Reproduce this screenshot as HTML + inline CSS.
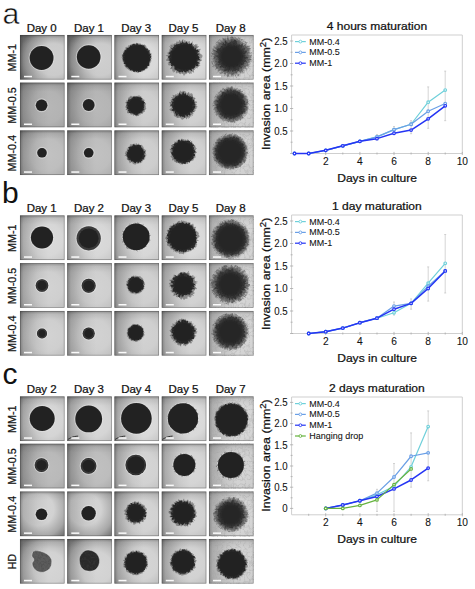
<!DOCTYPE html>
<html><head><meta charset="utf-8"><style>
html,body{margin:0;padding:0;background:#fff;}
body{width:475px;height:589px;overflow:hidden;position:relative;font-family:"Liberation Sans", sans-serif;}
svg{position:absolute;left:0;top:0;font-family:"Liberation Sans", sans-serif;}
.t{stroke:#111;stroke-width:0.24px;}
.s{stroke:#111;stroke-width:0.08px;}
</style></head><body>
<svg width="475" height="589" viewBox="0 0 475 589">
<defs>

<linearGradient id="ledge" x1="0" x2="1"><stop offset="0" stop-color="#000" stop-opacity="0.32"/><stop offset="0.08" stop-color="#000" stop-opacity="0.16"/><stop offset="0.4" stop-color="#000" stop-opacity="0.05"/><stop offset="0.65" stop-color="#000" stop-opacity="0"/></linearGradient>
<linearGradient id="tedge" x1="0" x2="0" y1="0" y2="1"><stop offset="0" stop-color="#000" stop-opacity="0.25"/><stop offset="0.07" stop-color="#000" stop-opacity="0.05"/><stop offset="0.2" stop-color="#000" stop-opacity="0"/></linearGradient>
<filter id="sb" x="-20%" y="-20%" width="140%" height="140%"><feGaussianBlur stdDeviation="0.45"/></filter>
<filter id="sb3" x="-20%" y="-20%" width="140%" height="140%"><feGaussianBlur stdDeviation="0.6"/></filter>
<filter id="sb4" x="-20%" y="-20%" width="140%" height="140%"><feGaussianBlur stdDeviation="1.0"/></filter>
<filter id="sb5" x="-30%" y="-30%" width="160%" height="160%"><feGaussianBlur stdDeviation="2.0"/></filter>
<filter id="sb2" x="-20%" y="-20%" width="140%" height="140%"><feGaussianBlur stdDeviation="0.75"/></filter>
<filter id="mot0" x="0" y="0" width="100%" height="100%"><feTurbulence type="fractalNoise" baseFrequency="0.45" numOctaves="2" seed="2" result="n"/><feColorMatrix in="n" type="matrix" values="0 0 0 0 0  0 0 0 0 0  0 0 0 0 0  3 0 0 0 -1.3" result="m"/><feComposite in="SourceGraphic" in2="m" operator="in"/></filter>
<filter id="tex0" x="0" y="0" width="100%" height="100%"><feTurbulence type="turbulence" baseFrequency="0.22" numOctaves="3" seed="5"/><feColorMatrix type="matrix" values="0 0 0 0 0.35  0 0 0 0 0.35  0 0 0 0 0.35  -1.3 0 0 0 0.42"/></filter>
<filter id="mot1" x="0" y="0" width="100%" height="100%"><feTurbulence type="fractalNoise" baseFrequency="0.45" numOctaves="2" seed="7" result="n"/><feColorMatrix in="n" type="matrix" values="0 0 0 0 0  0 0 0 0 0  0 0 0 0 0  3 0 0 0 -1.3" result="m"/><feComposite in="SourceGraphic" in2="m" operator="in"/></filter>
<filter id="tex1" x="0" y="0" width="100%" height="100%"><feTurbulence type="turbulence" baseFrequency="0.22" numOctaves="3" seed="16"/><feColorMatrix type="matrix" values="0 0 0 0 0.35  0 0 0 0 0.35  0 0 0 0 0.35  -1.3 0 0 0 0.42"/></filter>
<filter id="mot2" x="0" y="0" width="100%" height="100%"><feTurbulence type="fractalNoise" baseFrequency="0.45" numOctaves="2" seed="12" result="n"/><feColorMatrix in="n" type="matrix" values="0 0 0 0 0  0 0 0 0 0  0 0 0 0 0  3 0 0 0 -1.3" result="m"/><feComposite in="SourceGraphic" in2="m" operator="in"/></filter>
<filter id="tex2" x="0" y="0" width="100%" height="100%"><feTurbulence type="turbulence" baseFrequency="0.22" numOctaves="3" seed="27"/><feColorMatrix type="matrix" values="0 0 0 0 0.35  0 0 0 0 0.35  0 0 0 0 0.35  -1.3 0 0 0 0.42"/></filter>

<radialGradient id="g0" cx="0.75" cy="0.55" r="0.8"><stop offset="0" stop-color="#cfcfcf"/><stop offset="0.45" stop-color="#cbcbcb"/><stop offset="0.8" stop-color="#a6a6a6"/><stop offset="1" stop-color="#7e7e7e"/></radialGradient>
<radialGradient id="g1" cx="0.75" cy="0.55" r="0.8"><stop offset="0" stop-color="#cfcfcf"/><stop offset="0.45" stop-color="#cbcbcb"/><stop offset="0.8" stop-color="#a8a8a8"/><stop offset="1" stop-color="#808080"/></radialGradient>
<radialGradient id="g2" cx="0.6" cy="0.55" r="0.8"><stop offset="0" stop-color="#dddddd"/><stop offset="0.45" stop-color="#d9d9d9"/><stop offset="0.8" stop-color="#c2c2c2"/><stop offset="1" stop-color="#a8a8a8"/></radialGradient>
<radialGradient id="g3" cx="0.6" cy="0.55" r="0.8"><stop offset="0" stop-color="#dddddd"/><stop offset="0.45" stop-color="#d9d9d9"/><stop offset="0.8" stop-color="#c8c8c8"/><stop offset="1" stop-color="#b2b2b2"/></radialGradient>
<radialGradient id="g4" cx="0.6" cy="0.55" r="0.8"><stop offset="0" stop-color="#d6d6d6"/><stop offset="0.45" stop-color="#d2d2d2"/><stop offset="0.8" stop-color="#cccccc"/><stop offset="1" stop-color="#c1c1c1"/></radialGradient>
<radialGradient id="fr4"><stop offset="0" stop-color="#2e2e2e"/><stop offset="0.507" stop-color="#363636"/><stop offset="0.798" stop-color="#5e5e5e" stop-opacity="0.55"/><stop offset="1" stop-color="#808080" stop-opacity="0"/></radialGradient>
<radialGradient id="g5" cx="0.6" cy="0.55" r="0.8"><stop offset="0" stop-color="#b7b7b7"/><stop offset="0.45" stop-color="#b3b3b3"/><stop offset="0.8" stop-color="#a0a0a0"/><stop offset="1" stop-color="#888888"/></radialGradient>
<radialGradient id="g6" cx="0.6" cy="0.55" r="0.8"><stop offset="0" stop-color="#b9b9b9"/><stop offset="0.45" stop-color="#b5b5b5"/><stop offset="0.8" stop-color="#a2a2a2"/><stop offset="1" stop-color="#8a8a8a"/></radialGradient>
<radialGradient id="g7" cx="0.6" cy="0.55" r="0.8"><stop offset="0" stop-color="#d1d1d1"/><stop offset="0.45" stop-color="#cdcdcd"/><stop offset="0.8" stop-color="#bababa"/><stop offset="1" stop-color="#a3a3a3"/></radialGradient>
<radialGradient id="g8" cx="0.6" cy="0.55" r="0.8"><stop offset="0" stop-color="#d4d4d4"/><stop offset="0.45" stop-color="#d0d0d0"/><stop offset="0.8" stop-color="#bebebe"/><stop offset="1" stop-color="#a8a8a8"/></radialGradient>
<radialGradient id="g9" cx="0.6" cy="0.55" r="0.8"><stop offset="0" stop-color="#d6d6d6"/><stop offset="0.45" stop-color="#d2d2d2"/><stop offset="0.8" stop-color="#cccccc"/><stop offset="1" stop-color="#c1c1c1"/></radialGradient>
<radialGradient id="fr9"><stop offset="0" stop-color="#2e2e2e"/><stop offset="0.583" stop-color="#363636"/><stop offset="0.843" stop-color="#5e5e5e" stop-opacity="0.55"/><stop offset="1" stop-color="#808080" stop-opacity="0"/></radialGradient>
<radialGradient id="g10" cx="0.6" cy="0.55" r="0.8"><stop offset="0" stop-color="#c2c2c2"/><stop offset="0.45" stop-color="#bebebe"/><stop offset="0.8" stop-color="#aaaaaa"/><stop offset="1" stop-color="#929292"/></radialGradient>
<radialGradient id="g11" cx="0.6" cy="0.55" r="0.8"><stop offset="0" stop-color="#c2c2c2"/><stop offset="0.45" stop-color="#bebebe"/><stop offset="0.8" stop-color="#ababab"/><stop offset="1" stop-color="#949494"/></radialGradient>
<radialGradient id="g12" cx="0.6" cy="0.55" r="0.8"><stop offset="0" stop-color="#d1d1d1"/><stop offset="0.45" stop-color="#cdcdcd"/><stop offset="0.8" stop-color="#bababa"/><stop offset="1" stop-color="#a3a3a3"/></radialGradient>
<radialGradient id="g13" cx="0.6" cy="0.55" r="0.8"><stop offset="0" stop-color="#d4d4d4"/><stop offset="0.45" stop-color="#d0d0d0"/><stop offset="0.8" stop-color="#bebebe"/><stop offset="1" stop-color="#a8a8a8"/></radialGradient>
<radialGradient id="g14" cx="0.6" cy="0.55" r="0.8"><stop offset="0" stop-color="#d6d6d6"/><stop offset="0.45" stop-color="#d2d2d2"/><stop offset="0.8" stop-color="#cccccc"/><stop offset="1" stop-color="#c1c1c1"/></radialGradient>
<radialGradient id="fr14"><stop offset="0" stop-color="#2e2e2e"/><stop offset="0.631" stop-color="#363636"/><stop offset="0.871" stop-color="#5e5e5e" stop-opacity="0.55"/><stop offset="1" stop-color="#808080" stop-opacity="0"/></radialGradient>
<radialGradient id="g15" cx="0.6" cy="0.55" r="0.8"><stop offset="0" stop-color="#dbdbdb"/><stop offset="0.45" stop-color="#d7d7d7"/><stop offset="0.8" stop-color="#c4c4c4"/><stop offset="1" stop-color="#adadad"/></radialGradient>
<radialGradient id="g16" cx="0.6" cy="0.55" r="0.8"><stop offset="0" stop-color="#dbdbdb"/><stop offset="0.45" stop-color="#d7d7d7"/><stop offset="0.8" stop-color="#c4c4c4"/><stop offset="1" stop-color="#adadad"/></radialGradient>
<radialGradient id="g17" cx="0.6" cy="0.55" r="0.8"><stop offset="0" stop-color="#dbdbdb"/><stop offset="0.45" stop-color="#d7d7d7"/><stop offset="0.8" stop-color="#c2c2c2"/><stop offset="1" stop-color="#a8a8a8"/></radialGradient>
<radialGradient id="g18" cx="0.6" cy="0.55" r="0.8"><stop offset="0" stop-color="#dddddd"/><stop offset="0.45" stop-color="#d9d9d9"/><stop offset="0.8" stop-color="#c8c8c8"/><stop offset="1" stop-color="#b2b2b2"/></radialGradient>
<radialGradient id="g19" cx="0.6" cy="0.55" r="0.8"><stop offset="0" stop-color="#d9d9d9"/><stop offset="0.45" stop-color="#d5d5d5"/><stop offset="0.8" stop-color="#d0d0d0"/><stop offset="1" stop-color="#c6c6c6"/></radialGradient>
<radialGradient id="fr19"><stop offset="0" stop-color="#2e2e2e"/><stop offset="0.626" stop-color="#363636"/><stop offset="0.868" stop-color="#5e5e5e" stop-opacity="0.55"/><stop offset="1" stop-color="#808080" stop-opacity="0"/></radialGradient>
<radialGradient id="g20" cx="0.6" cy="0.55" r="0.8"><stop offset="0" stop-color="#d3d3d3"/><stop offset="0.45" stop-color="#cfcfcf"/><stop offset="0.8" stop-color="#bcbcbc"/><stop offset="1" stop-color="#a6a6a6"/></radialGradient>
<radialGradient id="g21" cx="0.6" cy="0.55" r="0.8"><stop offset="0" stop-color="#d3d3d3"/><stop offset="0.45" stop-color="#cfcfcf"/><stop offset="0.8" stop-color="#bcbcbc"/><stop offset="1" stop-color="#a6a6a6"/></radialGradient>
<radialGradient id="g22" cx="0.6" cy="0.55" r="0.8"><stop offset="0" stop-color="#d3d3d3"/><stop offset="0.45" stop-color="#cfcfcf"/><stop offset="0.8" stop-color="#bbbbbb"/><stop offset="1" stop-color="#a3a3a3"/></radialGradient>
<radialGradient id="g23" cx="0.6" cy="0.55" r="0.8"><stop offset="0" stop-color="#d6d6d6"/><stop offset="0.45" stop-color="#d2d2d2"/><stop offset="0.8" stop-color="#bfbfbf"/><stop offset="1" stop-color="#a8a8a8"/></radialGradient>
<radialGradient id="g24" cx="0.6" cy="0.55" r="0.8"><stop offset="0" stop-color="#d9d9d9"/><stop offset="0.45" stop-color="#d5d5d5"/><stop offset="0.8" stop-color="#cecece"/><stop offset="1" stop-color="#c4c4c4"/></radialGradient>
<radialGradient id="fr24"><stop offset="0" stop-color="#2e2e2e"/><stop offset="0.537" stop-color="#363636"/><stop offset="0.816" stop-color="#5e5e5e" stop-opacity="0.55"/><stop offset="1" stop-color="#808080" stop-opacity="0"/></radialGradient>
<radialGradient id="g25" cx="0.6" cy="0.55" r="0.8"><stop offset="0" stop-color="#d3d3d3"/><stop offset="0.45" stop-color="#cfcfcf"/><stop offset="0.8" stop-color="#bcbcbc"/><stop offset="1" stop-color="#a6a6a6"/></radialGradient>
<radialGradient id="g26" cx="0.6" cy="0.55" r="0.8"><stop offset="0" stop-color="#d3d3d3"/><stop offset="0.45" stop-color="#cfcfcf"/><stop offset="0.8" stop-color="#bcbcbc"/><stop offset="1" stop-color="#a6a6a6"/></radialGradient>
<radialGradient id="g27" cx="0.6" cy="0.55" r="0.8"><stop offset="0" stop-color="#d3d3d3"/><stop offset="0.45" stop-color="#cfcfcf"/><stop offset="0.8" stop-color="#bbbbbb"/><stop offset="1" stop-color="#a3a3a3"/></radialGradient>
<radialGradient id="g28" cx="0.6" cy="0.55" r="0.8"><stop offset="0" stop-color="#d6d6d6"/><stop offset="0.45" stop-color="#d2d2d2"/><stop offset="0.8" stop-color="#bfbfbf"/><stop offset="1" stop-color="#a8a8a8"/></radialGradient>
<radialGradient id="g29" cx="0.6" cy="0.55" r="0.8"><stop offset="0" stop-color="#d9d9d9"/><stop offset="0.45" stop-color="#d5d5d5"/><stop offset="0.8" stop-color="#cecece"/><stop offset="1" stop-color="#c4c4c4"/></radialGradient>
<radialGradient id="fr29"><stop offset="0" stop-color="#2e2e2e"/><stop offset="0.590" stop-color="#363636"/><stop offset="0.847" stop-color="#5e5e5e" stop-opacity="0.55"/><stop offset="1" stop-color="#808080" stop-opacity="0"/></radialGradient>
<radialGradient id="g30" cx="0.6" cy="0.55" r="0.8"><stop offset="0" stop-color="#d9d9d9"/><stop offset="0.45" stop-color="#d5d5d5"/><stop offset="0.8" stop-color="#bcbcbc"/><stop offset="1" stop-color="#9e9e9e"/></radialGradient>
<radialGradient id="g31" cx="0.6" cy="0.55" r="0.8"><stop offset="0" stop-color="#d9d9d9"/><stop offset="0.45" stop-color="#d5d5d5"/><stop offset="0.8" stop-color="#bcbcbc"/><stop offset="1" stop-color="#9e9e9e"/></radialGradient>
<radialGradient id="g32" cx="0.6" cy="0.55" r="0.8"><stop offset="0" stop-color="#dddddd"/><stop offset="0.45" stop-color="#d9d9d9"/><stop offset="0.8" stop-color="#c2c2c2"/><stop offset="1" stop-color="#a8a8a8"/></radialGradient>
<radialGradient id="g33" cx="0.6" cy="0.55" r="0.8"><stop offset="0" stop-color="#dddddd"/><stop offset="0.45" stop-color="#d9d9d9"/><stop offset="0.8" stop-color="#c2c2c2"/><stop offset="1" stop-color="#a8a8a8"/></radialGradient>
<radialGradient id="g34" cx="0.6" cy="0.55" r="0.8"><stop offset="0" stop-color="#dbdbdb"/><stop offset="0.45" stop-color="#d7d7d7"/><stop offset="0.8" stop-color="#cecece"/><stop offset="1" stop-color="#c1c1c1"/></radialGradient>
<radialGradient id="g35" cx="0.6" cy="0.55" r="0.8"><stop offset="0" stop-color="#bdbdbd"/><stop offset="0.45" stop-color="#b9b9b9"/><stop offset="0.8" stop-color="#a4a4a4"/><stop offset="1" stop-color="#8c8c8c"/></radialGradient>
<radialGradient id="g36" cx="0.6" cy="0.55" r="0.8"><stop offset="0" stop-color="#c1c1c1"/><stop offset="0.45" stop-color="#bdbdbd"/><stop offset="0.8" stop-color="#a8a8a8"/><stop offset="1" stop-color="#909090"/></radialGradient>
<radialGradient id="g37" cx="0.6" cy="0.55" r="0.8"><stop offset="0" stop-color="#d6d6d6"/><stop offset="0.45" stop-color="#d2d2d2"/><stop offset="0.8" stop-color="#bfbfbf"/><stop offset="1" stop-color="#a8a8a8"/></radialGradient>
<radialGradient id="g38" cx="0.6" cy="0.55" r="0.8"><stop offset="0" stop-color="#d9d9d9"/><stop offset="0.45" stop-color="#d5d5d5"/><stop offset="0.8" stop-color="#c6c6c6"/><stop offset="1" stop-color="#b2b2b2"/></radialGradient>
<radialGradient id="g39" cx="0.6" cy="0.55" r="0.8"><stop offset="0" stop-color="#d6d6d6"/><stop offset="0.45" stop-color="#d2d2d2"/><stop offset="0.8" stop-color="#c9c9c9"/><stop offset="1" stop-color="#bcbcbc"/></radialGradient>
<radialGradient id="g40" cx="0.4" cy="0.4" r="0.8"><stop offset="0" stop-color="#d6d6d6"/><stop offset="0.45" stop-color="#d2d2d2"/><stop offset="0.8" stop-color="#a6a6a6"/><stop offset="1" stop-color="#767676"/></radialGradient>
<radialGradient id="g41" cx="0.4" cy="0.4" r="0.8"><stop offset="0" stop-color="#d6d6d6"/><stop offset="0.45" stop-color="#d2d2d2"/><stop offset="0.8" stop-color="#a8a8a8"/><stop offset="1" stop-color="#7b7b7b"/></radialGradient>
<radialGradient id="g42" cx="0.6" cy="0.55" r="0.8"><stop offset="0" stop-color="#d6d6d6"/><stop offset="0.45" stop-color="#d2d2d2"/><stop offset="0.8" stop-color="#bababa"/><stop offset="1" stop-color="#9e9e9e"/></radialGradient>
<radialGradient id="g43" cx="0.6" cy="0.55" r="0.8"><stop offset="0" stop-color="#d6d6d6"/><stop offset="0.45" stop-color="#d2d2d2"/><stop offset="0.8" stop-color="#bcbcbc"/><stop offset="1" stop-color="#a3a3a3"/></radialGradient>
<radialGradient id="g44" cx="0.6" cy="0.55" r="0.8"><stop offset="0" stop-color="#d9d9d9"/><stop offset="0.45" stop-color="#d5d5d5"/><stop offset="0.8" stop-color="#cacaca"/><stop offset="1" stop-color="#bcbcbc"/></radialGradient>
<radialGradient id="fr44"><stop offset="0" stop-color="#2e2e2e"/><stop offset="0.550" stop-color="#363636"/><stop offset="0.824" stop-color="#5e5e5e" stop-opacity="0.55"/><stop offset="1" stop-color="#808080" stop-opacity="0"/></radialGradient>
<radialGradient id="g45" cx="0.65" cy="0.65" r="0.8"><stop offset="0" stop-color="#d6d6d6"/><stop offset="0.45" stop-color="#d2d2d2"/><stop offset="0.8" stop-color="#b2b2b2"/><stop offset="1" stop-color="#8f8f8f"/></radialGradient>
<radialGradient id="g46" cx="0.65" cy="0.65" r="0.8"><stop offset="0" stop-color="#d6d6d6"/><stop offset="0.45" stop-color="#d2d2d2"/><stop offset="0.8" stop-color="#b2b2b2"/><stop offset="1" stop-color="#8f8f8f"/></radialGradient>
<radialGradient id="g47" cx="0.6" cy="0.55" r="0.8"><stop offset="0" stop-color="#d6d6d6"/><stop offset="0.45" stop-color="#d2d2d2"/><stop offset="0.8" stop-color="#bababa"/><stop offset="1" stop-color="#9e9e9e"/></radialGradient>
<radialGradient id="g48" cx="0.6" cy="0.55" r="0.8"><stop offset="0" stop-color="#d6d6d6"/><stop offset="0.45" stop-color="#d2d2d2"/><stop offset="0.8" stop-color="#bababa"/><stop offset="1" stop-color="#9e9e9e"/></radialGradient>
<radialGradient id="g49" cx="0.6" cy="0.55" r="0.8"><stop offset="0" stop-color="#d6d6d6"/><stop offset="0.45" stop-color="#d2d2d2"/><stop offset="0.8" stop-color="#c9c9c9"/><stop offset="1" stop-color="#bcbcbc"/></radialGradient>
</defs>
<g transform="translate(20,35)">
<rect width="44.5" height="44.5" fill="url(#g0)"/>
<rect width="44.5" height="44.5" fill="url(#ledge)"/>
<rect width="44.5" height="44.5" fill="url(#tedge)"/>
<circle cx="21.6" cy="23.0" r="12.60" fill="none" stroke="#e8e8e8" stroke-width="0.9" opacity="0.55"/>
<circle cx="21.6" cy="23.0" r="11.9" fill="#232323" filter="url(#sb)"/>
<rect x="4" y="40.8" width="8" height="1.5" fill="#fafafa"/>
<rect x="0.3" y="0.3" width="43.9" height="43.9" fill="none" stroke="#3a3a3a" stroke-width="0.7" opacity="0.5"/>
</g>
<g transform="translate(67.3,35)">
<rect width="44.5" height="44.5" fill="url(#g1)"/>
<rect width="44.5" height="44.5" fill="url(#ledge)"/>
<rect width="44.5" height="44.5" fill="url(#tedge)"/>
<circle cx="21.4" cy="22.0" r="12.50" fill="none" stroke="#e8e8e8" stroke-width="0.9" opacity="0.55"/>
<circle cx="21.4" cy="22.0" r="11.8" fill="#232323" filter="url(#sb)"/>
<rect x="4" y="40.8" width="8" height="1.5" fill="#fafafa"/>
<rect x="0.3" y="0.3" width="43.9" height="43.9" fill="none" stroke="#3a3a3a" stroke-width="0.7" opacity="0.5"/>
</g>
<g transform="translate(114.5,35)">
<rect width="44.5" height="44.5" fill="url(#g2)"/>
<rect width="44.5" height="44.5" fill="url(#ledge)"/>
<rect width="44.5" height="44.5" fill="url(#tedge)"/>
<polygon points="37.1,22.8 37.3,23.5 37.3,24.1 36.3,24.6 36.4,25.3 37.2,26.1 36.4,26.6 36.1,27.1 36.2,27.8 35.3,28.1 35.8,29.1 35.3,29.5 34.8,30.0 35.4,31.0 34.4,31.2 33.3,31.2 33.8,32.3 33.5,33.0 33.0,33.4 32.5,33.8 32.0,34.2 30.7,33.7 31.0,35.0 30.4,35.3 29.7,35.3 29.3,35.9 28.6,36.0 28.1,36.6 27.5,36.8 26.8,36.8 26.1,36.5 25.6,36.9 25.0,37.1 24.4,37.8 23.8,38.0 23.1,38.0 22.5,37.5 21.8,36.8 21.2,37.4 20.6,36.9 19.9,37.5 19.4,36.6 18.7,37.1 18.3,36.0 17.5,36.6 17.0,36.2 16.3,36.1 15.8,35.8 15.3,35.4 14.7,35.2 14.0,35.1 13.7,34.3 13.1,34.1 12.2,34.2 12.3,33.2 11.8,32.7 11.3,32.4 10.8,31.9 10.6,31.3 9.7,31.2 9.8,30.3 10.1,29.4 9.6,29.0 9.6,28.3 9.1,27.9 9.1,27.3 8.6,26.8 8.0,26.3 7.8,25.7 8.2,25.0 7.8,24.4 7.6,23.8 7.4,23.1 6.9,22.5 7.6,21.8 7.2,21.2 7.4,20.5 7.2,19.8 7.9,19.3 9.1,19.0 8.9,18.3 8.1,17.3 8.9,16.9 8.9,16.3 9.7,15.9 9.6,15.2 10.1,14.7 10.5,14.2 11.1,13.9 10.7,12.7 11.2,12.3 11.8,11.9 12.5,11.8 13.4,11.8 13.7,11.2 13.7,10.1 14.6,10.4 15.3,10.2 15.6,9.5 16.4,9.7 16.8,9.0 17.7,9.5 18.0,8.7 18.8,9.0 19.4,8.9 19.9,8.4 20.5,8.1 21.2,8.9 21.8,8.1 22.5,7.5 23.1,8.4 23.7,8.2 24.3,8.5 25.0,8.4 25.7,8.3 26.2,8.8 26.7,9.2 27.2,9.6 28.0,9.3 28.3,10.2 29.3,9.6 30.2,9.4 30.6,10.0 31.2,10.2 31.2,11.3 31.9,11.5 32.2,12.1 32.2,13.0 32.9,13.2 33.3,13.7 33.6,14.2 34.2,14.5 34.5,15.1 35.7,15.1 35.2,16.1 35.7,16.6 35.9,17.2 35.2,18.1 36.7,18.3 37.2,18.8 36.9,19.6 36.8,20.3 37.2,20.8 37.1,21.5 36.8,22.2" fill="#4a4a4a" opacity="0.5" filter="url(#sb3)"/>
<polygon points="36.4,22.8 35.5,23.4 36.0,24.0 36.1,24.6 36.1,25.2 35.5,25.7 35.6,26.3 34.9,26.8 35.2,27.4 34.5,27.8 34.6,28.5 34.6,29.1 34.6,29.9 34.6,30.6 34.1,31.0 33.2,31.1 32.6,31.4 32.6,32.2 32.3,32.7 32.0,33.2 31.1,33.2 31.1,34.1 30.3,34.0 30.1,34.9 29.6,35.2 28.8,35.1 28.2,35.3 27.8,35.8 27.1,35.5 26.7,36.2 26.2,36.7 25.6,37.0 24.9,36.8 24.3,36.9 23.7,37.0 23.0,36.3 22.4,36.6 21.8,37.5 21.3,36.3 20.7,36.2 20.0,36.8 19.3,37.1 18.8,36.5 18.5,35.4 17.8,35.8 17.4,35.1 16.7,35.3 16.0,35.3 15.4,35.2 15.3,34.1 14.8,33.9 14.3,33.6 13.9,33.2 13.6,32.6 13.0,32.4 12.6,32.0 12.0,31.7 11.0,31.8 11.3,30.8 10.9,30.4 11.0,29.6 10.9,29.0 9.7,29.0 9.2,28.5 9.1,27.9 9.9,27.0 9.1,26.6 9.3,26.0 8.6,25.5 8.5,24.9 8.6,24.3 8.3,23.7 8.7,23.1 8.5,22.5 8.1,21.9 8.3,21.3 8.2,20.6 7.9,20.0 8.9,19.5 8.6,18.8 8.7,18.2 9.4,17.8 9.7,17.3 9.7,16.6 10.3,16.3 10.1,15.4 10.7,15.1 11.9,15.2 11.7,14.3 11.9,13.8 12.2,13.2 12.8,13.0 13.6,13.0 14.2,12.8 14.4,12.2 15.0,12.0 15.3,11.4 15.5,10.6 16.0,10.2 16.9,10.8 17.2,10.1 17.8,9.8 18.2,9.3 18.7,8.6 19.5,9.2 20.0,9.0 20.7,9.2 21.3,9.7 21.9,9.0 22.5,8.1 23.1,8.7 23.6,9.6 24.2,9.6 24.7,9.8 25.4,9.6 26.0,9.6 26.4,10.1 27.1,10.0 27.8,9.8 28.1,10.5 28.9,10.4 29.7,10.1 29.8,11.2 30.1,11.8 30.6,12.1 30.8,12.8 31.2,13.2 31.6,13.6 32.6,13.4 33.3,13.7 33.5,14.3 33.1,15.3 33.8,15.5 34.9,15.6 34.9,16.3 34.6,17.1 35.1,17.5 34.9,18.3 35.2,18.8 36.4,19.1 36.3,19.7 35.9,20.4 36.1,21.0 36.8,21.5 36.5,22.2" fill="#282828" opacity="1" filter="url(#sb3)"/>
<g stroke="#404040" stroke-linecap="round" opacity="0.5" filter="url(#sb)"><line x1="33.2" y1="19.7" x2="34.7" y2="15.3" stroke-width="0.47"/><line x1="28.1" y1="13.1" x2="30.7" y2="11.5" stroke-width="0.59"/><line x1="13.4" y1="15.8" x2="11.9" y2="13.7" stroke-width="0.51"/><line x1="12.0" y1="27.6" x2="9.5" y2="26.8" stroke-width="0.98"/><line x1="33.1" y1="19.3" x2="35.2" y2="18.1" stroke-width="0.57"/><line x1="33.4" y1="25.3" x2="34.7" y2="25.4" stroke-width="0.60"/><line x1="14.0" y1="30.6" x2="11.6" y2="32.5" stroke-width="0.73"/><line x1="23.3" y1="34.1" x2="24.7" y2="35.2" stroke-width="0.50"/><line x1="11.0" y1="22.1" x2="7.9" y2="20.3" stroke-width="0.52"/><line x1="31.2" y1="15.8" x2="34.6" y2="15.6" stroke-width="0.93"/><line x1="23.2" y1="11.5" x2="22.2" y2="8.6" stroke-width="0.97"/><line x1="33.3" y1="20.1" x2="35.2" y2="21.7" stroke-width="0.82"/><line x1="11.3" y1="25.5" x2="9.0" y2="26.2" stroke-width="0.94"/><line x1="11.0" y1="22.7" x2="8.1" y2="24.0" stroke-width="0.91"/><line x1="31.5" y1="16.1" x2="33.5" y2="15.3" stroke-width="0.94"/><line x1="20.4" y1="11.6" x2="17.9" y2="10.0" stroke-width="0.60"/><line x1="18.8" y1="12.0" x2="21.4" y2="9.9" stroke-width="0.57"/><line x1="31.9" y1="16.8" x2="35.0" y2="19.1" stroke-width="0.82"/><line x1="11.0" y1="22.5" x2="8.7" y2="21.2" stroke-width="0.75"/><line x1="18.0" y1="33.3" x2="17.3" y2="34.8" stroke-width="0.94"/></g>
<circle cx="22.3" cy="22.8" r="12.6" fill="#242424" filter="url(#sb2)"/>
<rect x="4" y="40.8" width="8" height="1.5" fill="#fafafa"/>
<rect x="0.3" y="0.3" width="43.9" height="43.9" fill="none" stroke="#3a3a3a" stroke-width="0.7" opacity="0.5"/>
</g>
<g transform="translate(161.8,35)">
<rect width="44.5" height="44.5" fill="url(#g3)"/>
<rect width="44.5" height="44.5" fill="url(#ledge)"/>
<rect width="44.5" height="44.5" fill="url(#tedge)"/>
<polygon points="39.9,22.3 40.6,23.1 38.4,23.7 38.3,24.4 39.8,25.3 39.4,26.0 38.0,26.4 37.9,27.2 38.7,28.2 37.8,28.6 37.2,29.1 38.7,30.7 36.9,30.6 37.1,31.6 36.5,32.1 35.7,32.4 35.8,33.4 34.0,32.8 34.1,33.8 32.9,33.6 33.4,35.3 31.9,34.6 32.2,36.0 32.3,37.5 31.3,37.4 29.6,35.9 30.0,38.1 29.5,39.0 28.4,38.3 28.0,39.3 26.8,38.0 26.0,37.5 25.3,37.8 24.7,38.3 24.2,39.5 23.4,39.0 22.7,40.5 21.9,40.7 21.2,39.0 20.5,38.9 19.9,38.2 19.0,39.2 18.2,39.1 17.5,38.9 17.1,37.8 16.1,38.5 15.7,37.6 14.4,38.7 14.3,37.1 14.4,35.5 12.5,37.2 11.4,37.4 11.5,36.0 10.2,36.4 10.7,34.7 10.1,34.2 9.4,33.9 8.4,33.7 9.6,31.9 9.8,30.9 9.0,30.6 8.0,30.4 6.7,30.3 6.2,29.7 6.9,28.6 5.5,28.3 6.9,27.1 7.7,26.2 5.9,25.9 4.1,25.5 4.4,24.6 5.7,23.7 5.2,23.0 6.5,22.3 5.9,21.6 3.7,20.7 5.1,20.1 6.8,19.6 6.1,18.8 4.9,17.7 7.0,17.5 7.5,17.0 6.6,15.9 7.8,15.7 7.6,14.8 7.8,14.1 8.2,13.5 8.9,13.1 9.1,12.3 8.4,10.8 8.8,10.2 9.0,9.3 11.2,10.5 12.1,10.4 11.7,8.9 12.8,9.1 12.9,8.0 14.0,8.4 14.4,7.6 14.6,6.5 15.6,6.7 16.2,6.4 17.1,6.7 17.3,4.8 18.3,5.5 19.2,6.6 19.8,5.7 20.4,5.0 21.2,4.9 22.0,7.2 22.7,4.9 23.4,5.1 24.0,6.4 24.8,6.1 25.5,5.8 25.9,7.3 26.9,6.2 27.7,6.0 28.3,6.7 28.3,8.4 29.3,7.9 31.2,5.9 30.7,8.2 30.9,9.1 31.8,9.1 31.7,10.4 33.5,9.3 34.6,9.2 34.4,10.4 35.2,10.7 35.6,11.4 36.4,11.7 35.5,13.2 35.1,14.3 36.3,14.3 38.8,13.8 38.7,14.8 37.2,16.2 38.2,16.6 37.5,17.6 38.5,18.0 38.4,18.8 39.4,19.3 40.6,19.9 40.6,20.7 40.8,21.5" fill="#4a4a4a" opacity="0.5" filter="url(#sb3)"/>
<polygon points="38.0,22.3 37.4,22.9 37.1,23.6 38.6,24.4 37.5,24.9 35.8,25.3 36.0,25.9 35.2,26.3 37.1,27.6 37.9,28.7 35.7,28.5 36.2,29.4 36.6,30.4 36.4,31.1 35.2,31.2 33.3,30.6 33.7,31.7 33.1,32.0 33.0,32.8 32.3,33.0 31.8,33.4 31.9,34.5 30.6,33.8 29.9,33.8 30.1,35.4 29.9,36.4 28.5,35.1 27.7,34.7 27.4,35.6 26.6,35.2 26.6,37.1 25.7,36.3 25.0,36.1 24.6,37.2 23.9,37.4 23.3,37.2 22.6,37.1 22.0,35.9 21.4,36.5 20.6,37.7 20.1,36.5 19.4,37.0 18.8,36.8 17.8,37.8 17.4,37.1 16.7,36.8 16.4,36.0 15.7,35.9 15.1,35.6 14.6,35.2 13.9,35.1 13.4,34.6 12.7,34.5 12.6,33.6 12.6,32.6 12.7,31.7 12.3,31.3 12.0,30.8 11.0,30.8 9.2,31.3 9.2,30.5 9.7,29.4 8.6,29.3 9.4,28.2 8.5,27.9 7.3,27.7 8.2,26.7 7.9,26.1 7.7,25.5 6.6,25.0 7.7,24.2 7.5,23.6 6.6,23.0 6.4,22.3 6.2,21.6 7.5,21.0 7.5,20.4 8.5,19.9 7.8,19.1 6.7,18.2 6.9,17.5 8.4,17.3 8.9,16.8 7.9,15.7 9.5,15.8 9.9,15.2 10.2,14.7 9.4,13.4 10.0,13.0 11.7,13.5 11.1,12.2 11.9,12.1 12.1,11.4 12.3,10.6 12.8,10.3 13.3,9.8 14.1,9.9 14.6,9.3 14.9,8.6 16.1,9.6 16.5,8.9 17.2,9.0 17.7,8.7 18.4,8.8 18.7,7.3 19.4,7.5 20.1,7.9 20.5,6.0 21.3,7.3 22.0,8.3 22.6,7.6 23.2,8.5 23.9,7.3 24.7,6.5 25.2,7.6 25.7,8.3 26.3,8.4 26.7,9.2 27.7,8.3 28.0,9.0 28.8,9.0 30.2,7.8 30.4,8.7 30.0,10.6 31.0,10.3 30.9,11.4 31.6,11.4 32.4,11.5 32.2,12.6 32.2,13.4 34.0,12.7 34.0,13.5 34.2,14.1 34.1,14.9 36.1,14.5 36.8,14.9 36.0,16.0 37.8,16.0 36.1,17.3 35.2,18.3 36.5,18.5 37.7,18.9 36.3,19.9 36.3,20.5 36.7,21.1 37.3,21.7" fill="#282828" opacity="1" filter="url(#sb3)"/>
<g stroke="#404040" stroke-linecap="round" opacity="0.5" filter="url(#sb)"><line x1="23.2" y1="33.8" x2="24.8" y2="38.3" stroke-width="0.76"/><line x1="14.2" y1="14.1" x2="9.8" y2="15.5" stroke-width="0.89"/><line x1="21.6" y1="33.8" x2="17.1" y2="36.3" stroke-width="0.68"/><line x1="28.3" y1="12.4" x2="31.7" y2="9.4" stroke-width="0.50"/><line x1="14.7" y1="13.7" x2="10.8" y2="9.0" stroke-width="0.84"/><line x1="16.8" y1="12.2" x2="17.6" y2="8.9" stroke-width="0.75"/><line x1="18.7" y1="33.2" x2="15.0" y2="34.4" stroke-width="0.68"/><line x1="20.1" y1="11.0" x2="21.1" y2="4.7" stroke-width="0.94"/><line x1="13.2" y1="29.4" x2="9.0" y2="33.4" stroke-width="0.94"/><line x1="30.6" y1="14.4" x2="30.3" y2="10.3" stroke-width="0.54"/><line x1="33.6" y1="19.8" x2="37.9" y2="20.1" stroke-width="0.59"/><line x1="10.8" y1="21.8" x2="6.7" y2="23.0" stroke-width="0.75"/><line x1="12.4" y1="16.5" x2="8.1" y2="11.7" stroke-width="0.94"/><line x1="29.4" y1="13.3" x2="34.9" y2="9.3" stroke-width="0.51"/><line x1="29.7" y1="13.5" x2="36.8" y2="11.7" stroke-width="0.74"/><line x1="19.7" y1="11.1" x2="21.9" y2="7.4" stroke-width="0.74"/><line x1="19.8" y1="33.5" x2="16.3" y2="35.2" stroke-width="0.97"/><line x1="32.1" y1="28.4" x2="37.5" y2="30.6" stroke-width="0.50"/><line x1="19.2" y1="33.4" x2="14.1" y2="37.4" stroke-width="0.44"/><line x1="13.6" y1="14.7" x2="12.9" y2="11.6" stroke-width="0.61"/><line x1="30.7" y1="14.5" x2="35.6" y2="10.1" stroke-width="0.98"/><line x1="18.1" y1="33.0" x2="16.3" y2="35.3" stroke-width="0.44"/><line x1="26.0" y1="33.2" x2="26.4" y2="37.4" stroke-width="0.51"/><line x1="33.4" y1="25.3" x2="39.7" y2="25.0" stroke-width="0.96"/><line x1="31.5" y1="15.3" x2="34.5" y2="12.6" stroke-width="0.71"/><line x1="15.2" y1="13.2" x2="12.6" y2="9.0" stroke-width="0.77"/><line x1="33.0" y1="18.1" x2="37.0" y2="15.8" stroke-width="0.82"/><line x1="23.2" y1="33.8" x2="19.1" y2="37.2" stroke-width="0.71"/><line x1="11.3" y1="18.8" x2="8.7" y2="18.8" stroke-width="0.74"/><line x1="33.7" y1="23.7" x2="38.5" y2="25.7" stroke-width="0.45"/></g>
<circle cx="22.3" cy="22.3" r="12.8" fill="#242424" filter="url(#sb2)"/>
<rect x="4" y="40.8" width="8" height="1.5" fill="#fafafa"/>
<rect x="0.3" y="0.3" width="43.9" height="43.9" fill="none" stroke="#3a3a3a" stroke-width="0.7" opacity="0.5"/>
</g>
<g transform="translate(209,35)">
<rect width="44.5" height="44.5" fill="url(#g4)"/>
<rect width="44.5" height="44.5" fill="url(#ledge)"/>
<rect width="44.5" height="44.5" fill="url(#tedge)"/>
<rect width="44.5" height="44.5" filter="url(#tex1)"/>
<circle cx="22.4" cy="21.5" r="20.79" fill="url(#fr4)"/>
<polygon points="41.7,21.5 42.8,22.4 41.2,23.2 41.6,24.1 41.8,25.0 40.3,25.6 40.9,26.6 40.9,27.5 40.1,28.1 36.8,27.6 38.0,29.0 40.9,31.4 38.9,31.4 36.5,30.8 37.0,32.1 35.2,31.7 35.4,32.9 35.3,33.8 34.0,33.7 33.0,33.7 33.6,35.5 33.6,36.9 32.4,36.6 32.2,37.9 31.5,38.4 29.2,35.7 28.8,36.6 28.0,36.4 28.0,38.6 27.1,38.6 26.3,38.6 25.4,38.0 24.9,40.3 24.2,41.1 23.2,40.4 22.4,41.5 21.6,39.2 20.8,38.8 19.9,40.2 19.4,37.9 18.8,37.3 18.3,36.5 16.7,39.1 15.4,40.2 15.6,37.5 14.6,37.8 14.0,37.0 13.6,36.3 13.0,35.7 12.1,35.7 11.4,35.3 8.9,37.0 10.0,34.5 9.1,34.2 8.2,33.9 7.5,33.4 7.5,32.3 7.1,31.6 6.1,31.2 8.0,29.3 7.4,28.7 6.7,28.2 5.1,28.0 5.5,27.0 5.8,26.1 7.0,25.0 5.9,24.5 3.5,24.1 4.9,23.1 4.4,22.3 5.3,21.5 5.3,20.7 4.8,19.9 2.1,18.8 3.6,18.1 4.7,17.5 5.2,16.7 3.3,15.3 5.2,15.1 7.6,15.2 6.7,13.9 4.2,11.7 6.8,12.2 7.6,11.7 8.3,11.2 6.5,8.8 8.8,9.6 9.0,8.7 9.3,7.8 10.3,7.6 11.4,7.8 12.5,7.9 12.4,6.4 13.8,7.0 13.5,4.9 13.4,2.8 14.4,2.9 15.7,3.6 16.8,4.2 18.1,5.8 18.1,2.8 18.7,1.3 20.0,3.9 21.0,5.8 21.6,3.9 22.4,3.7 23.3,2.1 24.2,2.0 24.9,3.3 25.7,3.4 26.5,3.5 27.5,3.1 28.3,3.4 29.1,3.6 29.5,4.9 31.0,3.6 30.5,6.5 31.1,7.0 32.0,7.0 31.5,8.9 33.4,7.8 33.7,8.5 34.1,9.3 33.9,10.5 35.5,10.1 37.0,9.9 36.6,11.2 39.2,10.4 39.6,11.2 38.5,12.8 39.4,13.3 40.8,13.6 40.5,14.7 40.6,15.6 40.1,16.6 40.3,17.4 39.4,18.4 38.2,19.4 41.0,19.8 41.5,20.6" fill="#4c4c4c" opacity="0.45" filter="url(#sb3)"/>
<circle cx="22.4" cy="21.5" r="20.79" fill="#3a3a3a" filter="url(#mot1)" opacity="0.5"/>
<polygon points="35.7,21.5 38.6,22.2 38.6,23.0 36.6,23.4 37.6,24.3 35.4,24.5 37.0,25.5 38.0,26.6 36.1,26.7 35.0,26.9 34.7,27.4 35.6,28.6 34.7,28.8 34.6,29.6 34.3,30.2 32.9,29.9 32.7,30.5 31.4,30.1 32.7,32.3 32.9,33.6 31.2,32.6 30.2,32.3 30.5,33.8 29.9,34.0 29.9,35.5 29.4,36.0 28.3,35.2 27.5,35.0 27.0,35.8 26.5,36.3 25.7,36.1 25.1,36.3 24.4,36.1 23.8,37.2 23.1,36.0 22.4,34.4 21.8,35.9 21.2,35.3 20.5,35.6 19.7,36.5 18.9,36.9 18.6,35.3 17.9,35.4 16.9,36.0 16.0,36.5 15.3,36.2 14.9,35.5 16.0,32.3 14.6,33.3 14.1,32.9 13.7,32.5 13.3,31.9 11.9,32.4 10.7,32.7 11.1,31.4 12.6,29.3 10.6,30.1 8.6,30.6 9.8,29.0 10.4,28.0 9.5,27.7 8.3,27.5 9.3,26.4 9.9,25.6 10.2,24.9 9.8,24.4 8.4,24.0 10.0,23.2 9.0,22.7 8.8,22.1 6.7,21.5 5.9,20.8 8.9,20.3 9.6,19.8 9.4,19.1 9.7,18.6 8.1,17.5 6.1,16.2 8.0,16.1 7.9,15.3 8.3,14.7 7.4,13.4 9.3,13.7 9.3,12.9 11.2,13.4 11.3,12.7 12.3,12.7 11.7,11.2 12.2,10.8 13.7,11.6 13.3,10.1 13.1,8.8 14.1,8.9 13.7,6.9 15.7,9.1 16.3,8.8 15.9,6.4 16.3,5.4 17.8,7.3 18.9,8.9 19.3,8.0 19.8,7.4 20.5,7.4 21.1,7.1 21.7,6.7 22.4,4.7 23.1,7.0 23.9,5.0 24.5,6.1 25.5,4.5 26.2,4.9 26.9,5.2 27.3,6.4 28.2,5.9 27.9,8.5 28.4,8.9 28.6,10.0 28.8,10.8 30.7,8.9 30.7,10.1 31.4,10.2 33.5,8.8 33.6,9.7 33.5,10.9 32.9,12.3 32.4,13.5 33.3,13.6 35.2,13.0 36.3,13.2 36.1,14.1 34.9,15.5 34.4,16.4 37.0,16.0 37.8,16.5 37.1,17.4 37.3,18.1 35.5,19.1 35.2,19.8 37.3,20.2 34.7,20.9" fill="#303030" opacity="0.9" filter="url(#sb3)"/>
<g stroke="#4a4a4a" stroke-linecap="round" opacity="0.5" filter="url(#sb)"><line x1="23.3" y1="32.1" x2="24.7" y2="36.8" stroke-width="0.51"/><line x1="32.1" y1="25.8" x2="36.2" y2="32.4" stroke-width="0.87"/><line x1="23.4" y1="10.9" x2="24.3" y2="5.3" stroke-width="0.57"/><line x1="27.4" y1="30.9" x2="31.9" y2="33.8" stroke-width="0.94"/><line x1="27.5" y1="12.2" x2="35.1" y2="5.6" stroke-width="0.53"/><line x1="18.5" y1="31.4" x2="13.0" y2="38.1" stroke-width="0.90"/><line x1="30.1" y1="14.2" x2="34.2" y2="11.7" stroke-width="0.80"/><line x1="11.8" y1="21.1" x2="6.4" y2="21.2" stroke-width="0.47"/><line x1="32.1" y1="17.3" x2="41.6" y2="13.8" stroke-width="0.59"/><line x1="31.3" y1="15.7" x2="40.0" y2="15.2" stroke-width="0.89"/><line x1="11.8" y1="20.9" x2="4.9" y2="19.5" stroke-width="0.66"/><line x1="28.0" y1="30.5" x2="28.5" y2="37.2" stroke-width="0.44"/><line x1="32.6" y1="24.5" x2="41.2" y2="24.5" stroke-width="0.72"/><line x1="12.0" y1="23.4" x2="5.4" y2="19.5" stroke-width="0.53"/><line x1="13.3" y1="27.0" x2="8.0" y2="28.8" stroke-width="0.57"/><line x1="15.8" y1="29.9" x2="11.9" y2="38.4" stroke-width="0.73"/><line x1="31.2" y1="15.5" x2="32.4" y2="9.7" stroke-width="0.55"/><line x1="23.4" y1="10.9" x2="21.2" y2="2.5" stroke-width="0.61"/><line x1="27.1" y1="31.0" x2="34.3" y2="34.9" stroke-width="0.81"/><line x1="30.8" y1="15.0" x2="41.0" y2="11.0" stroke-width="0.96"/><line x1="33.0" y1="22.7" x2="37.9" y2="27.9" stroke-width="0.85"/><line x1="13.4" y1="27.2" x2="3.6" y2="31.5" stroke-width="0.88"/><line x1="19.5" y1="31.7" x2="18.6" y2="37.1" stroke-width="0.50"/><line x1="14.6" y1="28.7" x2="8.2" y2="37.5" stroke-width="0.43"/><line x1="32.6" y1="24.4" x2="36.7" y2="28.5" stroke-width="0.62"/><line x1="19.7" y1="31.8" x2="14.4" y2="34.7" stroke-width="0.66"/><line x1="25.2" y1="31.8" x2="30.1" y2="34.6" stroke-width="0.51"/><line x1="17.7" y1="12.0" x2="11.8" y2="9.8" stroke-width="0.69"/><line x1="22.5" y1="32.1" x2="27.4" y2="42.6" stroke-width="0.72"/><line x1="24.0" y1="11.0" x2="29.9" y2="5.6" stroke-width="0.69"/><line x1="22.9" y1="32.1" x2="28.1" y2="38.1" stroke-width="0.66"/><line x1="22.5" y1="32.1" x2="18.5" y2="42.0" stroke-width="0.70"/><line x1="32.8" y1="23.6" x2="38.9" y2="22.2" stroke-width="0.54"/><line x1="23.6" y1="32.0" x2="29.2" y2="41.1" stroke-width="0.45"/><line x1="32.0" y1="16.9" x2="40.8" y2="18.6" stroke-width="0.65"/><line x1="31.0" y1="15.3" x2="39.8" y2="13.2" stroke-width="0.84"/><line x1="11.8" y1="21.9" x2="7.3" y2="24.7" stroke-width="0.91"/><line x1="31.0" y1="15.2" x2="38.2" y2="7.4" stroke-width="0.79"/><line x1="25.7" y1="11.4" x2="31.6" y2="4.7" stroke-width="0.72"/><line x1="16.4" y1="12.7" x2="9.3" y2="7.1" stroke-width="0.94"/><line x1="32.6" y1="18.6" x2="37.7" y2="21.6" stroke-width="0.96"/><line x1="17.2" y1="12.2" x2="18.3" y2="7.0" stroke-width="0.49"/><line x1="32.8" y1="19.4" x2="39.7" y2="12.9" stroke-width="0.51"/><line x1="15.4" y1="13.5" x2="12.3" y2="5.8" stroke-width="0.94"/><line x1="24.5" y1="31.9" x2="21.6" y2="36.3" stroke-width="0.43"/><line x1="30.0" y1="14.1" x2="35.3" y2="12.8" stroke-width="0.86"/><line x1="30.0" y1="14.1" x2="38.3" y2="12.0" stroke-width="0.53"/><line x1="17.4" y1="12.1" x2="18.0" y2="5.0" stroke-width="0.85"/><line x1="11.9" y1="23.4" x2="5.9" y2="29.7" stroke-width="0.44"/><line x1="13.6" y1="15.6" x2="9.9" y2="8.3" stroke-width="0.76"/><line x1="29.2" y1="29.6" x2="31.3" y2="36.3" stroke-width="0.71"/><line x1="33.0" y1="22.2" x2="42.2" y2="26.8" stroke-width="0.47"/><line x1="12.2" y1="18.6" x2="6.7" y2="14.0" stroke-width="0.59"/><line x1="23.5" y1="32.1" x2="19.2" y2="39.3" stroke-width="0.47"/><line x1="30.4" y1="28.5" x2="33.5" y2="37.0" stroke-width="0.71"/><line x1="12.7" y1="25.8" x2="2.4" y2="26.6" stroke-width="0.46"/><line x1="30.2" y1="14.3" x2="32.9" y2="9.2" stroke-width="0.89"/><line x1="13.0" y1="26.5" x2="6.7" y2="34.4" stroke-width="0.91"/><line x1="27.1" y1="31.0" x2="29.5" y2="35.6" stroke-width="0.61"/><line x1="12.1" y1="18.7" x2="3.0" y2="13.5" stroke-width="0.42"/></g>
<circle cx="22.4" cy="21.5" r="11.80" fill="#282828" filter="url(#sb4)"/>
<rect x="4" y="40.8" width="8" height="1.5" fill="#fafafa"/>
<rect x="0.3" y="0.3" width="43.9" height="43.9" fill="none" stroke="#3a3a3a" stroke-width="0.7" opacity="0.5"/>
</g>
<text transform="translate(16.20,57.75) rotate(-90)" text-anchor="middle" font-size="10.8" fill="#111" class="t">MM-1</text>
<g transform="translate(20,82.7)">
<rect width="44.5" height="44.5" fill="url(#g5)"/>
<rect width="44.5" height="44.5" fill="url(#ledge)"/>
<rect width="44.5" height="44.5" fill="url(#tedge)"/>
<circle cx="21.6" cy="22.6" r="6.50" fill="none" stroke="#e8e8e8" stroke-width="0.9" opacity="0.55"/>
<circle cx="21.6" cy="22.6" r="5.8" fill="#232323" filter="url(#sb)"/>
<rect x="4" y="40.8" width="8" height="1.5" fill="#fafafa"/>
<rect x="0.3" y="0.3" width="43.9" height="43.9" fill="none" stroke="#3a3a3a" stroke-width="0.7" opacity="0.5"/>
</g>
<g transform="translate(67.3,82.7)">
<rect width="44.5" height="44.5" fill="url(#g6)"/>
<rect width="44.5" height="44.5" fill="url(#ledge)"/>
<rect width="44.5" height="44.5" fill="url(#tedge)"/>
<circle cx="21.4" cy="22.3" r="6.60" fill="none" stroke="#e8e8e8" stroke-width="0.9" opacity="0.55"/>
<circle cx="21.4" cy="22.3" r="5.9" fill="#232323" filter="url(#sb)"/>
<rect x="4" y="40.8" width="8" height="1.5" fill="#fafafa"/>
<rect x="0.3" y="0.3" width="43.9" height="43.9" fill="none" stroke="#3a3a3a" stroke-width="0.7" opacity="0.5"/>
</g>
<g transform="translate(114.5,82.7)">
<rect width="44.5" height="44.5" fill="url(#g7)"/>
<rect width="44.5" height="44.5" fill="url(#ledge)"/>
<rect width="44.5" height="44.5" fill="url(#tedge)"/>
<polygon points="31.0,23.0 31.3,23.6 31.3,24.1 31.2,24.7 31.6,25.3 31.8,26.0 31.2,26.4 31.1,27.0 30.5,27.3 29.9,27.7 30.3,28.5 30.3,29.3 29.5,29.3 29.0,29.7 28.2,29.8 28.6,30.9 27.9,31.0 27.4,31.2 26.6,31.1 26.4,31.8 25.8,31.8 25.0,31.4 24.7,32.2 24.5,33.0 23.9,33.2 23.3,33.2 22.8,33.4 22.2,33.9 21.6,33.3 21.1,32.0 20.6,32.3 20.1,31.9 19.4,33.1 18.8,33.1 18.5,32.2 18.1,31.7 17.5,31.8 16.7,32.2 16.5,31.5 16.5,30.5 15.6,31.0 15.3,30.4 14.6,30.4 13.4,30.9 13.1,30.3 12.8,29.8 12.6,29.3 12.7,28.5 13.0,27.7 12.5,27.3 11.8,27.1 10.9,26.8 11.9,25.9 12.5,25.2 11.0,25.0 10.8,24.4 10.8,23.9 11.3,23.3 11.6,22.7 11.7,22.2 11.9,21.7 11.7,21.2 11.3,20.5 10.7,19.7 11.1,19.3 12.1,19.0 12.3,18.6 11.6,17.5 13.3,17.9 13.9,17.7 13.5,16.7 13.6,16.1 13.7,15.4 14.3,15.2 14.6,14.7 15.0,14.1 15.4,13.8 16.0,13.5 16.7,13.7 17.2,13.5 17.8,13.5 18.7,14.5 19.0,13.6 19.5,13.4 20.0,13.0 20.6,13.7 21.1,13.0 21.6,13.7 22.1,13.2 22.7,13.0 23.2,13.3 23.9,12.9 24.5,12.8 25.2,12.7 25.5,13.5 26.2,13.3 26.5,14.0 27.1,14.1 27.0,15.2 27.5,15.4 28.2,15.5 28.6,15.9 28.6,16.6 29.3,16.8 29.9,17.0 30.4,17.4 29.5,18.6 29.4,19.2 29.8,19.5 29.6,20.1 31.1,20.2 31.6,20.7 31.6,21.3 31.3,21.9 30.9,22.5" fill="#4a4a4a" opacity="0.5" filter="url(#sb3)"/>
<polygon points="29.7,23.0 29.1,23.4 30.0,24.0 29.3,24.3 29.9,24.9 29.4,25.3 29.1,25.7 29.2,26.2 29.3,26.8 29.9,27.7 28.5,27.5 28.3,27.9 28.1,28.3 28.0,28.8 27.4,28.9 27.8,30.0 27.0,29.9 26.7,30.4 26.0,30.1 25.5,30.2 25.1,30.5 24.7,30.8 24.5,31.5 23.7,30.8 23.4,31.2 23.2,32.8 22.6,32.0 22.1,32.9 21.6,32.6 21.1,32.8 20.6,32.0 20.1,31.8 19.6,32.1 19.2,31.6 18.8,31.3 18.5,30.6 17.8,31.0 17.5,30.6 16.8,30.9 16.8,30.1 15.9,30.6 15.4,30.3 14.9,30.1 14.3,30.0 14.3,29.3 14.8,28.2 14.0,28.3 13.1,28.3 13.6,27.4 14.0,26.6 13.3,26.4 12.2,26.3 12.8,25.6 11.6,25.4 12.6,24.7 12.1,24.2 12.8,23.7 13.3,23.2 12.0,22.7 11.5,22.2 12.6,21.8 12.8,21.4 12.8,20.9 12.2,20.2 12.1,19.6 12.3,19.1 13.5,19.1 13.9,18.8 13.5,18.0 13.2,17.2 14.2,17.3 14.2,16.6 15.1,16.8 15.6,16.7 15.8,16.2 16.6,16.5 16.7,15.8 17.3,15.9 17.6,15.6 18.0,15.4 18.1,14.4 18.6,14.1 19.0,13.8 19.6,14.1 20.1,13.8 20.6,14.5 21.1,13.8 21.6,13.7 22.1,13.8 22.5,14.2 23.1,14.1 23.6,14.0 24.0,14.4 24.5,14.5 25.0,14.6 25.7,14.2 26.1,14.8 26.6,14.8 26.9,15.4 27.4,15.6 27.5,16.3 26.9,17.6 27.8,17.3 27.8,17.9 28.2,18.2 29.2,18.1 29.3,18.7 29.7,19.0 30.0,19.5 30.7,19.8 30.4,20.4 29.5,21.1 29.3,21.7 29.9,22.1 29.8,22.5" fill="#282828" opacity="1" filter="url(#sb3)"/>
<g stroke="#404040" stroke-linecap="round" opacity="0.5" filter="url(#sb)"><line x1="18.2" y1="29.0" x2="16.7" y2="30.3" stroke-width="0.46"/><line x1="14.6" y1="21.5" x2="12.1" y2="23.4" stroke-width="0.70"/><line x1="27.8" y1="24.6" x2="30.5" y2="22.8" stroke-width="0.47"/><line x1="15.2" y1="26.1" x2="13.3" y2="29.6" stroke-width="0.55"/><line x1="16.5" y1="18.2" x2="14.2" y2="15.1" stroke-width="0.64"/><line x1="27.9" y1="22.0" x2="29.5" y2="23.5" stroke-width="0.58"/><line x1="25.4" y1="28.3" x2="27.2" y2="29.1" stroke-width="0.88"/><line x1="24.0" y1="29.1" x2="24.5" y2="32.1" stroke-width="0.63"/><line x1="14.8" y1="21.0" x2="12.8" y2="22.7" stroke-width="0.54"/><line x1="18.3" y1="16.9" x2="16.4" y2="15.1" stroke-width="0.75"/><line x1="14.7" y1="25.0" x2="12.3" y2="24.1" stroke-width="0.81"/><line x1="21.5" y1="29.7" x2="21.4" y2="32.7" stroke-width="0.91"/><line x1="20.3" y1="16.3" x2="22.6" y2="14.2" stroke-width="0.49"/><line x1="15.3" y1="26.3" x2="13.6" y2="29.7" stroke-width="0.69"/><line x1="27.7" y1="24.6" x2="30.3" y2="26.9" stroke-width="0.74"/><line x1="26.0" y1="18.2" x2="28.3" y2="17.4" stroke-width="0.75"/><line x1="15.3" y1="19.8" x2="14.1" y2="16.9" stroke-width="0.95"/><line x1="14.5" y1="24.1" x2="12.2" y2="27.1" stroke-width="0.81"/><line x1="17.1" y1="17.6" x2="16.5" y2="13.4" stroke-width="0.58"/><line x1="16.1" y1="27.4" x2="15.9" y2="31.3" stroke-width="0.68"/><line x1="24.5" y1="28.9" x2="27.2" y2="29.1" stroke-width="0.85"/><line x1="25.8" y1="27.9" x2="27.7" y2="29.0" stroke-width="0.91"/></g>
<circle cx="21.2" cy="23.0" r="7.5" fill="#242424" filter="url(#sb2)"/>
<rect x="4" y="40.8" width="8" height="1.5" fill="#fafafa"/>
<rect x="0.3" y="0.3" width="43.9" height="43.9" fill="none" stroke="#3a3a3a" stroke-width="0.7" opacity="0.5"/>
</g>
<g transform="translate(161.8,82.7)">
<rect width="44.5" height="44.5" fill="url(#g8)"/>
<rect width="44.5" height="44.5" fill="url(#ledge)"/>
<rect width="44.5" height="44.5" fill="url(#tedge)"/>
<polygon points="35.3,22.2 34.1,22.8 35.3,23.6 36.0,24.4 34.6,24.9 35.1,25.7 33.7,26.0 32.8,26.3 33.3,27.2 34.1,28.3 32.8,28.4 33.2,29.3 32.0,29.4 31.1,29.5 31.2,30.3 30.9,30.9 30.8,31.7 31.1,33.0 30.2,33.1 28.6,32.1 29.0,33.8 28.3,33.9 28.1,34.9 27.4,35.2 26.4,34.5 25.5,33.9 25.4,35.8 24.9,36.7 23.9,35.5 23.0,34.0 22.6,35.8 21.9,36.3 21.2,36.7 20.5,37.0 19.8,36.7 19.2,36.0 18.6,35.2 18.0,35.1 17.3,35.0 16.5,35.4 15.9,35.0 15.1,35.0 14.8,34.1 14.3,33.7 13.2,34.0 12.7,33.5 12.1,33.1 11.9,32.3 12.3,31.0 11.7,30.7 11.5,30.0 11.3,29.4 11.2,28.7 11.1,28.1 9.7,28.1 8.5,28.0 7.9,27.4 7.4,26.9 8.6,25.8 10.1,24.8 9.7,24.3 9.8,23.6 8.1,23.2 8.8,22.5 8.0,21.9 8.4,21.2 7.9,20.5 7.2,19.7 8.3,19.2 10.1,19.0 9.1,18.1 9.5,17.6 8.9,16.6 10.3,16.6 10.2,15.8 9.1,14.3 10.7,14.6 12.1,14.9 11.1,13.2 10.9,12.1 12.3,12.5 13.6,13.0 13.2,11.6 14.2,11.8 14.9,11.8 15.7,12.0 15.5,10.3 16.5,10.9 17.1,10.7 17.5,10.1 17.8,8.8 18.3,7.6 19.3,9.1 19.9,8.7 20.6,9.0 21.2,7.8 21.9,8.6 22.6,8.4 23.3,8.4 23.9,9.1 24.4,9.8 24.6,11.1 25.5,10.5 26.6,9.3 27.2,9.6 27.7,10.3 27.9,11.2 29.1,10.5 29.8,10.6 30.5,11.0 30.8,11.7 31.1,12.4 31.0,13.4 31.2,14.1 31.6,14.6 32.8,14.5 32.8,15.3 33.9,15.4 33.0,16.7 32.9,17.4 32.8,18.1 33.3,18.6 34.8,18.8 35.4,19.4 35.0,20.2 33.0,21.0 34.8,21.5" fill="#4a4a4a" opacity="0.5" filter="url(#sb3)"/>
<polygon points="33.3,22.2 32.5,22.8 33.7,23.4 33.5,24.0 32.9,24.5 33.8,25.3 32.7,25.6 32.3,26.1 32.1,26.7 31.8,27.2 31.2,27.5 32.3,28.8 31.0,28.7 30.6,29.1 29.9,29.3 30.1,30.2 28.8,29.7 28.1,29.7 28.4,30.8 29.0,32.6 28.2,32.6 27.7,32.9 26.5,32.0 26.2,32.6 26.0,33.5 25.5,34.0 24.6,33.1 23.8,32.1 23.5,33.5 23.2,35.2 22.5,34.9 21.8,34.2 21.3,33.8 20.7,34.2 20.1,33.9 19.6,33.6 18.8,34.2 18.4,33.7 18.0,32.9 17.0,33.8 16.7,33.1 16.9,31.4 15.7,32.5 14.4,33.5 14.3,32.4 13.9,31.9 13.8,31.1 13.6,30.5 12.6,30.7 13.2,29.4 12.7,29.0 13.0,28.2 11.7,28.4 10.8,28.2 10.3,27.9 9.3,27.6 10.8,26.3 11.3,25.6 10.8,25.2 10.6,24.6 9.6,24.3 10.8,23.5 9.7,23.1 8.1,22.5 9.5,21.9 9.9,21.3 10.2,20.8 10.5,20.3 10.2,19.7 9.1,18.8 11.2,18.8 11.9,18.5 10.5,17.3 10.4,16.6 11.3,16.4 11.7,16.0 12.1,15.6 12.9,15.5 13.0,14.8 13.4,14.5 13.5,13.8 14.2,13.8 14.5,13.3 15.7,13.9 15.2,12.3 16.5,13.5 16.5,12.3 16.9,11.9 17.4,11.6 17.4,9.6 18.4,10.9 19.2,11.9 19.7,11.5 20.2,11.7 20.7,10.4 21.2,8.9 21.9,9.6 22.3,11.5 23.0,10.5 23.6,10.6 24.2,10.7 24.3,12.1 24.8,12.5 25.3,12.6 26.3,11.6 26.1,13.2 26.7,13.2 27.7,12.6 27.6,13.6 28.0,14.0 29.3,13.4 28.8,14.7 30.3,14.0 31.2,14.0 30.8,15.1 30.9,15.8 30.8,16.5 31.1,17.0 31.9,17.2 32.4,17.6 32.3,18.2 32.1,18.9 33.2,19.2 32.7,19.9 32.7,20.5 32.9,21.1 33.6,21.6" fill="#282828" opacity="1" filter="url(#sb3)"/>
<g stroke="#404040" stroke-linecap="round" opacity="0.5" filter="url(#sb)"><line x1="22.6" y1="30.7" x2="26.6" y2="35.6" stroke-width="0.81"/><line x1="28.8" y1="26.6" x2="29.3" y2="30.9" stroke-width="0.54"/><line x1="16.0" y1="15.5" x2="13.3" y2="12.7" stroke-width="0.70"/><line x1="24.4" y1="30.2" x2="29.3" y2="33.6" stroke-width="0.55"/><line x1="29.9" y1="23.3" x2="33.1" y2="23.0" stroke-width="0.93"/><line x1="15.2" y1="28.1" x2="14.5" y2="31.0" stroke-width="0.98"/><line x1="29.3" y1="25.5" x2="33.8" y2="26.3" stroke-width="0.79"/><line x1="16.9" y1="29.5" x2="14.4" y2="33.5" stroke-width="0.78"/><line x1="28.4" y1="17.2" x2="30.1" y2="12.6" stroke-width="0.46"/><line x1="29.5" y1="19.4" x2="32.3" y2="15.9" stroke-width="0.95"/><line x1="13.9" y1="18.1" x2="11.3" y2="13.3" stroke-width="0.58"/><line x1="16.1" y1="28.9" x2="15.3" y2="34.8" stroke-width="0.85"/><line x1="28.4" y1="27.1" x2="31.3" y2="31.1" stroke-width="0.95"/><line x1="26.1" y1="15.1" x2="26.4" y2="10.6" stroke-width="0.50"/><line x1="13.0" y1="20.7" x2="8.8" y2="23.2" stroke-width="0.93"/><line x1="12.9" y1="21.8" x2="8.1" y2="23.8" stroke-width="0.56"/><line x1="29.9" y1="22.8" x2="33.4" y2="21.4" stroke-width="0.66"/><line x1="15.3" y1="28.2" x2="9.5" y2="29.3" stroke-width="0.52"/><line x1="14.6" y1="27.4" x2="11.7" y2="28.2" stroke-width="0.97"/><line x1="23.9" y1="30.4" x2="27.0" y2="34.6" stroke-width="0.43"/><line x1="22.2" y1="13.7" x2="20.1" y2="10.2" stroke-width="0.66"/><line x1="22.4" y1="30.7" x2="23.2" y2="34.4" stroke-width="0.65"/><line x1="14.1" y1="17.7" x2="10.1" y2="18.5" stroke-width="0.47"/><line x1="28.1" y1="27.5" x2="32.0" y2="29.2" stroke-width="0.87"/><line x1="12.9" y1="21.9" x2="8.7" y2="18.0" stroke-width="0.46"/><line x1="29.9" y1="23.1" x2="32.7" y2="22.6" stroke-width="0.74"/><line x1="21.1" y1="13.7" x2="24.3" y2="10.5" stroke-width="0.42"/><line x1="25.8" y1="14.9" x2="29.4" y2="13.9" stroke-width="0.44"/></g>
<circle cx="21.4" cy="22.2" r="9.5" fill="#242424" filter="url(#sb2)"/>
<rect x="4" y="40.8" width="8" height="1.5" fill="#fafafa"/>
<rect x="0.3" y="0.3" width="43.9" height="43.9" fill="none" stroke="#3a3a3a" stroke-width="0.7" opacity="0.5"/>
</g>
<g transform="translate(209,82.7)">
<rect width="44.5" height="44.5" fill="url(#g9)"/>
<rect width="44.5" height="44.5" fill="url(#ledge)"/>
<rect width="44.5" height="44.5" fill="url(#tedge)"/>
<rect width="44.5" height="44.5" filter="url(#tex0)"/>
<circle cx="22.0" cy="22.0" r="18.38" fill="url(#fr9)"/>
<polygon points="38.5,22.0 37.2,22.7 37.1,23.3 37.7,24.1 38.3,24.9 37.3,25.4 38.5,26.5 38.0,27.1 37.6,27.8 37.5,28.5 37.0,29.1 36.6,29.7 36.8,30.7 36.4,31.3 35.1,31.4 33.4,30.9 33.4,31.8 32.9,32.2 34.0,34.3 34.1,35.5 32.7,35.0 32.4,35.9 31.1,35.3 31.3,37.1 29.9,36.1 29.9,37.8 29.1,37.8 28.6,38.6 27.6,38.3 26.6,37.6 25.7,36.8 25.0,36.9 24.6,38.7 23.9,38.9 23.1,37.8 22.4,39.4 21.7,37.4 21.0,36.5 20.1,39.0 19.2,39.8 18.7,38.5 17.8,39.0 17.5,37.2 17.1,36.3 16.0,37.3 15.7,36.2 15.0,36.1 13.3,37.6 13.0,36.5 12.2,36.4 11.5,36.0 11.2,35.1 11.7,33.6 11.4,32.8 9.7,33.5 9.5,32.7 9.3,31.9 7.9,32.1 7.7,31.3 9.0,29.6 7.3,29.8 5.6,29.8 6.9,28.3 5.7,28.0 6.1,27.1 5.3,26.6 6.5,25.5 5.7,24.9 6.6,24.1 7.1,23.3 5.8,22.7 7.3,22.0 6.4,21.3 4.3,20.4 5.6,19.8 4.1,18.8 5.5,18.3 5.6,17.5 6.2,16.9 7.3,16.6 7.5,15.9 7.8,15.3 8.3,14.7 8.2,13.9 8.4,13.2 10.1,13.5 10.3,12.9 10.2,11.9 10.5,11.2 11.5,11.2 12.2,11.0 12.8,10.8 12.1,8.7 12.5,8.0 14.0,9.0 14.7,8.9 15.0,8.0 15.0,6.3 16.1,7.1 17.2,8.1 17.3,6.2 17.6,4.3 18.6,4.9 19.2,4.0 20.1,5.3 20.9,5.1 21.6,5.2 22.4,5.2 23.1,5.0 23.8,6.2 24.4,6.6 25.3,5.8 25.9,6.1 26.5,6.7 27.4,6.3 27.3,8.5 28.7,7.0 29.7,6.7 30.0,7.6 30.9,7.6 31.8,7.6 32.2,8.4 32.8,8.8 32.4,10.4 32.9,10.9 34.2,10.6 34.0,11.7 35.7,11.3 35.2,12.6 35.6,13.2 36.0,13.8 34.9,15.2 35.9,15.4 38.0,15.3 37.1,16.4 38.2,16.8 37.7,17.7 39.6,18.0 38.9,19.0 38.7,19.8 38.5,20.5 38.4,21.3" fill="#4c4c4c" opacity="0.45" filter="url(#sb3)"/>
<circle cx="22.0" cy="22.0" r="18.38" fill="#3a3a3a" filter="url(#mot0)" opacity="0.5"/>
<polygon points="36.5,22.0 34.7,22.6 36.9,23.3 37.6,24.1 35.4,24.4 34.0,24.7 35.6,25.7 36.4,26.6 35.9,27.1 35.7,27.8 35.9,28.6 35.7,29.3 34.1,29.1 34.5,30.1 33.9,30.5 33.8,31.2 32.9,31.4 31.9,31.2 31.7,31.9 30.8,31.8 30.5,32.4 30.8,33.8 29.9,33.6 28.7,32.8 28.3,33.3 28.5,35.0 27.4,34.0 26.8,34.2 26.4,34.9 25.7,34.6 25.4,35.7 24.9,36.6 24.1,35.3 23.5,35.2 22.9,36.0 22.3,36.0 21.7,35.9 21.1,36.1 20.4,36.3 19.9,35.6 19.5,34.6 19.0,34.1 17.9,35.8 17.1,36.3 16.8,35.1 16.3,34.7 15.3,35.4 14.7,35.0 14.8,33.7 14.9,32.5 13.3,33.7 12.3,33.9 12.5,32.6 12.5,31.7 11.0,32.3 10.4,31.9 11.3,30.4 11.7,29.3 10.0,29.8 10.4,28.8 9.7,28.5 7.9,28.7 8.9,27.5 8.6,26.9 7.8,26.6 8.2,25.7 8.2,25.1 6.6,24.8 7.5,23.9 9.1,23.1 7.1,22.7 6.8,22.0 8.5,21.4 9.5,20.9 8.1,20.1 9.8,19.8 7.8,18.8 6.9,17.9 8.8,17.8 9.9,17.5 9.9,16.9 9.3,16.0 9.7,15.5 10.0,14.9 11.1,15.0 11.7,14.6 11.4,13.7 11.6,13.1 12.1,12.8 12.7,12.5 12.9,11.9 12.8,10.8 12.9,9.8 13.5,9.5 14.2,9.4 14.8,9.0 15.9,9.9 16.7,10.2 16.9,9.0 17.5,8.8 17.9,8.3 18.2,6.7 19.0,7.1 19.9,8.5 20.5,8.5 21.0,6.4 21.7,6.6 22.3,6.6 23.0,7.4 23.5,8.8 24.3,7.5 25.0,7.0 25.5,7.9 26.4,7.1 26.7,8.3 27.3,8.6 27.9,8.8 28.9,8.3 28.9,9.5 30.3,8.6 30.5,9.5 31.2,9.7 31.2,10.7 32.3,10.5 32.5,11.3 32.5,12.2 33.6,12.1 34.3,12.4 34.5,13.1 34.6,13.8 34.9,14.5 33.7,15.8 33.4,16.6 33.5,17.2 34.5,17.4 35.2,17.8 35.7,18.3 36.2,18.8 35.3,19.6 36.1,20.1 36.0,20.8 37.0,21.3" fill="#303030" opacity="0.9" filter="url(#sb3)"/>
<g stroke="#4a4a4a" stroke-linecap="round" opacity="0.5" filter="url(#sb)"><line x1="11.5" y1="24.5" x2="8.1" y2="28.7" stroke-width="0.91"/><line x1="32.8" y1="22.4" x2="37.4" y2="26.4" stroke-width="0.47"/><line x1="11.8" y1="18.4" x2="5.5" y2="20.9" stroke-width="0.63"/><line x1="18.9" y1="11.7" x2="19.5" y2="6.4" stroke-width="0.51"/><line x1="22.8" y1="32.8" x2="23.0" y2="36.1" stroke-width="0.94"/><line x1="12.9" y1="16.2" x2="6.8" y2="13.7" stroke-width="0.84"/><line x1="30.7" y1="28.4" x2="33.1" y2="32.2" stroke-width="0.83"/><line x1="12.5" y1="27.1" x2="10.7" y2="30.3" stroke-width="0.54"/><line x1="19.9" y1="32.6" x2="21.7" y2="39.5" stroke-width="0.92"/><line x1="29.8" y1="14.6" x2="31.4" y2="11.7" stroke-width="0.70"/><line x1="32.7" y1="23.6" x2="36.5" y2="28.0" stroke-width="0.48"/><line x1="13.1" y1="15.8" x2="10.7" y2="13.3" stroke-width="0.92"/><line x1="25.1" y1="32.3" x2="29.1" y2="33.7" stroke-width="0.72"/><line x1="32.7" y1="23.2" x2="36.0" y2="23.5" stroke-width="0.94"/><line x1="12.5" y1="27.2" x2="7.8" y2="28.3" stroke-width="0.47"/><line x1="12.5" y1="16.8" x2="9.8" y2="14.2" stroke-width="0.96"/><line x1="32.2" y1="25.6" x2="37.0" y2="28.4" stroke-width="0.50"/><line x1="20.8" y1="32.7" x2="14.6" y2="38.8" stroke-width="0.49"/><line x1="19.0" y1="11.6" x2="14.3" y2="5.6" stroke-width="0.76"/><line x1="32.4" y1="24.9" x2="36.3" y2="27.6" stroke-width="0.75"/><line x1="23.7" y1="11.3" x2="22.9" y2="8.0" stroke-width="0.90"/><line x1="12.7" y1="16.6" x2="7.9" y2="14.9" stroke-width="0.97"/><line x1="12.4" y1="17.1" x2="11.0" y2="13.7" stroke-width="0.60"/><line x1="12.1" y1="26.4" x2="8.8" y2="28.4" stroke-width="0.60"/><line x1="31.2" y1="27.7" x2="37.8" y2="27.2" stroke-width="0.86"/><line x1="32.7" y1="23.7" x2="38.3" y2="27.9" stroke-width="0.70"/><line x1="19.3" y1="11.5" x2="20.3" y2="7.3" stroke-width="0.66"/><line x1="23.3" y1="32.7" x2="25.2" y2="39.9" stroke-width="0.63"/><line x1="28.9" y1="13.7" x2="32.9" y2="11.2" stroke-width="0.52"/><line x1="28.0" y1="13.0" x2="26.6" y2="7.9" stroke-width="0.97"/><line x1="27.0" y1="31.6" x2="25.5" y2="39.8" stroke-width="0.76"/><line x1="32.8" y1="22.8" x2="35.9" y2="20.6" stroke-width="0.64"/><line x1="13.7" y1="15.0" x2="7.1" y2="11.5" stroke-width="0.50"/><line x1="12.0" y1="17.9" x2="7.8" y2="20.0" stroke-width="0.73"/><line x1="18.4" y1="11.8" x2="17.0" y2="9.0" stroke-width="0.81"/><line x1="23.0" y1="11.2" x2="26.9" y2="7.3" stroke-width="0.51"/><line x1="19.7" y1="11.5" x2="22.2" y2="4.7" stroke-width="0.70"/><line x1="30.8" y1="28.3" x2="33.1" y2="30.3" stroke-width="0.52"/><line x1="14.6" y1="14.1" x2="14.2" y2="10.3" stroke-width="0.54"/><line x1="32.8" y1="22.9" x2="36.5" y2="22.8" stroke-width="0.73"/><line x1="13.8" y1="29.0" x2="11.1" y2="31.5" stroke-width="0.95"/><line x1="11.5" y1="19.6" x2="3.9" y2="23.1" stroke-width="0.98"/><line x1="30.3" y1="15.1" x2="34.6" y2="11.8" stroke-width="0.72"/><line x1="31.1" y1="16.2" x2="34.4" y2="15.5" stroke-width="0.72"/><line x1="18.6" y1="32.3" x2="14.6" y2="37.4" stroke-width="0.48"/><line x1="18.6" y1="11.7" x2="17.0" y2="7.0" stroke-width="0.78"/><line x1="32.2" y1="25.5" x2="38.0" y2="26.2" stroke-width="0.91"/></g>
<circle cx="22.0" cy="22.0" r="12.00" fill="#282828" filter="url(#sb4)"/>
<rect x="4" y="40.8" width="8" height="1.5" fill="#fafafa"/>
<rect x="0.3" y="0.3" width="43.9" height="43.9" fill="none" stroke="#3a3a3a" stroke-width="0.7" opacity="0.5"/>
</g>
<text transform="translate(16.20,105.45) rotate(-90)" text-anchor="middle" font-size="10.8" fill="#111" class="t">MM-0.5</text>
<g transform="translate(20,130.5)">
<rect width="44.5" height="44.5" fill="url(#g10)"/>
<rect width="44.5" height="44.5" fill="url(#ledge)"/>
<rect width="44.5" height="44.5" fill="url(#tedge)"/>
<circle cx="22.0" cy="22.3" r="5.50" fill="none" stroke="#e8e8e8" stroke-width="0.9" opacity="0.55"/>
<circle cx="22.0" cy="22.3" r="4.8" fill="#232323" filter="url(#sb)"/>
<rect x="4" y="40.8" width="8" height="1.5" fill="#fafafa"/>
<rect x="0.3" y="0.3" width="43.9" height="43.9" fill="none" stroke="#3a3a3a" stroke-width="0.7" opacity="0.5"/>
</g>
<g transform="translate(67.3,130.5)">
<rect width="44.5" height="44.5" fill="url(#g11)"/>
<rect width="44.5" height="44.5" fill="url(#ledge)"/>
<rect width="44.5" height="44.5" fill="url(#tedge)"/>
<circle cx="21.4" cy="22.3" r="5.50" fill="none" stroke="#e8e8e8" stroke-width="0.9" opacity="0.55"/>
<circle cx="21.4" cy="22.3" r="4.8" fill="#232323" filter="url(#sb)"/>
<rect x="4" y="40.8" width="8" height="1.5" fill="#fafafa"/>
<rect x="0.3" y="0.3" width="43.9" height="43.9" fill="none" stroke="#3a3a3a" stroke-width="0.7" opacity="0.5"/>
</g>
<g transform="translate(114.5,130.5)">
<rect width="44.5" height="44.5" fill="url(#g12)"/>
<rect width="44.5" height="44.5" fill="url(#ledge)"/>
<rect width="44.5" height="44.5" fill="url(#tedge)"/>
<polygon points="31.4,23.3 30.5,23.8 30.3,24.3 30.7,24.9 30.7,25.4 31.5,26.2 30.2,26.4 29.9,26.8 29.5,27.2 29.2,27.6 29.9,28.6 30.1,29.4 29.1,29.4 28.6,29.6 28.3,30.1 28.3,30.9 27.4,30.7 27.1,31.2 26.6,31.4 26.7,32.6 26.0,32.6 25.5,32.9 24.7,32.5 24.2,32.4 23.9,33.4 23.3,33.2 22.7,33.2 22.1,32.7 21.6,33.8 21.1,34.1 20.5,34.1 19.9,34.0 19.4,33.4 18.7,33.8 18.3,33.1 17.9,32.7 17.6,31.8 17.2,31.6 16.2,32.3 15.3,32.7 15.0,32.0 14.7,31.6 14.5,30.9 14.8,29.8 13.9,29.9 13.7,29.4 12.7,29.5 12.4,29.0 12.4,28.3 12.2,27.8 12.5,27.1 12.3,26.6 11.8,26.2 12.0,25.6 11.9,25.1 12.3,24.5 11.5,24.1 10.3,23.6 10.6,23.0 10.9,22.5 10.9,21.9 11.0,21.3 11.3,20.8 12.3,20.5 12.2,20.0 12.4,19.5 12.4,18.9 12.1,18.1 13.2,18.1 13.6,17.8 13.2,16.8 13.8,16.6 14.3,16.3 14.5,15.7 15.2,15.7 16.0,15.9 15.7,14.5 15.8,13.6 16.6,13.7 17.3,13.9 18.0,14.2 18.6,14.4 18.9,13.6 19.3,12.9 19.9,13.1 20.6,14.4 21.1,13.2 21.6,12.4 22.2,13.0 22.5,14.4 23.2,13.9 24.0,12.7 24.4,13.6 24.7,14.3 25.2,14.5 25.7,14.6 26.2,14.9 27.3,14.1 27.5,14.9 28.2,14.9 28.1,15.9 28.8,16.0 28.8,16.8 29.3,17.0 29.2,17.8 29.5,18.2 29.8,18.7 30.7,18.8 30.7,19.5 31.4,19.8 30.8,20.6 31.0,21.1 31.5,21.6 30.7,22.3 31.6,22.7" fill="#4a4a4a" opacity="0.5" filter="url(#sb3)"/>
<polygon points="29.5,23.3 29.5,23.8 29.6,24.2 30.8,24.9 30.1,25.3 30.7,26.0 30.1,26.3 30.0,26.9 29.4,27.1 30.0,28.0 29.2,28.2 29.0,28.7 28.6,29.0 27.5,28.7 27.7,29.5 27.5,30.0 27.2,30.5 26.5,30.4 26.5,31.3 26.3,31.9 25.3,31.3 24.8,31.3 24.5,31.9 24.1,32.2 23.6,32.5 23.0,31.9 22.5,31.6 22.0,31.2 21.6,31.9 21.1,32.7 20.6,32.5 20.1,31.9 19.6,32.4 19.2,31.5 18.8,31.6 18.5,30.8 17.9,31.1 17.1,31.7 17.1,30.7 16.6,30.7 16.4,30.0 16.1,29.8 15.8,29.4 15.0,29.6 14.1,29.7 13.8,29.3 14.1,28.5 13.8,28.1 13.2,27.9 13.1,27.4 13.2,26.8 13.1,26.3 12.2,26.1 12.4,25.5 12.2,25.0 12.1,24.5 11.9,24.1 12.3,23.5 12.4,23.1 12.7,22.6 12.5,22.1 12.3,21.6 13.0,21.2 13.5,20.9 13.2,20.3 12.9,19.7 13.8,19.6 14.3,19.4 14.1,18.7 14.5,18.4 14.6,17.9 13.8,16.6 14.4,16.4 15.2,16.5 15.4,16.0 16.0,15.9 16.5,15.8 17.3,16.3 17.3,15.2 17.9,15.4 18.3,15.2 18.5,14.1 19.0,13.8 19.5,13.8 20.1,14.3 20.6,14.7 21.1,14.5 21.5,15.0 22.0,14.5 22.6,13.8 23.1,14.4 23.5,14.6 24.1,14.3 24.8,14.0 25.1,14.7 25.7,14.6 26.2,14.9 26.6,15.1 26.5,16.2 26.6,16.9 27.0,17.1 27.4,17.3 27.7,17.7 28.2,17.9 28.2,18.5 28.3,19.0 29.3,19.0 29.1,19.6 29.1,20.1 28.9,20.7 30.2,20.8 30.7,21.2 30.1,21.8 30.7,22.3 29.9,22.8" fill="#282828" opacity="1" filter="url(#sb3)"/>
<g stroke="#404040" stroke-linecap="round" opacity="0.5" filter="url(#sb)"><line x1="14.5" y1="24.4" x2="11.4" y2="23.9" stroke-width="0.50"/><line x1="27.9" y1="23.8" x2="30.3" y2="22.7" stroke-width="0.87"/><line x1="18.7" y1="17.0" x2="18.0" y2="14.1" stroke-width="0.79"/><line x1="25.3" y1="28.6" x2="28.3" y2="29.4" stroke-width="0.93"/><line x1="27.5" y1="25.7" x2="31.4" y2="24.5" stroke-width="0.80"/><line x1="17.7" y1="29.1" x2="14.9" y2="30.0" stroke-width="0.43"/><line x1="27.5" y1="25.8" x2="30.9" y2="27.3" stroke-width="0.47"/><line x1="27.9" y1="22.8" x2="31.3" y2="20.0" stroke-width="0.66"/><line x1="25.7" y1="28.4" x2="26.6" y2="30.5" stroke-width="0.51"/><line x1="19.0" y1="16.9" x2="17.0" y2="16.1" stroke-width="0.88"/><line x1="15.7" y1="27.2" x2="13.4" y2="28.3" stroke-width="0.69"/><line x1="16.1" y1="27.8" x2="14.3" y2="27.9" stroke-width="0.96"/><line x1="27.9" y1="22.3" x2="30.8" y2="21.0" stroke-width="0.62"/><line x1="18.7" y1="17.0" x2="15.5" y2="15.2" stroke-width="0.55"/><line x1="16.8" y1="28.4" x2="13.8" y2="29.2" stroke-width="0.70"/><line x1="27.8" y1="24.5" x2="31.4" y2="24.7" stroke-width="0.71"/><line x1="22.4" y1="29.9" x2="23.4" y2="32.3" stroke-width="0.85"/><line x1="26.6" y1="27.4" x2="29.8" y2="27.5" stroke-width="0.81"/><line x1="27.8" y1="24.8" x2="30.0" y2="24.5" stroke-width="0.78"/><line x1="27.6" y1="25.5" x2="30.5" y2="24.7" stroke-width="0.58"/><line x1="14.5" y1="24.3" x2="10.7" y2="25.0" stroke-width="0.96"/><line x1="24.5" y1="29.2" x2="27.1" y2="32.0" stroke-width="0.53"/></g>
<circle cx="21.2" cy="23.3" r="7.5" fill="#242424" filter="url(#sb2)"/>
<rect x="4" y="40.8" width="8" height="1.5" fill="#fafafa"/>
<rect x="0.3" y="0.3" width="43.9" height="43.9" fill="none" stroke="#3a3a3a" stroke-width="0.7" opacity="0.5"/>
</g>
<g transform="translate(161.8,130.5)">
<rect width="44.5" height="44.5" fill="url(#g13)"/>
<rect width="44.5" height="44.5" fill="url(#ledge)"/>
<rect width="44.5" height="44.5" fill="url(#tedge)"/>
<polygon points="34.6,21.2 35.3,21.9 34.5,22.5 33.7,23.0 33.4,23.6 33.3,24.1 33.3,24.8 34.3,25.7 33.2,26.0 34.1,27.1 32.8,27.2 32.5,27.7 32.2,28.3 32.0,28.9 31.1,29.0 31.7,30.3 30.6,30.2 29.6,30.0 29.4,30.7 28.7,30.8 28.2,31.0 27.5,31.0 27.3,31.8 26.5,31.6 26.4,32.7 26.0,33.4 25.4,33.5 24.7,33.3 24.0,33.1 23.6,34.0 22.9,33.3 22.3,33.8 21.7,33.3 21.1,33.7 20.4,34.3 20.0,32.9 19.3,33.7 18.8,33.0 18.1,33.2 17.4,33.6 17.0,32.7 16.4,32.6 15.9,32.3 15.6,31.7 14.5,32.3 14.4,31.4 13.6,31.4 12.9,31.2 12.3,31.0 12.1,30.3 12.0,29.5 10.5,30.0 10.2,29.4 10.2,28.6 10.6,27.6 9.5,27.4 9.8,26.6 8.3,26.5 9.6,25.3 9.7,24.7 9.2,24.2 9.7,23.5 9.1,23.0 9.8,22.3 8.9,21.8 8.0,21.2 9.1,20.6 9.3,20.0 8.3,19.3 7.6,18.5 9.1,18.2 9.0,17.5 9.1,16.9 10.5,16.8 9.9,15.9 9.0,14.7 10.2,14.6 10.2,13.9 10.9,13.6 12.1,13.7 12.5,13.3 12.9,12.9 12.4,11.5 12.8,11.0 13.8,11.3 14.7,11.5 14.6,10.2 15.1,9.9 15.8,9.9 16.6,10.1 17.1,9.9 17.4,8.9 18.0,8.6 18.9,9.9 19.3,9.0 19.8,7.9 20.5,8.3 21.1,8.7 21.7,8.6 22.3,9.0 22.9,9.2 23.4,9.2 24.2,8.7 24.5,9.9 25.2,9.6 26.3,8.3 26.5,9.5 27.2,9.5 27.3,10.5 27.7,11.1 28.5,11.0 28.6,11.8 29.3,11.8 29.3,12.7 29.8,13.0 30.4,13.2 31.2,13.3 32.2,13.4 32.1,14.2 32.2,14.8 33.4,14.9 33.5,15.6 33.6,16.2 34.0,16.8 34.0,17.4 35.1,17.8 34.5,18.6 33.7,19.4 33.7,20.0 33.0,20.6" fill="#4a4a4a" opacity="0.5" filter="url(#sb3)"/>
<polygon points="33.7,21.2 34.0,21.8 32.7,22.3 31.7,22.7 32.7,23.4 33.5,24.2 33.0,24.7 33.3,25.4 32.4,25.7 31.2,25.7 31.8,26.6 31.9,27.4 31.1,27.5 31.7,28.7 30.4,28.5 30.2,29.0 29.7,29.3 29.6,30.0 29.2,30.4 28.0,29.9 28.2,31.0 28.1,32.0 27.4,32.0 26.4,31.3 25.9,31.5 25.4,31.9 24.9,32.0 24.2,31.6 24.0,33.1 23.5,33.4 22.9,33.5 22.3,32.9 21.7,33.1 21.1,33.0 20.5,33.3 20.0,33.0 19.5,32.3 19.0,32.0 18.3,32.6 17.8,32.1 17.3,31.9 16.6,32.2 16.2,31.6 16.0,30.9 15.3,31.1 15.1,30.3 14.1,30.8 14.0,30.0 14.0,29.2 13.6,28.8 12.8,28.8 12.6,28.3 11.7,28.2 12.4,27.1 12.0,26.7 11.2,26.5 11.3,25.9 11.6,25.2 10.2,25.1 10.4,24.5 10.0,24.0 10.2,23.4 9.3,23.0 9.6,22.3 9.3,21.8 10.7,21.2 10.8,20.7 10.9,20.2 10.2,19.6 11.1,19.2 9.5,18.3 9.3,17.6 10.2,17.3 11.2,17.0 10.9,16.3 11.3,15.9 11.9,15.6 12.3,15.2 11.5,14.0 11.8,13.5 12.6,13.4 12.6,12.6 13.5,12.7 13.7,12.0 14.4,12.0 15.3,12.4 15.6,11.8 15.9,11.2 16.1,10.6 16.2,9.3 16.9,9.2 17.6,9.5 18.4,10.1 19.1,10.8 19.4,9.6 19.9,8.8 20.6,9.8 21.1,10.6 21.7,10.0 22.2,10.3 22.7,10.5 23.2,10.7 23.9,9.8 24.3,10.7 24.9,10.3 25.5,10.3 26.3,10.0 26.8,10.2 27.3,10.6 28.1,10.4 28.2,11.4 28.8,11.6 28.8,12.4 30.2,11.7 30.5,12.4 30.7,12.9 30.5,13.9 31.6,13.8 31.8,14.4 32.6,14.6 31.2,16.1 31.0,16.8 32.5,16.7 32.3,17.4 32.2,18.0 31.7,18.7 32.1,19.1 32.4,19.6 33.1,20.1 33.4,20.6" fill="#282828" opacity="1" filter="url(#sb3)"/>
<g stroke="#404040" stroke-linecap="round" opacity="0.5" filter="url(#sb)"><line x1="20.9" y1="30.2" x2="19.3" y2="33.7" stroke-width="0.90"/><line x1="24.9" y1="29.5" x2="28.0" y2="30.5" stroke-width="0.55"/><line x1="20.5" y1="12.2" x2="20.5" y2="10.1" stroke-width="0.54"/><line x1="18.9" y1="29.8" x2="15.8" y2="31.8" stroke-width="0.76"/><line x1="30.4" y1="22.0" x2="32.8" y2="19.8" stroke-width="0.91"/><line x1="24.7" y1="12.8" x2="28.5" y2="10.2" stroke-width="0.84"/><line x1="29.9" y1="18.4" x2="33.0" y2="15.4" stroke-width="0.90"/><line x1="12.4" y1="21.9" x2="8.5" y2="21.8" stroke-width="0.66"/><line x1="15.5" y1="28.0" x2="14.6" y2="31.0" stroke-width="0.49"/><line x1="25.2" y1="13.0" x2="30.1" y2="11.5" stroke-width="0.81"/><line x1="12.9" y1="18.2" x2="8.6" y2="19.6" stroke-width="0.80"/><line x1="13.0" y1="24.3" x2="11.7" y2="26.9" stroke-width="0.71"/><line x1="21.2" y1="30.2" x2="20.4" y2="33.2" stroke-width="0.64"/><line x1="27.5" y1="27.8" x2="31.0" y2="28.7" stroke-width="0.55"/><line x1="24.5" y1="29.7" x2="28.1" y2="30.9" stroke-width="0.78"/><line x1="30.0" y1="18.6" x2="33.1" y2="19.3" stroke-width="0.94"/><line x1="30.1" y1="23.6" x2="31.4" y2="26.1" stroke-width="0.89"/><line x1="15.6" y1="14.3" x2="13.8" y2="13.0" stroke-width="0.91"/><line x1="28.2" y1="15.3" x2="29.6" y2="11.0" stroke-width="0.90"/><line x1="15.0" y1="27.6" x2="14.5" y2="32.0" stroke-width="0.96"/><line x1="14.2" y1="15.8" x2="10.0" y2="15.3" stroke-width="0.77"/><line x1="13.5" y1="16.8" x2="10.1" y2="16.1" stroke-width="0.83"/><line x1="16.5" y1="28.8" x2="17.2" y2="32.0" stroke-width="0.80"/><line x1="28.3" y1="27.0" x2="31.7" y2="26.1" stroke-width="0.78"/></g>
<circle cx="21.4" cy="21.2" r="10" fill="#242424" filter="url(#sb2)"/>
<rect x="4" y="40.8" width="8" height="1.5" fill="#fafafa"/>
<rect x="0.3" y="0.3" width="43.9" height="43.9" fill="none" stroke="#3a3a3a" stroke-width="0.7" opacity="0.5"/>
</g>
<g transform="translate(209,130.5)">
<rect width="44.5" height="44.5" fill="url(#g14)"/>
<rect width="44.5" height="44.5" fill="url(#ledge)"/>
<rect width="44.5" height="44.5" fill="url(#tedge)"/>
<rect width="44.5" height="44.5" filter="url(#tex2)"/>
<circle cx="21.2" cy="21.2" r="18.38" fill="url(#fr14)"/>
<polygon points="37.0,21.2 38.6,21.9 37.0,22.5 37.0,23.2 37.2,23.9 38.4,24.9 37.2,25.4 35.8,25.7 37.1,26.8 37.8,27.9 36.1,27.9 36.4,28.9 36.4,29.7 36.6,30.7 36.1,31.3 35.8,32.0 33.5,31.2 32.6,31.2 33.1,32.6 32.8,33.4 32.7,34.2 32.4,35.1 31.3,34.8 31.0,35.7 30.3,36.0 29.5,36.0 28.7,36.1 28.5,37.3 27.5,36.9 27.1,37.8 26.2,37.4 25.2,36.6 24.8,37.7 24.3,39.0 23.4,38.6 22.6,38.1 21.9,37.4 21.2,36.4 20.5,37.2 19.7,38.3 19.1,37.9 18.2,38.7 17.6,37.7 16.8,38.2 16.3,37.3 16.1,35.6 15.0,36.6 14.7,35.5 13.6,36.4 12.7,36.4 12.5,35.4 11.4,35.7 11.6,34.2 11.0,33.8 10.2,33.7 9.4,33.5 9.1,32.8 8.9,32.0 8.6,31.3 7.3,31.5 6.8,31.0 6.2,30.4 6.2,29.6 6.4,28.6 6.5,27.8 5.3,27.6 6.2,26.5 6.4,25.7 5.3,25.3 5.7,24.5 5.2,23.9 5.6,23.2 5.7,22.5 5.5,21.9 5.6,21.2 5.3,20.5 4.6,19.8 6.3,19.3 4.8,18.4 3.6,17.4 4.2,16.8 5.4,16.4 5.6,15.7 7.3,15.6 6.8,14.7 7.2,14.1 7.3,13.4 6.3,12.0 7.3,11.8 7.8,11.3 8.7,11.1 8.7,10.2 9.0,9.5 9.1,8.5 10.1,8.6 10.4,7.8 11.5,8.1 12.6,8.4 13.0,7.8 13.5,7.5 14.0,7.0 14.7,6.8 15.0,5.8 15.6,5.5 16.4,5.6 17.3,6.2 17.8,5.6 18.4,4.8 19.1,4.6 19.9,6.0 20.5,4.3 21.2,4.5 21.9,3.8 22.7,3.9 23.2,5.5 23.8,6.1 24.8,4.6 25.8,3.7 26.5,3.9 27.3,4.1 27.4,5.8 28.5,5.1 29.0,5.7 29.6,6.2 30.4,6.3 31.0,6.7 31.6,7.1 32.3,7.5 32.6,8.3 33.6,8.3 32.9,10.0 33.6,10.3 34.3,10.6 33.6,12.0 35.2,11.7 36.2,12.0 36.0,12.9 36.5,13.5 35.5,14.7 35.4,15.5 37.0,15.6 38.4,15.9 37.5,17.0 38.1,17.6 38.3,18.3 37.3,19.1 36.9,19.9 36.3,20.6" fill="#4c4c4c" opacity="0.45" filter="url(#sb3)"/>
<circle cx="21.2" cy="21.2" r="18.38" fill="#3a3a3a" filter="url(#mot2)" opacity="0.5"/>
<polygon points="35.4,21.2 34.6,21.8 35.9,22.5 35.1,23.0 35.7,23.7 35.7,24.3 35.7,25.0 34.2,25.2 34.9,26.0 34.9,26.7 34.1,27.0 33.7,27.5 34.0,28.4 33.9,29.0 32.9,29.1 32.4,29.5 32.6,30.4 32.6,31.2 32.5,32.0 32.0,32.5 31.1,32.4 30.4,32.6 29.7,32.7 30.0,34.2 29.0,33.9 28.8,34.7 27.9,34.6 27.4,35.0 26.9,35.5 26.2,35.4 25.6,35.5 24.9,35.5 24.2,35.3 23.8,36.4 23.0,35.3 22.3,34.4 21.8,34.6 21.2,34.5 20.6,35.0 20.0,35.6 19.4,35.5 18.7,35.8 18.1,35.5 17.4,35.9 16.9,35.1 16.0,35.8 15.5,35.3 14.9,35.1 14.7,34.2 14.6,33.1 13.8,33.3 13.0,33.3 12.6,32.8 12.0,32.6 11.5,32.3 11.3,31.5 10.4,31.5 9.3,31.7 9.9,30.3 10.3,29.3 9.2,29.3 7.9,29.4 8.3,28.4 7.2,28.2 6.7,27.7 6.6,27.1 7.0,26.2 6.6,25.7 6.8,24.9 5.8,24.5 6.2,23.8 5.6,23.2 7.2,22.4 7.4,21.8 6.5,21.2 6.8,20.6 6.3,19.9 6.8,19.4 5.9,18.6 5.5,17.8 7.0,17.5 8.1,17.2 8.0,16.5 8.5,16.1 7.7,15.1 8.5,14.8 8.4,14.0 9.9,14.2 9.2,13.1 8.3,11.6 9.4,11.7 10.3,11.6 10.9,11.3 11.9,11.4 11.5,10.1 11.7,9.5 12.4,9.4 13.7,10.1 13.6,8.8 14.6,9.5 14.9,8.7 15.3,8.2 15.8,7.8 16.2,6.9 17.1,7.7 17.6,7.2 18.2,7.3 18.9,8.0 19.4,7.4 20.0,7.4 20.6,6.7 21.2,6.4 21.8,6.8 22.5,6.5 23.1,6.6 23.5,7.6 24.4,6.1 25.2,5.9 25.8,6.3 26.1,7.4 26.9,7.0 27.8,6.6 28.3,7.2 28.9,7.4 29.5,7.8 29.9,8.3 30.1,9.1 29.9,10.4 30.6,10.5 30.5,11.5 31.7,11.1 31.6,12.0 32.0,12.5 33.0,12.5 33.8,12.7 33.9,13.4 34.8,13.6 34.6,14.4 34.6,15.2 33.6,16.2 35.2,16.3 36.0,16.7 35.7,17.4 34.6,18.3 34.9,18.8 36.6,19.2 35.7,20.0 36.6,20.5" fill="#303030" opacity="0.9" filter="url(#sb3)"/>
<g stroke="#4a4a4a" stroke-linecap="round" opacity="0.5" filter="url(#sb)"><line x1="30.4" y1="28.5" x2="33.3" y2="32.8" stroke-width="0.95"/><line x1="19.7" y1="32.8" x2="17.1" y2="35.7" stroke-width="0.79"/><line x1="17.4" y1="32.3" x2="16.7" y2="37.3" stroke-width="0.86"/><line x1="29.8" y1="29.1" x2="29.4" y2="33.6" stroke-width="0.62"/><line x1="20.4" y1="32.9" x2="18.7" y2="38.2" stroke-width="0.50"/><line x1="10.1" y1="17.5" x2="4.7" y2="19.2" stroke-width="0.78"/><line x1="29.6" y1="29.4" x2="34.5" y2="28.9" stroke-width="0.53"/><line x1="32.8" y1="19.6" x2="36.6" y2="23.6" stroke-width="0.67"/><line x1="12.1" y1="13.9" x2="8.9" y2="8.9" stroke-width="0.48"/><line x1="11.3" y1="15.0" x2="5.8" y2="15.3" stroke-width="0.47"/><line x1="29.5" y1="12.9" x2="30.3" y2="8.0" stroke-width="0.67"/><line x1="23.5" y1="32.7" x2="24.6" y2="38.0" stroke-width="0.48"/><line x1="26.1" y1="10.6" x2="25.4" y2="7.5" stroke-width="0.44"/><line x1="20.5" y1="9.5" x2="20.5" y2="6.7" stroke-width="0.47"/><line x1="9.6" y1="22.6" x2="4.6" y2="22.9" stroke-width="0.67"/><line x1="9.6" y1="22.3" x2="5.5" y2="21.8" stroke-width="0.47"/><line x1="9.6" y1="23.1" x2="6.3" y2="20.3" stroke-width="0.95"/><line x1="31.9" y1="25.9" x2="33.7" y2="28.7" stroke-width="0.74"/><line x1="32.8" y1="22.6" x2="36.7" y2="27.5" stroke-width="0.66"/><line x1="14.5" y1="30.8" x2="8.7" y2="31.6" stroke-width="0.57"/><line x1="17.4" y1="32.3" x2="15.4" y2="34.8" stroke-width="0.68"/><line x1="20.8" y1="32.9" x2="24.9" y2="36.3" stroke-width="0.59"/><line x1="32.8" y1="19.9" x2="37.0" y2="17.4" stroke-width="0.94"/><line x1="13.8" y1="30.3" x2="15.3" y2="35.0" stroke-width="0.50"/><line x1="24.9" y1="32.3" x2="22.6" y2="36.1" stroke-width="0.57"/><line x1="21.3" y1="32.9" x2="17.3" y2="37.1" stroke-width="0.58"/><line x1="22.1" y1="9.5" x2="22.9" y2="5.8" stroke-width="0.75"/><line x1="32.1" y1="17.1" x2="37.1" y2="15.3" stroke-width="0.89"/><line x1="13.4" y1="29.9" x2="8.1" y2="29.5" stroke-width="0.73"/><line x1="22.9" y1="9.6" x2="27.1" y2="7.1" stroke-width="0.76"/><line x1="21.4" y1="32.9" x2="21.8" y2="38.8" stroke-width="0.61"/><line x1="20.3" y1="32.9" x2="22.6" y2="35.6" stroke-width="0.81"/><line x1="28.6" y1="30.2" x2="31.1" y2="32.5" stroke-width="0.73"/><line x1="12.6" y1="29.2" x2="10.5" y2="34.5" stroke-width="0.63"/><line x1="10.8" y1="26.5" x2="9.5" y2="29.9" stroke-width="0.50"/><line x1="19.4" y1="9.6" x2="20.4" y2="6.6" stroke-width="0.54"/><line x1="14.1" y1="11.9" x2="10.1" y2="8.9" stroke-width="0.94"/><line x1="14.7" y1="11.4" x2="9.0" y2="10.6" stroke-width="0.65"/><line x1="20.0" y1="32.8" x2="15.6" y2="36.0" stroke-width="0.90"/><line x1="32.0" y1="25.6" x2="34.5" y2="31.3" stroke-width="0.72"/><line x1="30.8" y1="27.9" x2="35.9" y2="30.5" stroke-width="0.97"/><line x1="29.4" y1="12.9" x2="36.1" y2="12.5" stroke-width="0.46"/></g>
<circle cx="21.2" cy="21.2" r="13.00" fill="#282828" filter="url(#sb4)"/>
<rect x="4" y="40.8" width="8" height="1.5" fill="#fafafa"/>
<rect x="0.3" y="0.3" width="43.9" height="43.9" fill="none" stroke="#3a3a3a" stroke-width="0.7" opacity="0.5"/>
</g>
<text transform="translate(16.20,153.25) rotate(-90)" text-anchor="middle" font-size="10.8" fill="#111" class="t">MM-0.4</text>
<text transform="translate(41.65,31.90) scale(1.065,1)" text-anchor="middle" font-size="10.8" fill="#111" class="t">Day 0</text>
<text transform="translate(88.95,31.90) scale(1.065,1)" text-anchor="middle" font-size="10.8" fill="#111" class="t">Day 1</text>
<text transform="translate(136.15,31.90) scale(1.065,1)" text-anchor="middle" font-size="10.8" fill="#111" class="t">Day 3</text>
<text transform="translate(183.45,31.90) scale(1.065,1)" text-anchor="middle" font-size="10.8" fill="#111" class="t">Day 5</text>
<text transform="translate(230.65,31.90) scale(1.065,1)" text-anchor="middle" font-size="10.8" fill="#111" class="t">Day 8</text>
<g transform="translate(20,215.5)">
<rect width="44.5" height="44.5" fill="url(#g15)"/>
<rect width="44.5" height="44.5" fill="url(#ledge)"/>
<rect width="44.5" height="44.5" fill="url(#tedge)"/>
<circle cx="22.0" cy="22.0" r="11.80" fill="none" stroke="#e8e8e8" stroke-width="0.9" opacity="0.55"/>
<circle cx="22.0" cy="22.0" r="11.1" fill="#232323" filter="url(#sb)"/>
<rect x="4" y="40.8" width="8" height="1.5" fill="#fafafa"/>
<rect x="0.3" y="0.3" width="43.9" height="43.9" fill="none" stroke="#3a3a3a" stroke-width="0.7" opacity="0.5"/>
</g>
<g transform="translate(67.3,215.5)">
<rect width="44.5" height="44.5" fill="url(#g16)"/>
<rect width="44.5" height="44.5" fill="url(#ledge)"/>
<rect width="44.5" height="44.5" fill="url(#tedge)"/>
<circle cx="21.4" cy="22.8" r="12.80" fill="none" stroke="#e8e8e8" stroke-width="0.9" opacity="0.55"/>
<circle cx="21.4" cy="22.8" r="12.1" fill="#3a3a3a" filter="url(#sb)"/>
<circle cx="21.4" cy="22.8" r="9.90" fill="#222" filter="url(#sb2)"/>
<rect x="4" y="40.8" width="8" height="1.5" fill="#fafafa"/>
<rect x="0.3" y="0.3" width="43.9" height="43.9" fill="none" stroke="#3a3a3a" stroke-width="0.7" opacity="0.5"/>
</g>
<g transform="translate(114.5,215.5)">
<rect width="44.5" height="44.5" fill="url(#g17)"/>
<rect width="44.5" height="44.5" fill="url(#ledge)"/>
<rect width="44.5" height="44.5" fill="url(#tedge)"/>
<circle cx="21.7" cy="21.3" r="14.10" fill="none" stroke="#e8e8e8" stroke-width="0.9" opacity="0.55"/>
<g stroke="#444" stroke-linecap="round" opacity="0.55" filter="url(#sb)"><line x1="9.8" y1="19.6" x2="8.7" y2="15.6" stroke-width="0.67"/><line x1="22.9" y1="9.3" x2="24.5" y2="7.6" stroke-width="0.55"/><line x1="33.6" y1="23.3" x2="34.6" y2="25.5" stroke-width="0.64"/><line x1="9.6" y1="21.2" x2="8.6" y2="18.4" stroke-width="1.08"/><line x1="11.9" y1="28.3" x2="12.5" y2="32.5" stroke-width="1.00"/><line x1="30.2" y1="12.8" x2="32.1" y2="13.2" stroke-width="0.84"/><line x1="33.3" y1="17.9" x2="34.5" y2="17.9" stroke-width="1.04"/><line x1="13.9" y1="12.1" x2="10.8" y2="13.5" stroke-width="1.08"/><line x1="9.8" y1="23.3" x2="8.3" y2="26.6" stroke-width="1.00"/><line x1="26.4" y1="10.2" x2="23.3" y2="7.0" stroke-width="0.72"/><line x1="33.1" y1="25.1" x2="35.4" y2="24.6" stroke-width="1.09"/><line x1="13.2" y1="29.8" x2="9.8" y2="28.9" stroke-width="0.63"/><line x1="10.4" y1="17.1" x2="8.3" y2="16.1" stroke-width="0.71"/><line x1="20.4" y1="33.3" x2="22.8" y2="35.4" stroke-width="0.87"/><line x1="10.4" y1="17.2" x2="8.0" y2="19.6" stroke-width="0.90"/><line x1="32.1" y1="15.3" x2="32.6" y2="13.4" stroke-width="1.06"/><line x1="11.1" y1="15.6" x2="8.6" y2="18.7" stroke-width="0.96"/><line x1="14.7" y1="31.1" x2="15.4" y2="33.4" stroke-width="0.89"/><line x1="20.1" y1="9.3" x2="16.6" y2="8.9" stroke-width="1.11"/><line x1="31.9" y1="14.8" x2="32.9" y2="14.8" stroke-width="0.92"/><line x1="11.8" y1="28.2" x2="8.4" y2="25.9" stroke-width="0.86"/><line x1="12.3" y1="28.9" x2="12.8" y2="31.1" stroke-width="0.58"/><line x1="31.0" y1="29.0" x2="30.0" y2="31.7" stroke-width="0.82"/><line x1="25.8" y1="10.0" x2="29.0" y2="8.9" stroke-width="0.51"/><line x1="32.5" y1="15.9" x2="34.2" y2="17.4" stroke-width="1.02"/><line x1="15.1" y1="11.2" x2="11.6" y2="12.2" stroke-width="0.53"/><line x1="13.8" y1="12.2" x2="13.2" y2="11.1" stroke-width="0.65"/><line x1="27.9" y1="31.6" x2="27.0" y2="33.6" stroke-width="0.79"/><line x1="12.3" y1="28.8" x2="10.7" y2="29.5" stroke-width="0.81"/><line x1="10.4" y1="25.4" x2="7.6" y2="24.1" stroke-width="0.63"/><line x1="16.7" y1="32.3" x2="17.2" y2="33.8" stroke-width="0.50"/><line x1="21.3" y1="9.2" x2="20.6" y2="7.5" stroke-width="1.05"/><line x1="16.0" y1="31.9" x2="12.2" y2="31.4" stroke-width="0.84"/><line x1="12.6" y1="13.4" x2="14.5" y2="9.9" stroke-width="0.96"/><line x1="17.7" y1="32.7" x2="16.6" y2="33.8" stroke-width="0.81"/><line x1="9.8" y1="19.5" x2="8.7" y2="18.8" stroke-width="0.93"/><line x1="22.8" y1="9.3" x2="22.5" y2="7.7" stroke-width="0.80"/><line x1="10.0" y1="18.6" x2="8.1" y2="22.2" stroke-width="0.65"/><line x1="33.7" y1="20.4" x2="35.8" y2="19.9" stroke-width="0.96"/><line x1="24.6" y1="33.0" x2="24.8" y2="34.3" stroke-width="0.93"/><line x1="33.6" y1="23.4" x2="34.2" y2="26.8" stroke-width="0.87"/><line x1="33.7" y1="20.8" x2="34.5" y2="23.9" stroke-width="1.02"/><line x1="33.6" y1="23.3" x2="34.8" y2="25.6" stroke-width="0.62"/><line x1="14.6" y1="11.6" x2="15.4" y2="8.5" stroke-width="0.75"/><line x1="33.0" y1="25.6" x2="35.2" y2="23.8" stroke-width="0.82"/><line x1="20.2" y1="33.3" x2="19.7" y2="34.6" stroke-width="1.00"/><line x1="33.6" y1="19.4" x2="33.9" y2="15.4" stroke-width="0.96"/><line x1="15.3" y1="31.5" x2="12.0" y2="31.5" stroke-width="0.50"/><line x1="20.3" y1="9.3" x2="18.7" y2="8.3" stroke-width="0.69"/><line x1="10.0" y1="18.4" x2="8.8" y2="18.2" stroke-width="0.66"/><line x1="30.2" y1="29.8" x2="30.1" y2="31.7" stroke-width="0.68"/><line x1="25.4" y1="32.8" x2="28.0" y2="33.3" stroke-width="1.11"/><line x1="24.5" y1="9.6" x2="23.2" y2="8.2" stroke-width="0.76"/><line x1="9.8" y1="19.2" x2="8.4" y2="18.7" stroke-width="0.97"/><line x1="28.5" y1="31.2" x2="31.6" y2="30.9" stroke-width="0.82"/><line x1="16.8" y1="32.3" x2="13.1" y2="32.6" stroke-width="1.09"/></g>
<circle cx="21.7" cy="21.3" r="13.4" fill="#232323" filter="url(#sb)"/>
<rect x="4" y="40.8" width="8" height="1.5" fill="#fafafa"/>
<rect x="0.3" y="0.3" width="43.9" height="43.9" fill="none" stroke="#3a3a3a" stroke-width="0.7" opacity="0.5"/>
</g>
<g transform="translate(161.8,215.5)">
<rect width="44.5" height="44.5" fill="url(#g18)"/>
<rect width="44.5" height="44.5" fill="url(#ledge)"/>
<rect width="44.5" height="44.5" fill="url(#tedge)"/>
<polygon points="36.7,21.7 36.6,22.4 35.5,23.0 35.2,23.6 35.6,24.3 37.4,25.4 35.4,25.6 34.6,26.1 35.6,27.1 34.5,27.4 34.7,28.2 35.6,29.4 34.6,29.7 34.9,30.7 34.4,31.3 34.0,31.9 33.1,32.1 31.6,31.6 32.1,33.1 31.5,33.4 31.2,34.2 30.4,34.3 30.1,35.1 29.3,35.1 28.3,34.7 27.6,34.8 27.6,36.3 26.8,36.2 26.1,36.4 25.5,36.5 24.8,36.6 24.1,36.6 23.4,36.3 22.7,36.3 22.3,38.1 21.6,38.9 20.9,38.5 20.1,38.1 19.4,38.5 18.7,38.1 18.0,38.4 17.3,38.2 16.8,37.2 16.3,36.5 15.4,37.0 14.6,37.1 14.0,36.7 13.6,35.9 13.0,35.6 11.7,36.5 11.8,35.0 11.5,34.2 10.7,34.1 9.9,34.0 9.9,33.0 8.9,33.1 8.2,32.8 8.1,31.9 7.9,31.2 7.1,30.9 6.7,30.4 5.4,30.3 5.2,29.5 5.1,28.8 5.6,27.8 5.2,27.2 5.2,26.5 3.5,26.2 5.0,25.1 4.2,24.5 4.3,23.8 3.5,23.2 4.1,22.4 3.6,21.7 4.1,21.0 4.6,20.3 5.2,19.7 6.1,19.2 5.4,18.4 5.9,17.8 6.0,17.2 5.8,16.4 5.2,15.5 4.9,14.6 6.1,14.3 7.3,14.2 6.8,13.1 7.8,12.9 7.9,12.2 7.4,10.9 8.7,11.1 8.4,9.9 9.6,10.1 10.7,10.4 11.2,9.9 11.9,9.7 12.1,8.9 12.8,8.8 13.3,8.3 14.1,8.5 14.4,7.7 15.0,7.3 15.3,6.2 16.2,6.7 16.7,5.9 17.2,5.0 18.0,5.5 18.8,6.4 19.4,5.0 20.1,4.5 20.8,5.7 21.6,4.9 22.2,5.7 23.0,5.4 23.6,5.7 24.2,6.3 25.1,5.9 25.5,6.8 26.2,6.9 27.2,6.2 27.6,7.1 28.5,6.8 28.7,7.9 29.0,8.7 29.8,8.8 31.3,8.0 31.6,8.8 31.9,9.5 31.9,10.6 32.2,11.2 32.9,11.5 34.4,11.2 34.0,12.4 33.1,13.8 33.9,14.1 33.5,15.0 34.7,15.2 35.1,15.7 35.7,16.2 36.8,16.6 36.3,17.5 37.3,18.0 36.5,18.9 37.4,19.5 37.4,20.2 38.0,20.9" fill="#4a4a4a" opacity="0.5" filter="url(#sb3)"/>
<polygon points="34.5,21.7 35.1,22.3 35.0,22.9 34.6,23.5 34.2,24.1 34.3,24.7 34.6,25.4 34.5,26.1 35.0,26.9 34.8,27.5 34.2,28.0 33.2,28.2 33.8,29.3 33.1,29.6 33.0,30.3 33.2,31.3 32.2,31.4 32.0,32.0 31.9,32.8 31.4,33.3 29.8,32.5 29.0,32.4 29.4,34.1 29.2,34.9 28.3,34.7 27.2,34.1 26.9,34.8 25.8,33.9 25.3,34.4 25.0,35.3 24.5,35.8 24.3,37.3 23.3,35.9 22.7,36.2 22.1,36.4 21.5,36.7 20.8,36.3 20.2,35.7 19.5,36.5 19.0,35.7 18.3,35.9 17.6,36.7 17.2,35.3 16.8,34.5 15.8,35.7 15.3,35.4 14.7,35.2 13.6,36.0 13.6,34.4 13.5,33.4 12.4,34.0 11.6,34.1 11.5,33.1 11.4,32.3 10.5,32.4 9.5,32.5 9.8,31.3 10.2,30.1 9.2,30.2 8.6,29.9 7.9,29.6 9.0,28.2 8.0,28.1 6.6,28.1 5.8,27.7 5.4,27.1 5.9,26.2 6.0,25.5 6.0,24.9 6.1,24.2 6.1,23.6 4.9,23.0 5.9,22.3 6.4,21.7 6.1,21.1 4.8,20.3 5.2,19.7 5.3,19.1 5.8,18.5 6.1,17.9 6.7,17.4 6.3,16.6 6.9,16.2 6.0,15.0 7.4,15.0 8.2,14.7 7.3,13.5 7.4,12.7 8.3,12.5 8.9,12.2 9.6,11.9 9.4,10.9 10.5,11.0 10.6,10.2 11.1,9.7 11.7,9.5 12.4,9.3 13.6,10.2 13.7,9.0 14.0,8.3 14.7,8.4 15.1,7.7 15.7,7.5 16.5,7.8 17.1,7.8 17.6,7.2 18.3,7.4 19.0,7.6 19.6,7.6 20.2,6.3 20.8,6.7 21.4,7.0 22.0,7.4 22.5,8.6 23.3,7.4 23.7,8.4 24.6,7.3 25.2,7.7 25.6,8.4 26.5,7.9 27.4,7.5 28.2,7.5 27.9,9.3 28.2,9.9 29.3,9.5 29.8,10.0 30.7,9.9 30.9,10.7 30.8,11.6 31.2,12.1 31.9,12.3 31.5,13.4 32.9,13.2 33.2,13.8 33.0,14.6 33.3,15.2 34.2,15.4 33.2,16.5 34.6,16.7 34.0,17.5 34.0,18.1 34.3,18.7 34.3,19.3 35.2,19.8 34.6,20.5 33.7,21.1" fill="#282828" opacity="1" filter="url(#sb3)"/>
<g stroke="#404040" stroke-linecap="round" opacity="0.5" filter="url(#sb)"><line x1="25.3" y1="32.2" x2="28.4" y2="35.2" stroke-width="0.53"/><line x1="9.0" y1="22.5" x2="5.4" y2="22.9" stroke-width="0.68"/><line x1="19.4" y1="33.2" x2="17.6" y2="35.7" stroke-width="0.60"/><line x1="15.3" y1="11.4" x2="16.5" y2="6.1" stroke-width="0.95"/><line x1="21.6" y1="33.2" x2="19.9" y2="36.0" stroke-width="0.74"/><line x1="23.9" y1="32.7" x2="21.7" y2="37.4" stroke-width="0.89"/><line x1="22.9" y1="33.0" x2="27.6" y2="34.3" stroke-width="0.97"/><line x1="22.6" y1="33.0" x2="23.1" y2="37.4" stroke-width="0.75"/><line x1="9.1" y1="19.8" x2="4.7" y2="18.0" stroke-width="0.59"/><line x1="29.1" y1="29.3" x2="29.0" y2="34.2" stroke-width="0.50"/><line x1="15.9" y1="11.2" x2="11.5" y2="9.0" stroke-width="0.54"/><line x1="16.0" y1="11.1" x2="13.9" y2="8.3" stroke-width="0.69"/><line x1="29.8" y1="28.5" x2="32.7" y2="31.8" stroke-width="0.72"/><line x1="14.3" y1="31.4" x2="9.4" y2="33.5" stroke-width="0.73"/><line x1="30.3" y1="27.8" x2="33.6" y2="26.5" stroke-width="0.46"/><line x1="13.6" y1="12.5" x2="9.4" y2="11.2" stroke-width="0.93"/><line x1="12.6" y1="13.3" x2="11.9" y2="8.1" stroke-width="0.80"/><line x1="9.1" y1="19.8" x2="3.8" y2="22.6" stroke-width="0.81"/><line x1="29.1" y1="14.0" x2="33.5" y2="14.0" stroke-width="0.52"/><line x1="10.5" y1="27.5" x2="8.5" y2="29.7" stroke-width="0.81"/><line x1="27.6" y1="30.7" x2="27.0" y2="34.8" stroke-width="0.59"/><line x1="28.6" y1="29.9" x2="32.0" y2="33.9" stroke-width="0.43"/><line x1="10.1" y1="16.7" x2="6.9" y2="18.3" stroke-width="0.83"/><line x1="13.9" y1="12.3" x2="12.0" y2="9.4" stroke-width="0.73"/><line x1="9.4" y1="24.6" x2="6.7" y2="23.0" stroke-width="0.85"/><line x1="10.3" y1="27.1" x2="7.0" y2="27.8" stroke-width="0.68"/></g>
<circle cx="20.5" cy="21.7" r="12.8" fill="#242424" filter="url(#sb2)"/>
<rect x="4" y="40.8" width="8" height="1.5" fill="#fafafa"/>
<rect x="0.3" y="0.3" width="43.9" height="43.9" fill="none" stroke="#3a3a3a" stroke-width="0.7" opacity="0.5"/>
</g>
<g transform="translate(209,215.5)">
<rect width="44.5" height="44.5" fill="url(#g19)"/>
<rect width="44.5" height="44.5" fill="url(#ledge)"/>
<rect width="44.5" height="44.5" fill="url(#tedge)"/>
<rect width="44.5" height="44.5" filter="url(#tex1)"/>
<circle cx="21.5" cy="23.5" r="19.95" fill="url(#fr19)"/>
<polygon points="40.1,23.5 40.3,24.3 40.3,25.0 40.1,25.8 40.0,26.5 39.8,27.3 39.1,27.9 39.9,28.9 39.1,29.5 38.3,30.0 37.4,30.4 38.1,31.5 37.0,31.8 37.5,32.9 37.5,33.8 36.4,34.0 36.6,35.1 35.8,35.4 34.5,35.2 33.8,35.6 33.9,36.7 33.7,37.5 32.9,37.8 32.4,38.3 31.5,38.4 30.8,38.7 30.3,39.2 29.5,39.3 28.7,39.2 28.3,40.1 27.5,40.0 27.4,42.1 26.1,40.3 25.3,40.3 24.7,40.5 24.1,41.8 23.4,41.6 22.6,40.7 21.8,40.3 21.2,40.5 20.4,41.7 19.7,41.1 19.0,41.0 18.0,42.4 17.5,41.0 16.4,42.2 16.1,40.5 15.0,41.5 15.0,39.5 14.6,38.7 13.2,39.9 12.6,39.4 12.2,38.7 11.7,38.0 11.4,37.3 11.3,36.2 9.8,37.0 9.9,35.8 8.4,36.3 8.4,35.4 7.4,35.2 7.3,34.4 7.5,33.4 7.6,32.5 6.3,32.4 4.3,32.7 5.5,31.2 4.4,30.9 4.3,30.1 5.0,29.1 4.8,28.4 5.0,27.6 3.4,27.2 3.3,26.5 4.3,25.6 3.9,24.9 3.1,24.3 2.9,23.5 4.2,22.8 4.0,22.1 3.9,21.3 3.9,20.6 3.3,19.7 4.6,19.3 5.5,18.8 5.8,18.2 5.0,17.2 3.8,15.8 4.7,15.4 6.2,15.3 6.5,14.7 7.7,14.7 7.5,13.7 8.4,13.5 7.6,12.0 8.2,11.5 8.1,10.4 9.3,10.5 10.2,10.5 10.8,10.0 10.7,8.7 11.8,9.1 12.2,8.3 12.8,8.0 13.3,7.3 13.6,6.2 15.0,7.5 15.9,8.0 16.1,6.4 16.7,5.8 17.5,5.9 18.5,7.3 18.9,5.7 19.5,4.2 20.4,5.5 21.1,4.7 21.9,4.5 22.6,5.4 23.4,4.9 24.3,4.1 24.9,5.1 25.4,6.4 26.4,5.5 27.0,6.1 27.5,6.8 28.2,7.0 29.2,6.6 29.8,7.1 30.2,8.0 30.6,8.6 31.2,9.1 31.2,10.3 32.2,10.1 33.4,9.7 33.5,10.8 33.6,11.6 34.2,12.0 34.0,13.1 35.8,12.6 37.6,12.2 37.1,13.5 37.5,14.1 38.2,14.6 38.8,15.1 38.7,16.1 39.2,16.7 39.4,17.4 38.4,18.5 38.8,19.2 39.6,19.7 39.6,20.5 40.8,21.1 39.6,22.0 38.9,22.8" fill="#4c4c4c" opacity="0.45" filter="url(#sb3)"/>
<circle cx="21.5" cy="23.5" r="19.95" fill="#3a3a3a" filter="url(#mot1)" opacity="0.5"/>
<polygon points="37.3,23.5 36.7,24.1 37.7,24.8 37.4,25.5 37.7,26.2 37.8,26.9 36.5,27.3 36.0,27.8 36.2,28.5 36.4,29.2 36.4,29.9 35.3,30.1 35.0,30.7 34.0,30.8 35.2,32.3 35.5,33.4 34.5,33.4 33.7,33.6 32.7,33.6 32.4,34.2 32.5,35.2 31.4,34.9 31.1,35.6 30.4,35.7 30.2,36.4 30.4,37.9 29.8,38.3 28.9,38.0 28.4,38.5 27.5,38.2 27.0,38.6 26.3,38.8 25.6,38.7 25.0,38.8 24.3,38.7 23.8,39.8 23.1,39.2 22.6,41.0 21.8,39.4 21.2,38.9 20.5,39.0 20.0,37.9 19.3,39.1 18.5,39.8 18.0,38.6 17.0,39.9 16.7,38.6 15.6,39.8 15.2,39.0 15.2,37.3 14.2,37.9 14.4,36.3 13.5,36.5 11.9,37.8 11.4,37.2 11.5,36.1 10.3,36.4 9.6,36.1 9.9,34.9 10.3,33.6 9.0,33.9 7.8,33.9 7.6,33.3 7.1,32.7 6.6,32.2 6.3,31.6 6.1,30.9 5.7,30.3 6.0,29.5 6.1,28.7 6.7,27.8 7.2,27.1 6.5,26.6 4.8,26.3 4.8,25.5 6.2,24.8 6.5,24.1 7.0,23.5 6.5,22.9 6.9,22.3 6.3,21.6 7.3,21.2 6.8,20.5 7.5,20.0 7.1,19.3 5.6,18.1 6.7,17.8 7.8,17.6 6.9,16.5 7.5,16.0 7.4,15.3 8.8,15.3 9.2,14.9 8.8,13.8 10.0,13.9 10.8,13.8 10.0,12.3 10.7,12.0 11.3,11.7 10.9,10.2 12.1,10.7 13.3,11.3 13.0,9.7 13.6,9.4 14.6,9.8 15.0,9.2 15.3,8.2 15.8,7.7 16.4,7.3 17.0,6.9 17.8,7.2 18.7,8.3 19.2,7.7 19.9,8.3 20.6,8.4 21.2,7.8 21.8,7.8 22.4,9.3 23.2,7.4 23.8,7.6 24.3,8.2 24.8,9.2 25.6,8.6 26.3,8.3 26.6,9.5 27.2,9.6 28.0,9.3 28.1,10.4 29.0,10.1 29.2,10.9 30.3,10.4 30.8,10.9 31.6,10.8 31.1,12.5 32.4,12.0 32.7,12.5 32.7,13.4 33.8,13.3 34.4,13.6 35.5,13.7 35.0,14.8 34.1,16.1 35.3,16.2 36.2,16.4 36.0,17.2 35.7,18.0 36.5,18.4 35.5,19.4 35.9,19.9 36.2,20.5 37.1,20.9 37.2,21.6 37.2,22.2 36.7,22.9" fill="#303030" opacity="0.9" filter="url(#sb3)"/>
<g stroke="#4a4a4a" stroke-linecap="round" opacity="0.5" filter="url(#sb)"><line x1="15.9" y1="12.2" x2="13.5" y2="6.7" stroke-width="0.71"/><line x1="11.6" y1="31.3" x2="7.9" y2="37.4" stroke-width="0.50"/><line x1="20.6" y1="36.1" x2="22.1" y2="39.8" stroke-width="0.57"/><line x1="31.3" y1="31.4" x2="35.5" y2="32.4" stroke-width="0.74"/><line x1="25.3" y1="35.5" x2="28.7" y2="37.2" stroke-width="0.72"/><line x1="11.9" y1="31.6" x2="5.6" y2="32.6" stroke-width="0.65"/><line x1="31.7" y1="30.9" x2="34.6" y2="36.4" stroke-width="0.64"/><line x1="14.6" y1="12.9" x2="16.2" y2="7.9" stroke-width="0.89"/><line x1="24.8" y1="11.3" x2="23.5" y2="4.3" stroke-width="0.73"/><line x1="20.0" y1="11.0" x2="18.1" y2="5.2" stroke-width="0.50"/><line x1="12.7" y1="14.5" x2="12.0" y2="11.1" stroke-width="0.42"/><line x1="9.4" y1="27.1" x2="6.5" y2="32.0" stroke-width="0.69"/><line x1="8.9" y1="23.5" x2="5.2" y2="19.5" stroke-width="0.90"/><line x1="31.2" y1="15.5" x2="30.7" y2="10.1" stroke-width="0.63"/><line x1="31.0" y1="31.8" x2="36.8" y2="33.4" stroke-width="0.49"/><line x1="18.9" y1="35.8" x2="15.6" y2="39.4" stroke-width="0.68"/><line x1="17.5" y1="35.5" x2="20.6" y2="41.6" stroke-width="0.54"/><line x1="16.7" y1="11.9" x2="10.6" y2="8.6" stroke-width="0.46"/><line x1="8.9" y1="23.0" x2="4.1" y2="28.0" stroke-width="0.66"/><line x1="19.5" y1="35.9" x2="22.1" y2="39.0" stroke-width="0.58"/><line x1="9.2" y1="26.1" x2="6.0" y2="25.6" stroke-width="0.91"/><line x1="16.4" y1="12.0" x2="16.5" y2="8.8" stroke-width="0.77"/><line x1="34.1" y1="24.2" x2="38.2" y2="26.0" stroke-width="0.95"/><line x1="32.9" y1="18.1" x2="37.8" y2="16.7" stroke-width="0.96"/><line x1="24.6" y1="35.7" x2="30.0" y2="38.7" stroke-width="0.85"/><line x1="14.3" y1="13.1" x2="10.1" y2="12.1" stroke-width="0.71"/><line x1="21.6" y1="10.9" x2="20.0" y2="7.8" stroke-width="0.71"/><line x1="20.6" y1="36.1" x2="17.6" y2="42.1" stroke-width="0.96"/><line x1="13.5" y1="13.7" x2="8.3" y2="11.1" stroke-width="0.70"/><line x1="10.1" y1="28.9" x2="8.4" y2="34.7" stroke-width="0.90"/><line x1="28.6" y1="33.9" x2="27.3" y2="39.7" stroke-width="0.71"/><line x1="30.0" y1="14.2" x2="32.3" y2="11.3" stroke-width="0.63"/><line x1="15.8" y1="34.8" x2="14.4" y2="38.7" stroke-width="0.89"/><line x1="33.9" y1="21.2" x2="37.0" y2="22.2" stroke-width="0.72"/><line x1="10.7" y1="30.0" x2="9.1" y2="32.5" stroke-width="0.60"/><line x1="13.0" y1="32.8" x2="10.7" y2="37.6" stroke-width="0.59"/><line x1="19.6" y1="36.0" x2="19.8" y2="42.8" stroke-width="0.96"/><line x1="27.9" y1="34.4" x2="30.1" y2="39.4" stroke-width="0.82"/><line x1="9.0" y1="22.4" x2="2.7" y2="20.8" stroke-width="0.45"/><line x1="16.3" y1="12.0" x2="11.8" y2="8.5" stroke-width="0.83"/><line x1="28.0" y1="12.7" x2="26.8" y2="8.0" stroke-width="0.58"/><line x1="10.8" y1="16.8" x2="5.2" y2="18.4" stroke-width="0.67"/><line x1="9.5" y1="19.8" x2="4.2" y2="19.8" stroke-width="0.86"/><line x1="15.9" y1="12.2" x2="13.0" y2="9.6" stroke-width="0.94"/><line x1="23.8" y1="35.9" x2="26.6" y2="39.9" stroke-width="0.75"/></g>
<circle cx="21.5" cy="23.5" r="14.00" fill="#282828" filter="url(#sb4)"/>
<rect x="4" y="40.8" width="8" height="1.5" fill="#fafafa"/>
<rect x="0.3" y="0.3" width="43.9" height="43.9" fill="none" stroke="#3a3a3a" stroke-width="0.7" opacity="0.5"/>
</g>
<text transform="translate(16.20,238.25) rotate(-90)" text-anchor="middle" font-size="10.8" fill="#111" class="t">MM-1</text>
<g transform="translate(20,263.2)">
<rect width="44.5" height="44.5" fill="url(#g20)"/>
<rect width="44.5" height="44.5" fill="url(#ledge)"/>
<rect width="44.5" height="44.5" fill="url(#tedge)"/>
<circle cx="22.0" cy="22.3" r="7.00" fill="none" stroke="#e8e8e8" stroke-width="0.9" opacity="0.55"/>
<circle cx="22.0" cy="22.3" r="6.3" fill="#232323" filter="url(#sb)"/>
<circle cx="22.0" cy="22.3" r="5.30" fill="none" stroke="#444" stroke-width="1.2" opacity="0.7" filter="url(#sb)"/>
<rect x="4" y="40.8" width="8" height="1.5" fill="#fafafa"/>
<rect x="0.3" y="0.3" width="43.9" height="43.9" fill="none" stroke="#3a3a3a" stroke-width="0.7" opacity="0.5"/>
</g>
<g transform="translate(67.3,263.2)">
<rect width="44.5" height="44.5" fill="url(#g21)"/>
<rect width="44.5" height="44.5" fill="url(#ledge)"/>
<rect width="44.5" height="44.5" fill="url(#tedge)"/>
<circle cx="21.4" cy="22.6" r="7.70" fill="none" stroke="#e8e8e8" stroke-width="0.9" opacity="0.55"/>
<circle cx="21.4" cy="22.6" r="7.0" fill="#232323" filter="url(#sb)"/>
<circle cx="21.4" cy="22.6" r="6.00" fill="none" stroke="#444" stroke-width="1.2" opacity="0.7" filter="url(#sb)"/>
<rect x="4" y="40.8" width="8" height="1.5" fill="#fafafa"/>
<rect x="0.3" y="0.3" width="43.9" height="43.9" fill="none" stroke="#3a3a3a" stroke-width="0.7" opacity="0.5"/>
</g>
<g transform="translate(114.5,263.2)">
<rect width="44.5" height="44.5" fill="url(#g22)"/>
<rect width="44.5" height="44.5" fill="url(#ledge)"/>
<rect width="44.5" height="44.5" fill="url(#tedge)"/>
<polygon points="30.2,21.6 29.8,22.1 29.5,22.5 29.4,23.0 29.9,23.6 29.8,24.1 29.4,24.5 30.0,25.3 29.7,25.7 28.7,25.8 29.2,26.7 28.8,27.1 27.9,27.1 27.9,27.7 27.5,28.0 27.4,28.6 26.7,28.6 26.0,28.5 25.7,29.0 25.6,29.8 25.0,29.6 24.8,30.5 24.1,30.3 23.6,30.2 23.1,30.2 22.6,30.6 22.1,30.4 21.6,31.2 21.1,30.9 20.5,31.5 20.1,30.6 19.7,29.7 19.1,30.2 18.4,30.8 18.1,30.2 17.9,29.3 17.0,30.2 16.3,30.3 16.1,29.6 15.9,28.9 15.7,28.4 15.2,28.2 14.6,28.1 13.8,28.1 13.8,27.4 13.9,26.7 13.8,26.2 13.5,25.8 12.9,25.6 13.2,24.9 12.3,24.7 12.3,24.1 12.6,23.5 12.5,23.1 12.0,22.6 12.0,22.1 11.8,21.6 11.7,21.1 12.1,20.6 11.8,20.0 12.2,19.6 12.4,19.1 12.1,18.5 12.1,17.9 13.2,17.8 13.7,17.5 13.3,16.7 13.4,16.1 14.1,16.0 15.0,16.2 14.6,15.1 15.0,14.8 15.7,14.8 16.0,14.4 16.4,14.2 16.8,13.9 17.2,13.4 17.6,13.2 18.2,13.4 18.6,12.8 19.0,12.4 19.5,12.2 20.1,13.0 20.6,12.9 21.1,12.4 21.6,12.5 22.1,12.8 22.5,13.3 23.0,13.3 23.6,13.0 24.1,13.1 24.6,13.1 25.2,13.1 25.9,12.9 26.1,13.6 26.4,14.1 26.8,14.4 27.5,14.4 27.9,14.8 28.3,15.2 28.1,16.0 28.6,16.3 29.1,16.5 29.2,17.1 29.0,17.8 29.4,18.2 29.4,18.7 30.2,19.0 30.2,19.5 29.4,20.2 30.0,20.6 30.5,21.1" fill="#4a4a4a" opacity="0.5" filter="url(#sb3)"/>
<polygon points="28.7,21.6 28.9,22.0 29.3,22.5 29.9,23.1 29.6,23.5 28.5,23.7 29.1,24.4 29.5,25.1 28.7,25.3 28.6,25.7 28.0,25.9 28.3,26.7 27.5,26.7 26.5,26.5 26.7,27.2 27.0,28.3 26.3,28.1 25.8,28.3 25.5,28.6 24.7,28.1 24.7,29.1 24.3,29.3 23.8,29.4 23.4,29.6 22.9,29.6 22.6,30.4 22.1,30.1 21.6,29.8 21.1,29.5 20.7,29.5 20.2,29.3 19.9,28.9 19.4,29.1 19.0,29.0 18.4,29.4 17.7,29.9 17.6,28.9 16.8,29.4 16.8,28.4 16.5,28.1 15.7,28.4 15.4,27.9 15.4,27.3 14.4,27.6 14.5,26.8 14.3,26.5 14.0,26.1 13.6,25.8 13.3,25.3 13.4,24.8 13.5,24.3 14.0,23.7 13.4,23.3 13.4,22.9 12.7,22.5 12.5,22.1 12.4,21.6 12.0,21.1 12.8,20.7 13.9,20.4 13.1,19.8 13.8,19.5 13.7,19.0 14.3,18.8 13.4,17.9 13.1,17.2 13.8,17.0 14.6,17.0 14.8,16.6 14.5,15.7 15.3,15.8 15.4,15.2 15.7,14.9 16.3,14.8 16.7,14.6 16.8,13.9 17.4,13.9 17.8,13.6 18.2,13.4 18.8,13.6 19.2,13.3 19.8,14.2 20.3,14.3 20.7,14.1 21.1,14.1 21.5,14.0 22.0,14.0 22.5,13.2 23.0,13.3 23.2,14.3 23.8,13.9 24.2,14.2 24.6,14.3 24.9,14.8 25.1,15.2 25.4,15.5 25.8,15.7 26.5,15.6 26.9,15.8 26.8,16.5 27.2,16.7 28.3,16.5 28.3,17.1 28.5,17.5 28.5,18.0 29.3,18.2 29.3,18.7 29.0,19.3 29.1,19.8 28.8,20.3 29.3,20.7 28.6,21.2" fill="#282828" opacity="1" filter="url(#sb3)"/>
<g stroke="#404040" stroke-linecap="round" opacity="0.5" filter="url(#sb)"><line x1="27.2" y1="20.0" x2="27.8" y2="17.5" stroke-width="0.98"/><line x1="23.6" y1="27.4" x2="23.6" y2="29.0" stroke-width="0.61"/><line x1="25.9" y1="17.6" x2="28.4" y2="18.3" stroke-width="0.60"/><line x1="16.0" y1="17.9" x2="14.2" y2="15.2" stroke-width="0.94"/><line x1="19.5" y1="15.5" x2="20.8" y2="14.0" stroke-width="0.75"/><line x1="18.8" y1="27.4" x2="16.7" y2="28.2" stroke-width="0.75"/><line x1="26.9" y1="19.2" x2="30.2" y2="20.6" stroke-width="0.74"/><line x1="19.1" y1="15.6" x2="17.1" y2="13.8" stroke-width="0.96"/><line x1="18.7" y1="27.4" x2="15.5" y2="28.8" stroke-width="0.78"/><line x1="25.0" y1="26.5" x2="26.1" y2="29.3" stroke-width="0.52"/><line x1="27.1" y1="23.5" x2="29.7" y2="21.8" stroke-width="0.94"/><line x1="14.8" y1="21.4" x2="12.5" y2="21.7" stroke-width="0.79"/><line x1="26.6" y1="18.4" x2="27.8" y2="17.0" stroke-width="0.75"/><line x1="19.3" y1="27.6" x2="18.3" y2="29.9" stroke-width="0.66"/><line x1="18.2" y1="16.0" x2="15.4" y2="15.2" stroke-width="0.98"/><line x1="17.2" y1="26.6" x2="16.3" y2="28.5" stroke-width="0.94"/><line x1="27.1" y1="19.7" x2="29.1" y2="18.6" stroke-width="0.47"/><line x1="26.1" y1="17.8" x2="27.5" y2="17.0" stroke-width="0.62"/><line x1="18.1" y1="27.2" x2="18.6" y2="29.5" stroke-width="0.44"/><line x1="15.0" y1="20.2" x2="12.4" y2="18.8" stroke-width="0.53"/></g>
<circle cx="21.1" cy="21.6" r="7" fill="#242424" filter="url(#sb2)"/>
<rect x="4" y="40.8" width="8" height="1.5" fill="#fafafa"/>
<rect x="0.3" y="0.3" width="43.9" height="43.9" fill="none" stroke="#3a3a3a" stroke-width="0.7" opacity="0.5"/>
</g>
<g transform="translate(161.8,263.2)">
<rect width="44.5" height="44.5" fill="url(#g23)"/>
<rect width="44.5" height="44.5" fill="url(#ledge)"/>
<rect width="44.5" height="44.5" fill="url(#tedge)"/>
<polygon points="34.2,21.9 33.9,22.5 33.2,23.1 33.8,23.8 34.6,24.6 33.8,25.1 33.7,25.8 32.5,26.0 32.9,26.8 32.7,27.5 32.0,27.8 31.7,28.3 31.6,29.0 32.9,30.8 31.6,30.7 31.0,31.0 30.9,31.9 30.4,32.4 29.5,32.4 29.7,33.9 28.8,33.8 28.6,34.9 27.1,33.6 26.4,33.4 25.7,33.6 25.7,35.5 24.9,35.4 24.3,35.9 23.5,35.3 22.9,36.5 22.1,36.2 21.4,36.2 20.7,34.7 19.9,36.2 19.2,36.2 18.6,35.6 18.1,34.8 17.3,34.8 17.1,33.6 16.7,32.9 15.4,34.2 14.8,33.8 14.1,33.5 14.5,31.9 13.4,32.2 12.1,32.8 12.6,31.2 11.8,31.0 11.7,30.2 11.8,29.3 10.3,29.6 9.8,29.2 9.7,28.4 8.7,28.1 8.6,27.4 10.5,25.9 8.6,25.9 9.5,25.0 9.2,24.4 9.5,23.7 9.4,23.1 8.0,22.6 8.8,21.9 7.9,21.2 7.1,20.5 7.3,19.7 9.1,19.4 9.8,18.9 8.5,17.8 9.0,17.3 8.6,16.4 10.1,16.3 10.0,15.6 10.6,15.2 11.3,14.9 11.0,13.9 11.5,13.4 12.2,13.2 11.7,11.7 12.3,11.3 13.9,12.2 15.0,12.7 15.3,12.1 15.7,11.6 16.3,11.4 16.9,11.4 16.9,9.7 17.7,10.1 18.2,9.7 18.8,9.4 19.5,9.3 20.1,9.4 20.7,8.8 21.4,8.5 22.0,9.1 22.7,8.8 23.2,9.8 23.8,10.1 24.5,9.9 25.1,10.0 25.8,10.1 26.6,9.8 27.4,9.7 27.9,10.2 27.8,11.7 27.8,12.6 28.6,12.6 29.2,12.8 30.8,12.0 31.8,12.0 31.4,13.3 32.7,13.2 33.1,13.8 33.0,14.7 33.0,15.5 32.6,16.4 33.3,16.8 32.9,17.6 33.6,18.1 34.7,18.4 34.3,19.2 35.9,19.7 34.1,20.6 33.0,21.3" fill="#4a4a4a" opacity="0.5" filter="url(#sb3)"/>
<polygon points="33.0,21.9 31.9,22.4 32.4,23.0 32.8,23.7 31.8,24.0 31.3,24.5 32.7,25.4 33.5,26.4 31.2,26.1 30.3,26.3 30.1,26.7 29.8,27.1 29.8,27.8 30.8,29.1 30.0,29.3 29.0,29.2 28.9,29.8 28.6,30.3 28.3,30.8 28.4,32.0 27.1,31.0 26.7,31.4 26.2,31.6 25.3,31.0 25.1,31.8 24.5,31.7 24.2,32.6 23.4,31.6 22.9,31.9 22.4,31.9 21.9,32.2 21.4,33.6 20.8,33.1 20.1,34.5 19.7,33.0 19.5,31.3 18.6,32.6 17.5,34.4 17.0,33.9 16.3,33.8 16.7,31.6 16.6,30.6 15.8,30.8 14.5,31.8 14.1,31.3 15.0,29.4 14.4,29.3 13.1,29.8 13.2,29.0 12.7,28.6 11.9,28.5 10.3,28.8 11.3,27.5 10.4,27.3 11.2,26.3 10.6,25.9 11.0,25.2 12.1,24.3 9.7,24.3 9.5,23.7 9.4,23.1 8.3,22.6 9.7,21.9 11.6,21.4 11.0,20.8 11.2,20.3 9.2,19.4 8.9,18.7 9.5,18.2 9.6,17.5 11.0,17.5 12.6,17.6 10.8,16.0 10.8,15.3 11.0,14.7 11.6,14.3 12.7,14.4 12.9,13.8 13.7,13.8 12.9,12.0 13.9,12.3 15.5,13.4 15.6,12.5 16.4,12.8 16.5,12.0 16.7,11.0 17.5,11.5 18.0,11.2 18.3,9.8 18.8,9.3 19.5,9.4 20.1,9.2 20.8,10.5 21.4,10.2 22.0,9.8 22.7,8.9 23.1,10.9 23.9,9.9 24.4,10.4 24.8,10.9 25.4,11.2 26.0,11.2 26.7,11.2 26.8,12.2 27.5,12.1 27.6,13.1 28.8,12.3 29.1,12.9 29.7,13.2 29.2,14.5 30.4,14.1 30.3,15.0 31.7,14.8 32.0,15.3 30.9,16.6 31.5,16.9 31.4,17.6 31.2,18.3 31.3,18.8 30.8,19.5 32.7,19.6 31.4,20.4 33.3,20.7 33.6,21.3" fill="#282828" opacity="1" filter="url(#sb3)"/>
<g stroke="#404040" stroke-linecap="round" opacity="0.5" filter="url(#sb)"><line x1="28.6" y1="18.2" x2="35.5" y2="18.5" stroke-width="0.47"/><line x1="14.6" y1="17.5" x2="11.2" y2="15.0" stroke-width="0.49"/><line x1="24.3" y1="29.5" x2="27.7" y2="32.6" stroke-width="0.67"/><line x1="29.4" y1="23.2" x2="31.9" y2="24.9" stroke-width="0.66"/><line x1="13.3" y1="21.3" x2="7.8" y2="22.0" stroke-width="0.45"/><line x1="23.1" y1="14.0" x2="25.3" y2="9.5" stroke-width="0.77"/><line x1="29.4" y1="20.4" x2="33.5" y2="21.6" stroke-width="0.63"/><line x1="14.1" y1="18.4" x2="8.9" y2="17.4" stroke-width="0.47"/><line x1="13.4" y1="23.2" x2="7.9" y2="23.4" stroke-width="0.67"/><line x1="16.3" y1="15.6" x2="12.8" y2="14.6" stroke-width="0.60"/><line x1="24.7" y1="14.5" x2="23.5" y2="10.7" stroke-width="0.48"/><line x1="29.3" y1="23.9" x2="32.6" y2="25.2" stroke-width="0.88"/><line x1="17.5" y1="29.0" x2="16.9" y2="33.1" stroke-width="0.59"/><line x1="22.8" y1="13.9" x2="21.8" y2="9.1" stroke-width="0.48"/><line x1="23.1" y1="14.0" x2="26.8" y2="9.5" stroke-width="0.55"/><line x1="13.6" y1="19.6" x2="7.9" y2="17.1" stroke-width="0.95"/><line x1="25.4" y1="28.9" x2="31.7" y2="32.2" stroke-width="0.65"/><line x1="29.4" y1="23.1" x2="34.8" y2="25.5" stroke-width="0.97"/><line x1="24.1" y1="14.3" x2="26.6" y2="8.4" stroke-width="0.97"/><line x1="21.3" y1="13.8" x2="24.7" y2="10.4" stroke-width="0.63"/><line x1="24.2" y1="29.5" x2="25.4" y2="32.0" stroke-width="0.53"/><line x1="28.8" y1="18.6" x2="33.5" y2="13.9" stroke-width="0.48"/><line x1="13.4" y1="20.4" x2="10.4" y2="19.6" stroke-width="0.88"/><line x1="21.2" y1="30.0" x2="18.2" y2="33.8" stroke-width="0.67"/><line x1="16.9" y1="28.7" x2="11.5" y2="32.1" stroke-width="0.92"/><line x1="18.3" y1="14.4" x2="18.1" y2="10.1" stroke-width="0.88"/><line x1="16.2" y1="15.7" x2="13.0" y2="14.0" stroke-width="0.65"/><line x1="22.5" y1="13.9" x2="23.5" y2="9.2" stroke-width="0.88"/><line x1="27.7" y1="27.0" x2="32.4" y2="29.1" stroke-width="0.73"/><line x1="25.5" y1="14.9" x2="29.8" y2="13.9" stroke-width="0.46"/></g>
<circle cx="21.4" cy="21.9" r="9" fill="#242424" filter="url(#sb2)"/>
<rect x="4" y="40.8" width="8" height="1.5" fill="#fafafa"/>
<rect x="0.3" y="0.3" width="43.9" height="43.9" fill="none" stroke="#3a3a3a" stroke-width="0.7" opacity="0.5"/>
</g>
<g transform="translate(209,263.2)">
<rect width="44.5" height="44.5" fill="url(#g24)"/>
<rect width="44.5" height="44.5" fill="url(#ledge)"/>
<rect width="44.5" height="44.5" fill="url(#tedge)"/>
<rect width="44.5" height="44.5" filter="url(#tex0)"/>
<circle cx="21.2" cy="21.0" r="19.95" fill="url(#fr24)"/>
<polygon points="39.6,21.0 41.1,21.9 39.6,22.6 40.5,23.6 37.8,24.0 36.7,24.5 36.8,25.3 35.7,25.6 36.9,26.8 37.0,27.6 37.6,28.8 38.5,30.1 35.7,29.5 34.8,29.8 35.4,31.1 35.6,32.2 34.1,32.1 34.1,33.1 32.9,33.0 32.4,33.5 31.6,33.7 31.1,34.3 31.1,35.6 31.1,37.0 30.5,37.6 29.9,38.5 27.9,35.9 26.9,35.5 26.7,36.8 25.8,36.6 25.7,39.0 24.7,38.3 24.1,39.9 23.3,40.1 22.4,39.3 21.5,36.4 20.8,39.3 19.9,39.9 19.3,38.1 18.3,39.8 17.8,37.8 16.6,39.5 16.0,38.6 15.3,38.0 14.9,36.9 13.3,38.6 12.9,37.5 11.6,38.2 12.2,35.6 11.5,35.2 10.8,35.0 10.0,34.6 10.5,32.9 10.5,31.9 9.1,32.3 6.9,33.3 6.6,32.4 8.7,29.9 6.6,30.5 5.8,30.1 5.1,29.5 4.6,28.9 3.9,28.3 3.0,27.7 3.9,26.5 4.5,25.5 3.8,24.9 3.2,24.2 3.9,23.3 1.3,22.8 2.8,21.8 3.5,21.0 2.3,20.2 2.6,19.3 3.7,18.7 3.4,17.8 4.9,17.3 5.4,16.7 5.0,15.8 4.5,14.8 4.7,14.1 4.2,12.9 5.4,12.6 4.3,11.1 6.7,11.6 8.5,12.0 7.8,10.5 6.1,8.1 7.4,8.0 9.7,9.2 8.6,7.0 8.5,5.5 10.9,7.2 12.7,8.5 12.5,7.0 12.6,5.7 13.4,5.3 13.4,3.5 14.7,4.5 14.7,2.1 15.9,3.2 17.3,5.1 18.1,5.8 18.8,5.8 19.3,4.3 20.1,4.2 20.8,3.7 21.6,3.6 22.3,4.5 23.1,3.7 23.8,4.1 24.6,4.0 25.5,3.5 25.8,5.4 26.6,5.3 28.2,3.2 29.2,3.2 29.8,3.9 30.7,3.9 31.6,4.2 31.5,5.8 30.5,8.6 31.2,8.7 32.4,8.5 33.8,8.1 35.8,7.3 35.0,9.2 33.8,11.1 34.9,11.2 36.3,11.2 36.4,12.1 38.5,11.8 38.1,13.0 37.9,14.0 38.4,14.7 38.3,15.5 38.4,16.3 39.0,17.0 38.8,17.9 38.8,18.7 38.8,19.4 39.1,20.2" fill="#4c4c4c" opacity="0.45" filter="url(#sb3)"/>
<circle cx="21.2" cy="21.0" r="19.95" fill="#3a3a3a" filter="url(#mot0)" opacity="0.5"/>
<polygon points="35.8,21.0 35.7,21.6 35.4,22.3 36.3,23.0 36.6,23.8 37.1,24.6 35.6,24.9 34.9,25.4 36.0,26.5 35.7,27.1 33.8,27.0 32.4,26.9 33.4,28.1 33.4,28.9 33.1,29.5 32.7,30.0 32.5,30.6 32.9,32.0 31.0,31.0 29.7,30.5 30.5,32.3 30.9,33.9 29.6,33.3 28.5,32.9 28.5,34.1 27.2,33.0 27.5,35.2 27.4,36.6 26.4,36.0 25.6,35.7 24.6,34.7 24.1,35.4 23.7,36.8 22.9,36.3 22.1,35.0 21.5,34.6 20.9,36.8 20.2,36.8 19.7,34.6 19.1,34.8 18.2,35.8 18.1,33.6 17.0,35.4 16.8,33.8 16.2,33.6 15.6,33.4 15.0,33.3 14.9,32.4 12.9,34.4 12.0,34.5 12.4,32.8 11.9,32.4 11.5,31.8 9.6,32.9 9.8,31.6 11.3,29.5 9.1,30.5 8.4,30.1 8.9,29.0 7.5,29.0 8.2,27.9 7.0,27.7 8.6,26.3 8.7,25.6 6.3,25.8 5.5,25.3 5.7,24.5 7.2,23.5 7.6,22.8 7.2,22.2 5.8,21.7 6.5,21.0 6.9,20.4 8.6,19.9 6.2,19.0 5.4,18.2 7.2,17.8 8.0,17.4 8.6,17.0 8.2,16.2 8.5,15.6 8.4,15.0 7.9,14.0 9.6,14.2 9.5,13.4 8.6,12.0 10.0,12.3 9.0,10.6 10.8,11.3 10.4,10.0 10.9,9.5 11.2,8.8 11.7,8.3 13.0,8.9 13.4,8.3 14.4,8.9 15.1,8.9 15.5,8.2 15.8,7.3 16.3,6.9 17.0,6.9 17.4,5.7 18.1,5.6 18.9,6.3 19.5,5.8 20.3,7.1 20.9,6.0 21.5,6.9 22.2,6.3 22.9,5.3 23.6,5.6 24.4,5.3 24.5,7.9 24.8,8.8 25.4,8.7 26.3,8.1 26.7,8.7 27.9,7.7 28.4,8.0 28.5,9.2 29.4,8.9 29.1,10.4 30.2,10.0 31.1,9.9 31.5,10.5 31.6,11.3 31.5,12.2 32.6,12.1 33.4,12.3 35.0,12.0 34.8,13.0 33.8,14.3 34.2,14.8 33.2,16.0 34.4,16.1 36.9,16.0 35.5,17.1 37.7,17.3 37.0,18.2 36.3,19.0 35.8,19.7 37.7,20.3" fill="#303030" opacity="0.9" filter="url(#sb3)"/>
<g stroke="#4a4a4a" stroke-linecap="round" opacity="0.5" filter="url(#sb)"><line x1="18.7" y1="10.5" x2="13.1" y2="3.3" stroke-width="0.98"/><line x1="24.9" y1="31.1" x2="31.6" y2="36.3" stroke-width="0.84"/><line x1="27.5" y1="29.8" x2="29.9" y2="37.5" stroke-width="0.85"/><line x1="11.1" y1="24.9" x2="1.6" y2="22.5" stroke-width="0.48"/><line x1="10.5" y1="19.9" x2="1.6" y2="16.0" stroke-width="0.67"/><line x1="17.6" y1="31.2" x2="19.3" y2="41.1" stroke-width="0.85"/><line x1="27.2" y1="12.0" x2="28.3" y2="7.4" stroke-width="0.59"/><line x1="10.8" y1="18.2" x2="6.6" y2="13.0" stroke-width="0.94"/><line x1="16.8" y1="30.9" x2="18.1" y2="40.6" stroke-width="0.47"/><line x1="15.7" y1="11.7" x2="14.7" y2="2.9" stroke-width="0.98"/><line x1="28.1" y1="12.7" x2="33.1" y2="10.2" stroke-width="0.94"/><line x1="30.2" y1="27.0" x2="37.4" y2="27.5" stroke-width="0.50"/><line x1="10.5" y1="22.4" x2="3.0" y2="18.1" stroke-width="0.49"/><line x1="10.4" y1="20.6" x2="1.1" y2="17.1" stroke-width="0.72"/><line x1="21.7" y1="31.8" x2="24.6" y2="38.9" stroke-width="0.78"/><line x1="14.8" y1="12.3" x2="13.8" y2="6.0" stroke-width="0.65"/><line x1="10.6" y1="23.1" x2="2.9" y2="27.6" stroke-width="0.52"/><line x1="11.6" y1="16.1" x2="8.1" y2="10.1" stroke-width="0.56"/><line x1="13.7" y1="28.8" x2="11.3" y2="32.0" stroke-width="0.60"/><line x1="11.0" y1="24.4" x2="5.5" y2="31.7" stroke-width="0.97"/><line x1="18.6" y1="10.5" x2="17.0" y2="2.1" stroke-width="0.74"/><line x1="12.1" y1="26.8" x2="8.7" y2="32.3" stroke-width="0.59"/><line x1="18.3" y1="31.4" x2="13.0" y2="35.3" stroke-width="0.87"/><line x1="14.4" y1="12.6" x2="10.5" y2="11.2" stroke-width="0.72"/><line x1="17.4" y1="10.9" x2="16.4" y2="4.7" stroke-width="0.93"/><line x1="20.0" y1="31.7" x2="16.8" y2="37.1" stroke-width="0.60"/><line x1="19.3" y1="10.4" x2="13.6" y2="6.0" stroke-width="0.68"/><line x1="31.0" y1="25.5" x2="36.6" y2="32.4" stroke-width="0.72"/><line x1="29.9" y1="14.6" x2="33.6" y2="11.3" stroke-width="0.52"/><line x1="31.5" y1="24.3" x2="40.6" y2="21.7" stroke-width="0.94"/><line x1="11.1" y1="17.2" x2="2.6" y2="19.4" stroke-width="0.93"/><line x1="24.1" y1="10.6" x2="22.5" y2="6.0" stroke-width="0.50"/><line x1="10.4" y1="20.7" x2="6.6" y2="18.0" stroke-width="0.70"/><line x1="18.1" y1="10.6" x2="18.1" y2="5.3" stroke-width="0.67"/><line x1="14.8" y1="12.3" x2="15.5" y2="5.1" stroke-width="0.89"/><line x1="26.6" y1="11.6" x2="26.6" y2="5.4" stroke-width="0.51"/><line x1="28.5" y1="28.9" x2="36.7" y2="34.0" stroke-width="0.91"/><line x1="22.4" y1="31.7" x2="25.9" y2="38.5" stroke-width="0.59"/><line x1="21.0" y1="10.2" x2="25.7" y2="3.5" stroke-width="0.55"/><line x1="19.8" y1="31.7" x2="21.8" y2="35.8" stroke-width="0.97"/><line x1="11.3" y1="16.8" x2="4.7" y2="15.8" stroke-width="0.85"/><line x1="17.2" y1="11.0" x2="11.8" y2="8.8" stroke-width="0.52"/><line x1="25.6" y1="11.1" x2="26.0" y2="2.8" stroke-width="0.55"/><line x1="17.4" y1="31.1" x2="12.2" y2="37.2" stroke-width="0.55"/><line x1="16.1" y1="30.5" x2="10.2" y2="32.5" stroke-width="0.73"/><line x1="31.2" y1="17.0" x2="36.4" y2="16.3" stroke-width="0.74"/><line x1="31.0" y1="16.5" x2="35.0" y2="11.7" stroke-width="0.88"/><line x1="31.5" y1="17.8" x2="37.3" y2="14.2" stroke-width="0.47"/><line x1="11.1" y1="24.7" x2="3.1" y2="29.4" stroke-width="0.67"/><line x1="11.3" y1="16.8" x2="5.6" y2="18.3" stroke-width="0.71"/><line x1="31.8" y1="18.8" x2="39.9" y2="14.7" stroke-width="0.86"/><line x1="26.5" y1="11.6" x2="28.7" y2="4.7" stroke-width="0.53"/><line x1="18.1" y1="10.7" x2="12.9" y2="4.4" stroke-width="0.50"/><line x1="29.3" y1="28.1" x2="32.5" y2="36.8" stroke-width="0.71"/><line x1="12.9" y1="14.1" x2="4.7" y2="12.2" stroke-width="0.71"/></g>
<circle cx="21.2" cy="21.0" r="12.00" fill="#282828" filter="url(#sb4)"/>
<rect x="4" y="40.8" width="8" height="1.5" fill="#fafafa"/>
<rect x="0.3" y="0.3" width="43.9" height="43.9" fill="none" stroke="#3a3a3a" stroke-width="0.7" opacity="0.5"/>
</g>
<text transform="translate(16.20,285.95) rotate(-90)" text-anchor="middle" font-size="10.8" fill="#111" class="t">MM-0.5</text>
<g transform="translate(20,311)">
<rect width="44.5" height="44.5" fill="url(#g25)"/>
<rect width="44.5" height="44.5" fill="url(#ledge)"/>
<rect width="44.5" height="44.5" fill="url(#tedge)"/>
<circle cx="22.0" cy="22.5" r="5.70" fill="none" stroke="#e8e8e8" stroke-width="0.9" opacity="0.55"/>
<circle cx="22.0" cy="22.5" r="5.0" fill="#232323" filter="url(#sb)"/>
<circle cx="22.0" cy="22.5" r="4.00" fill="none" stroke="#444" stroke-width="1.2" opacity="0.7" filter="url(#sb)"/>
<rect x="4" y="40.8" width="8" height="1.5" fill="#fafafa"/>
<rect x="0.3" y="0.3" width="43.9" height="43.9" fill="none" stroke="#3a3a3a" stroke-width="0.7" opacity="0.5"/>
</g>
<g transform="translate(67.3,311)">
<rect width="44.5" height="44.5" fill="url(#g26)"/>
<rect width="44.5" height="44.5" fill="url(#ledge)"/>
<rect width="44.5" height="44.5" fill="url(#tedge)"/>
<circle cx="21.4" cy="22.5" r="6.70" fill="none" stroke="#e8e8e8" stroke-width="0.9" opacity="0.55"/>
<circle cx="21.4" cy="22.5" r="6.0" fill="#232323" filter="url(#sb)"/>
<circle cx="21.4" cy="22.5" r="5.00" fill="none" stroke="#444" stroke-width="1.2" opacity="0.7" filter="url(#sb)"/>
<rect x="4" y="40.8" width="8" height="1.5" fill="#fafafa"/>
<rect x="0.3" y="0.3" width="43.9" height="43.9" fill="none" stroke="#3a3a3a" stroke-width="0.7" opacity="0.5"/>
</g>
<g transform="translate(114.5,311)">
<rect width="44.5" height="44.5" fill="url(#g27)"/>
<rect width="44.5" height="44.5" fill="url(#ledge)"/>
<rect width="44.5" height="44.5" fill="url(#tedge)"/>
<polygon points="30.0,21.7 29.2,22.2 29.4,22.6 30.3,23.3 29.6,23.6 30.1,24.3 29.3,24.6 28.7,24.8 28.7,25.4 29.0,26.1 28.1,26.1 27.7,26.4 27.5,26.8 27.3,27.3 27.1,27.7 26.9,28.2 26.3,28.2 25.9,28.5 25.5,28.7 25.3,29.3 25.0,29.7 24.4,29.6 23.9,29.7 23.6,30.3 23.1,30.6 22.6,30.4 22.1,30.4 21.6,30.9 21.1,30.7 20.6,30.9 20.1,30.2 19.7,29.9 19.2,30.0 18.6,30.4 18.2,29.9 17.7,29.8 17.1,30.0 16.6,29.9 16.6,28.8 16.3,28.5 15.9,28.2 15.0,28.5 14.9,27.9 14.3,27.8 13.9,27.4 13.8,26.9 13.7,26.3 13.2,26.1 12.9,25.7 12.7,25.2 12.9,24.6 12.3,24.2 12.4,23.7 13.3,23.0 12.5,22.7 12.2,22.2 12.1,21.7 12.6,21.2 13.1,20.8 13.3,20.4 12.5,19.7 12.5,19.2 12.8,18.8 13.5,18.6 13.1,17.8 13.1,17.3 13.8,17.1 14.2,16.8 14.3,16.3 15.0,16.2 15.0,15.6 15.7,15.7 16.0,15.4 16.4,15.0 16.8,14.8 17.2,14.6 17.4,14.1 17.8,13.8 18.2,13.4 18.5,12.8 19.1,12.9 19.7,13.5 20.1,13.1 20.6,13.3 21.1,13.1 21.5,13.7 22.1,13.1 22.6,13.0 23.1,13.1 23.6,13.1 23.9,13.6 24.4,13.8 24.7,14.2 25.3,14.2 25.5,14.8 25.7,15.2 26.5,14.9 27.3,14.8 27.1,15.7 27.3,16.1 27.8,16.4 28.5,16.5 28.3,17.2 28.6,17.5 29.2,17.8 29.2,18.3 29.0,18.9 29.0,19.4 29.3,19.8 29.6,20.3 29.5,20.8 30.0,21.2" fill="#4a4a4a" opacity="0.5" filter="url(#sb3)"/>
<polygon points="28.8,21.7 29.1,22.1 28.8,22.6 29.0,23.0 29.0,23.5 28.4,23.8 28.7,24.3 28.4,24.7 28.2,25.1 28.0,25.5 27.8,25.9 27.7,26.4 27.1,26.5 26.8,26.8 27.0,27.6 26.8,28.1 26.4,28.3 25.9,28.5 25.4,28.5 24.7,28.2 24.6,28.9 24.1,28.9 23.6,28.9 23.2,29.0 22.9,29.6 22.5,29.8 22.0,29.6 21.5,29.0 21.1,29.5 20.6,30.1 20.2,30.0 19.8,29.4 19.3,29.5 19.0,29.1 18.5,29.1 18.1,28.9 17.6,29.0 17.2,28.8 16.8,28.5 16.2,28.6 16.3,27.7 16.1,27.3 15.4,27.4 14.8,27.4 14.6,26.9 14.8,26.2 14.6,25.8 14.4,25.4 14.0,25.1 13.7,24.8 13.8,24.2 13.3,24.0 13.5,23.4 13.0,23.1 13.3,22.6 13.8,22.1 13.6,21.7 12.7,21.2 13.3,20.8 13.7,20.4 13.6,20.0 13.7,19.6 13.5,19.0 13.2,18.4 13.8,18.2 13.6,17.5 14.2,17.4 14.5,17.0 15.1,16.9 15.2,16.5 15.8,16.4 16.2,16.3 16.3,15.7 16.6,15.3 16.9,15.1 17.6,15.3 17.7,14.6 18.1,14.4 18.4,14.0 18.8,13.8 19.3,13.9 19.7,13.8 20.2,13.8 20.6,13.4 21.1,13.9 21.5,13.9 22.0,14.0 22.4,13.8 22.9,13.8 23.3,14.1 23.8,14.1 23.9,14.9 24.6,14.4 25.0,14.7 25.4,14.9 25.9,14.9 26.2,15.4 26.1,16.1 26.8,16.0 27.3,16.2 27.2,16.8 27.3,17.3 28.1,17.3 28.7,17.5 28.6,18.1 28.5,18.6 28.4,19.1 28.4,19.6 29.1,19.9 29.1,20.3 28.9,20.8 28.4,21.3" fill="#282828" opacity="1" filter="url(#sb3)"/>
<g stroke="#404040" stroke-linecap="round" opacity="0.5" filter="url(#sb)"><line x1="17.3" y1="16.6" x2="18.1" y2="13.8" stroke-width="0.53"/><line x1="26.9" y1="24.2" x2="29.3" y2="24.3" stroke-width="0.63"/><line x1="23.6" y1="15.9" x2="25.7" y2="15.7" stroke-width="0.70"/><line x1="26.8" y1="24.4" x2="28.9" y2="25.9" stroke-width="0.46"/><line x1="24.4" y1="16.4" x2="26.6" y2="15.2" stroke-width="0.79"/><line x1="27.4" y1="21.4" x2="28.2" y2="23.4" stroke-width="0.78"/><line x1="21.0" y1="28.0" x2="21.8" y2="30.0" stroke-width="0.78"/><line x1="19.3" y1="15.7" x2="17.0" y2="14.7" stroke-width="0.64"/><line x1="19.1" y1="27.7" x2="16.4" y2="28.8" stroke-width="0.85"/><line x1="14.9" y1="20.5" x2="13.9" y2="19.3" stroke-width="0.57"/><line x1="27.4" y1="21.6" x2="28.4" y2="23.7" stroke-width="0.43"/><line x1="22.3" y1="15.5" x2="22.9" y2="14.0" stroke-width="0.65"/><line x1="18.9" y1="27.6" x2="16.9" y2="28.5" stroke-width="0.62"/><line x1="17.1" y1="26.5" x2="17.0" y2="29.2" stroke-width="0.62"/><line x1="14.8" y1="21.0" x2="13.0" y2="22.5" stroke-width="0.85"/><line x1="14.8" y1="22.1" x2="13.8" y2="22.9" stroke-width="0.45"/><line x1="17.6" y1="26.9" x2="17.9" y2="28.5" stroke-width="0.73"/><line x1="18.8" y1="15.8" x2="18.1" y2="14.5" stroke-width="0.71"/></g>
<circle cx="21.1" cy="21.7" r="7" fill="#242424" filter="url(#sb2)"/>
<rect x="4" y="40.8" width="8" height="1.5" fill="#fafafa"/>
<rect x="0.3" y="0.3" width="43.9" height="43.9" fill="none" stroke="#3a3a3a" stroke-width="0.7" opacity="0.5"/>
</g>
<g transform="translate(161.8,311)">
<rect width="44.5" height="44.5" fill="url(#g28)"/>
<rect width="44.5" height="44.5" fill="url(#ledge)"/>
<rect width="44.5" height="44.5" fill="url(#tedge)"/>
<polygon points="34.8,21.3 35.5,22.0 34.7,22.6 33.4,23.1 33.3,23.7 33.5,24.4 33.4,25.0 33.6,25.7 32.8,26.1 33.7,27.2 32.2,27.1 32.2,27.8 32.0,28.4 31.1,28.6 31.1,29.4 31.4,30.4 30.5,30.5 29.4,30.2 29.6,31.5 29.6,32.5 28.7,32.5 27.6,31.9 26.8,31.7 26.3,32.0 26.0,32.7 25.6,33.5 25.0,33.4 24.6,34.6 23.9,34.6 23.3,35.4 22.5,34.1 21.9,34.9 21.3,33.4 20.7,32.6 20.0,33.4 19.3,34.0 18.6,34.6 17.9,34.4 17.3,34.0 16.4,34.6 16.1,33.5 15.1,34.0 15.3,32.3 14.8,31.9 14.5,31.2 13.7,31.3 13.4,30.7 13.3,29.9 12.4,29.9 10.8,30.5 11.4,29.2 11.6,28.3 10.3,28.4 9.6,28.0 9.8,27.2 9.2,26.7 9.0,26.1 10.3,25.0 9.0,24.8 7.5,24.5 9.0,23.5 9.7,22.8 8.8,22.2 9.6,21.6 8.5,21.0 8.1,20.3 8.7,19.7 8.7,19.1 8.8,18.4 9.2,17.9 9.8,17.4 9.7,16.7 9.3,15.9 8.9,14.9 10.6,15.1 10.7,14.5 10.9,13.8 10.2,12.4 11.5,12.7 12.8,13.0 13.1,12.5 12.8,11.2 13.8,11.4 14.4,11.2 14.4,10.0 14.6,9.1 15.9,10.2 16.3,9.5 17.0,9.6 17.1,7.7 18.0,8.5 18.6,8.3 19.2,7.9 19.8,7.3 20.6,8.2 21.2,7.3 21.9,8.7 22.5,8.1 23.1,8.8 23.9,7.8 24.3,9.3 24.8,9.8 25.4,9.8 26.0,9.8 26.6,10.0 26.9,10.7 28.0,10.2 28.3,10.8 29.5,10.3 30.0,10.6 29.8,12.0 30.1,12.5 30.7,12.8 31.9,12.6 31.1,14.0 30.9,14.9 31.8,15.0 32.7,15.2 33.5,15.5 32.9,16.5 34.0,16.8 34.9,17.2 34.8,17.9 35.0,18.6 34.1,19.4 34.4,20.0 34.4,20.7" fill="#4a4a4a" opacity="0.5" filter="url(#sb3)"/>
<polygon points="32.8,21.3 31.7,21.8 32.8,22.4 32.3,22.9 32.1,23.4 31.9,23.9 32.9,24.8 32.7,25.4 31.9,25.7 32.3,26.5 32.4,27.3 32.1,27.8 31.3,28.0 30.4,28.0 29.8,28.3 29.9,29.1 29.8,29.8 28.5,29.2 28.3,29.8 28.5,31.0 27.5,30.6 26.6,30.1 26.6,31.2 26.8,33.0 25.8,32.1 25.6,33.3 24.7,32.5 24.3,33.3 23.5,32.7 23.1,33.6 22.4,32.5 21.8,32.1 21.3,32.4 20.7,32.7 20.2,32.4 19.6,32.4 18.9,33.1 18.5,32.2 18.0,32.1 16.9,33.2 17.0,31.5 16.4,31.5 15.7,31.5 14.7,32.0 14.8,30.8 14.0,30.9 14.6,29.3 14.6,28.5 13.5,29.0 13.5,28.2 12.4,28.4 12.0,28.0 12.0,27.3 12.0,26.7 11.3,26.4 11.8,25.6 11.2,25.3 10.2,25.0 10.1,24.5 11.3,23.6 10.3,23.2 11.1,22.6 10.8,22.1 9.3,21.6 9.7,21.0 9.9,20.4 9.5,19.8 10.3,19.4 9.7,18.6 9.5,18.0 10.3,17.6 10.5,17.1 10.7,16.5 10.7,15.9 12.1,16.0 12.4,15.5 12.4,14.9 12.7,14.4 13.3,14.2 13.9,14.0 14.0,13.5 14.2,12.9 14.7,12.6 14.7,11.6 15.1,11.1 16.3,12.1 16.0,10.4 16.3,9.6 17.2,10.0 17.6,9.4 18.6,10.9 19.3,11.3 19.5,9.6 20.0,8.5 20.6,9.1 21.2,8.7 21.9,8.6 22.5,8.7 23.0,9.4 23.7,9.0 24.1,10.0 24.6,10.3 25.3,10.2 26.1,9.6 26.3,10.6 26.0,12.5 26.9,12.0 27.7,11.7 27.8,12.5 28.9,12.0 29.4,12.4 28.9,13.7 29.8,13.6 29.4,14.7 30.9,14.2 30.9,14.9 31.1,15.4 32.0,15.6 32.5,16.0 31.8,17.0 32.6,17.3 32.8,17.8 32.3,18.5 33.2,18.9 33.8,19.4 34.2,20.0 32.9,20.7" fill="#282828" opacity="1" filter="url(#sb3)"/>
<g stroke="#404040" stroke-linecap="round" opacity="0.5" filter="url(#sb)"><line x1="27.9" y1="26.9" x2="29.3" y2="28.9" stroke-width="0.52"/><line x1="27.2" y1="27.6" x2="29.9" y2="29.8" stroke-width="0.54"/><line x1="14.8" y1="26.7" x2="13.1" y2="31.7" stroke-width="0.53"/><line x1="29.8" y1="22.8" x2="32.7" y2="20.5" stroke-width="0.97"/><line x1="18.0" y1="29.2" x2="18.9" y2="34.9" stroke-width="0.93"/><line x1="12.9" y1="21.0" x2="8.7" y2="19.5" stroke-width="0.57"/><line x1="22.3" y1="29.8" x2="25.5" y2="33.4" stroke-width="0.43"/><line x1="22.5" y1="12.8" x2="21.3" y2="8.7" stroke-width="0.71"/><line x1="28.6" y1="16.7" x2="29.4" y2="13.2" stroke-width="0.65"/><line x1="25.6" y1="28.7" x2="29.8" y2="29.5" stroke-width="0.85"/><line x1="24.4" y1="13.3" x2="24.7" y2="10.0" stroke-width="0.56"/><line x1="29.6" y1="18.9" x2="34.6" y2="18.7" stroke-width="0.52"/><line x1="25.4" y1="28.9" x2="29.6" y2="31.5" stroke-width="0.81"/><line x1="13.9" y1="25.4" x2="13.1" y2="28.0" stroke-width="0.93"/><line x1="17.6" y1="29.0" x2="14.1" y2="31.7" stroke-width="0.64"/><line x1="12.9" y1="21.3" x2="8.1" y2="19.6" stroke-width="0.71"/><line x1="13.2" y1="18.9" x2="9.7" y2="18.5" stroke-width="0.80"/><line x1="21.7" y1="29.8" x2="23.6" y2="34.5" stroke-width="0.55"/><line x1="29.7" y1="19.4" x2="31.6" y2="18.3" stroke-width="0.73"/><line x1="13.5" y1="24.5" x2="8.6" y2="24.9" stroke-width="0.70"/><line x1="29.9" y1="21.5" x2="35.2" y2="20.5" stroke-width="0.62"/><line x1="23.0" y1="29.7" x2="26.1" y2="31.5" stroke-width="0.49"/><line x1="17.4" y1="13.7" x2="16.1" y2="11.1" stroke-width="0.79"/><line x1="29.1" y1="25.0" x2="34.0" y2="24.8" stroke-width="0.87"/><line x1="27.9" y1="15.8" x2="29.7" y2="12.6" stroke-width="0.70"/><line x1="28.3" y1="16.3" x2="33.5" y2="14.7" stroke-width="0.64"/></g>
<circle cx="21.4" cy="21.3" r="9.5" fill="#242424" filter="url(#sb2)"/>
<rect x="4" y="40.8" width="8" height="1.5" fill="#fafafa"/>
<rect x="0.3" y="0.3" width="43.9" height="43.9" fill="none" stroke="#3a3a3a" stroke-width="0.7" opacity="0.5"/>
</g>
<g transform="translate(209,311)">
<rect width="44.5" height="44.5" fill="url(#g29)"/>
<rect width="44.5" height="44.5" fill="url(#ledge)"/>
<rect width="44.5" height="44.5" fill="url(#tedge)"/>
<rect width="44.5" height="44.5" filter="url(#tex2)"/>
<circle cx="21.2" cy="20.8" r="18.90" fill="url(#fr29)"/>
<polygon points="37.6,20.8 38.9,21.6 38.3,22.3 36.6,22.8 37.9,23.7 37.4,24.4 37.0,25.0 39.1,26.4 36.9,26.5 36.2,27.0 35.8,27.6 36.8,28.9 36.4,29.5 37.0,30.8 35.9,31.0 34.0,30.5 34.6,32.0 33.4,31.9 33.2,32.7 33.6,34.2 33.1,34.8 32.6,35.4 31.3,35.0 30.7,35.5 29.4,34.8 28.7,34.9 28.4,35.9 27.8,36.4 27.2,37.0 26.6,37.5 25.8,37.5 25.4,38.8 24.3,37.4 23.6,37.6 22.9,38.7 22.2,38.8 21.4,39.3 20.6,39.3 20.0,37.2 19.4,35.8 18.7,36.3 17.6,37.8 17.0,37.2 16.1,37.6 15.5,37.1 15.0,36.3 14.0,36.7 13.2,36.8 12.6,36.3 12.1,35.6 11.3,35.4 10.4,35.4 10.2,34.3 10.8,32.5 8.9,33.5 8.4,33.0 8.5,31.8 8.2,31.1 7.7,30.6 7.7,29.7 6.8,29.5 7.3,28.3 5.4,28.5 4.5,28.1 5.8,26.8 5.6,26.1 4.7,25.6 6.0,24.5 4.3,24.1 3.2,23.6 5.3,22.5 5.7,21.8 3.9,21.2 3.7,20.4 3.7,19.7 4.1,18.9 5.4,18.4 5.1,17.6 4.9,16.8 5.9,16.4 5.9,15.7 4.9,14.5 6.5,14.4 6.7,13.7 7.1,13.1 6.7,12.1 6.5,11.1 7.0,10.5 7.9,10.2 9.3,10.4 8.4,8.6 8.5,7.7 10.2,8.4 9.8,6.8 11.4,7.6 12.4,7.8 12.3,6.4 13.5,7.0 13.2,4.9 13.7,4.1 14.9,4.9 15.5,4.4 16.4,4.8 16.6,2.8 17.5,3.1 18.3,3.2 19.0,2.8 19.8,2.9 20.7,4.3 21.4,2.8 22.2,3.1 23.0,2.2 23.7,3.5 24.3,4.0 24.7,5.5 25.3,6.0 26.3,5.1 27.7,3.3 27.5,5.9 27.9,6.8 29.1,6.0 30.1,5.6 31.1,5.5 31.7,6.0 32.0,6.9 32.0,8.1 33.0,8.0 34.3,7.9 33.4,9.7 33.4,10.7 34.6,10.6 36.6,10.1 35.5,11.8 34.8,13.0 35.6,13.3 36.4,13.8 36.9,14.4 37.2,15.0 37.1,15.8 38.4,16.2 37.4,17.2 39.7,17.6 38.5,18.5 38.8,19.3 38.1,20.1" fill="#4c4c4c" opacity="0.45" filter="url(#sb3)"/>
<circle cx="21.2" cy="20.8" r="18.90" fill="#3a3a3a" filter="url(#mot2)" opacity="0.5"/>
<polygon points="36.2,20.8 36.3,21.5 35.8,22.1 34.4,22.5 35.8,23.4 36.5,24.2 36.0,24.7 36.7,25.7 35.7,26.1 34.2,26.1 33.8,26.6 34.9,27.9 33.2,27.7 33.0,28.2 32.9,28.9 34.0,30.6 32.9,30.5 33.0,31.5 31.6,31.1 31.3,31.7 31.3,32.7 31.0,33.4 29.8,32.9 29.6,33.7 28.5,33.3 27.5,32.7 26.8,32.7 26.3,32.8 26.2,34.2 25.6,34.3 25.2,35.1 24.4,34.7 23.9,35.4 23.5,36.7 22.6,34.7 21.9,33.7 21.3,33.8 20.8,33.7 20.1,34.8 19.4,35.6 18.7,36.3 18.0,36.0 17.4,35.7 16.6,36.2 16.5,34.3 16.1,33.5 15.7,33.1 14.7,33.7 13.9,33.9 12.8,34.4 12.9,33.0 11.7,33.6 12.2,31.9 10.9,32.4 11.2,31.1 9.4,32.0 10.0,30.5 9.1,30.4 10.0,29.0 9.9,28.3 8.3,28.6 7.6,28.2 8.0,27.3 9.4,25.9 8.4,25.8 7.2,25.5 7.6,24.7 6.8,24.3 7.2,23.6 8.5,22.7 7.8,22.3 5.9,21.8 6.6,21.1 5.8,20.5 7.6,19.9 7.9,19.4 7.5,18.7 8.5,18.3 6.4,17.2 5.7,16.3 7.3,16.1 6.3,15.0 7.0,14.6 6.7,13.7 7.3,13.2 8.7,13.2 9.4,13.0 10.7,13.2 9.9,11.8 10.9,11.8 10.2,10.4 10.6,9.9 11.5,9.9 11.6,9.0 12.2,8.7 12.8,8.4 13.7,8.6 13.7,7.4 14.5,7.4 14.6,6.2 15.8,7.4 16.2,6.5 17.0,7.0 18.0,8.4 18.2,6.4 18.8,6.2 19.4,6.0 20.0,5.5 20.7,6.3 21.4,5.9 22.0,5.2 22.8,4.8 23.4,5.5 23.9,6.2 24.7,5.7 25.2,6.3 25.7,6.9 26.7,5.9 27.5,5.9 28.2,6.1 28.0,7.9 28.5,8.3 29.2,8.5 30.2,8.1 29.8,9.8 30.3,10.1 30.8,10.5 32.3,9.8 32.7,10.4 32.0,11.9 32.1,12.5 32.6,12.9 33.6,13.0 33.4,13.8 33.5,14.5 35.2,14.3 35.2,15.0 34.3,16.1 35.4,16.4 33.8,17.5 35.7,17.6 35.6,18.3 34.7,19.0 34.9,19.6 36.0,20.2" fill="#303030" opacity="0.9" filter="url(#sb3)"/>
<g stroke="#4a4a4a" stroke-linecap="round" opacity="0.5" filter="url(#sb)"><line x1="10.5" y1="17.5" x2="7.5" y2="13.1" stroke-width="0.58"/><line x1="10.0" y1="20.1" x2="5.5" y2="20.6" stroke-width="0.97"/><line x1="30.1" y1="27.6" x2="35.5" y2="28.4" stroke-width="0.62"/><line x1="32.4" y1="20.7" x2="36.8" y2="21.7" stroke-width="0.65"/><line x1="19.8" y1="9.6" x2="16.1" y2="5.4" stroke-width="0.66"/><line x1="11.8" y1="26.9" x2="5.9" y2="30.0" stroke-width="0.53"/><line x1="16.0" y1="10.8" x2="14.2" y2="7.0" stroke-width="0.54"/><line x1="11.7" y1="26.8" x2="6.0" y2="30.1" stroke-width="0.84"/><line x1="21.7" y1="9.6" x2="23.4" y2="4.1" stroke-width="0.64"/><line x1="12.9" y1="13.2" x2="5.6" y2="12.3" stroke-width="0.95"/><line x1="13.6" y1="29.1" x2="13.8" y2="33.6" stroke-width="0.61"/><line x1="31.4" y1="25.5" x2="36.0" y2="26.8" stroke-width="0.79"/><line x1="10.2" y1="23.1" x2="2.8" y2="22.9" stroke-width="0.60"/><line x1="29.1" y1="12.8" x2="36.4" y2="12.4" stroke-width="0.83"/><line x1="32.2" y1="18.4" x2="35.4" y2="15.6" stroke-width="0.96"/><line x1="32.3" y1="22.3" x2="38.3" y2="27.7" stroke-width="0.50"/><line x1="27.8" y1="29.9" x2="27.5" y2="38.1" stroke-width="0.91"/><line x1="19.4" y1="9.7" x2="16.4" y2="3.8" stroke-width="0.42"/><line x1="13.4" y1="12.7" x2="12.5" y2="4.7" stroke-width="0.71"/><line x1="32.4" y1="21.4" x2="36.1" y2="21.1" stroke-width="0.55"/><line x1="32.3" y1="22.7" x2="36.0" y2="23.4" stroke-width="0.49"/><line x1="29.7" y1="28.1" x2="34.7" y2="27.0" stroke-width="0.86"/><line x1="28.7" y1="12.4" x2="32.1" y2="10.4" stroke-width="0.91"/><line x1="21.7" y1="32.0" x2="18.3" y2="36.2" stroke-width="0.85"/><line x1="13.1" y1="13.0" x2="8.8" y2="7.9" stroke-width="0.60"/><line x1="16.7" y1="10.5" x2="10.1" y2="6.9" stroke-width="0.60"/><line x1="18.1" y1="31.6" x2="18.4" y2="38.9" stroke-width="0.80"/><line x1="10.9" y1="25.3" x2="6.6" y2="27.1" stroke-width="0.92"/><line x1="15.1" y1="11.4" x2="9.9" y2="9.5" stroke-width="0.61"/><line x1="10.1" y1="22.8" x2="4.2" y2="18.8" stroke-width="0.60"/><line x1="31.7" y1="16.7" x2="38.1" y2="13.4" stroke-width="0.54"/><line x1="22.3" y1="32.0" x2="26.6" y2="38.5" stroke-width="0.78"/><line x1="14.7" y1="11.6" x2="9.6" y2="11.5" stroke-width="0.78"/><line x1="31.8" y1="24.5" x2="34.8" y2="30.4" stroke-width="0.68"/><line x1="16.9" y1="31.2" x2="17.3" y2="34.9" stroke-width="0.60"/><line x1="29.5" y1="28.4" x2="33.4" y2="33.3" stroke-width="0.82"/><line x1="30.0" y1="27.8" x2="30.4" y2="33.0" stroke-width="0.42"/><line x1="13.5" y1="29.0" x2="11.2" y2="35.7" stroke-width="0.54"/><line x1="13.9" y1="12.2" x2="10.2" y2="10.2" stroke-width="0.64"/><line x1="17.8" y1="31.5" x2="13.8" y2="36.3" stroke-width="0.85"/><line x1="32.4" y1="19.4" x2="35.1" y2="17.0" stroke-width="0.97"/><line x1="24.5" y1="10.1" x2="23.6" y2="3.3" stroke-width="0.49"/><line x1="19.4" y1="31.9" x2="15.6" y2="38.3" stroke-width="0.63"/><line x1="15.1" y1="11.4" x2="9.8" y2="7.4" stroke-width="0.48"/><line x1="25.4" y1="10.4" x2="30.6" y2="6.1" stroke-width="0.84"/><line x1="13.7" y1="29.2" x2="10.9" y2="34.5" stroke-width="0.93"/><line x1="29.2" y1="28.7" x2="34.7" y2="31.8" stroke-width="0.93"/></g>
<circle cx="21.2" cy="20.8" r="12.50" fill="#282828" filter="url(#sb4)"/>
<rect x="4" y="40.8" width="8" height="1.5" fill="#fafafa"/>
<rect x="0.3" y="0.3" width="43.9" height="43.9" fill="none" stroke="#3a3a3a" stroke-width="0.7" opacity="0.5"/>
</g>
<text transform="translate(16.20,333.75) rotate(-90)" text-anchor="middle" font-size="10.8" fill="#111" class="t">MM-0.4</text>
<text transform="translate(41.65,212.40) scale(1.065,1)" text-anchor="middle" font-size="10.8" fill="#111" class="t">Day 1</text>
<text transform="translate(88.95,212.40) scale(1.065,1)" text-anchor="middle" font-size="10.8" fill="#111" class="t">Day 2</text>
<text transform="translate(136.15,212.40) scale(1.065,1)" text-anchor="middle" font-size="10.8" fill="#111" class="t">Day 3</text>
<text transform="translate(183.45,212.40) scale(1.065,1)" text-anchor="middle" font-size="10.8" fill="#111" class="t">Day 5</text>
<text transform="translate(230.65,212.40) scale(1.065,1)" text-anchor="middle" font-size="10.8" fill="#111" class="t">Day 8</text>
<g transform="translate(20,396.5)">
<rect width="44.5" height="44.5" fill="url(#g30)"/>
<rect width="44.5" height="44.5" fill="url(#ledge)"/>
<rect width="44.5" height="44.5" fill="url(#tedge)"/>
<circle cx="22.2" cy="22.0" r="13.20" fill="none" stroke="#e8e8e8" stroke-width="0.9" opacity="0.55"/>
<circle cx="22.2" cy="22.0" r="12.5" fill="#232323" filter="url(#sb)"/>
<rect x="4" y="40.8" width="8" height="1.5" fill="#fafafa"/>
<rect x="0.3" y="0.3" width="43.9" height="43.9" fill="none" stroke="#3a3a3a" stroke-width="0.7" opacity="0.5"/>
</g>
<g transform="translate(67.3,396.5)">
<rect width="44.5" height="44.5" fill="url(#g31)"/>
<rect width="44.5" height="44.5" fill="url(#ledge)"/>
<rect width="44.5" height="44.5" fill="url(#tedge)"/>
<circle cx="21.4" cy="22.4" r="14.10" fill="none" stroke="#e8e8e8" stroke-width="0.9" opacity="0.55"/>
<circle cx="21.4" cy="22.4" r="13.4" fill="#232323" filter="url(#sb)"/>
<path d="M0.5,43 C3,41.5 5,40 10.8,39.6" fill="none" stroke="#222" stroke-width="0.9"/>
<rect x="4" y="40.8" width="8" height="1.5" fill="#fafafa"/>
<rect x="0.3" y="0.3" width="43.9" height="43.9" fill="none" stroke="#3a3a3a" stroke-width="0.7" opacity="0.5"/>
</g>
<g transform="translate(114.5,396.5)">
<rect width="44.5" height="44.5" fill="url(#g32)"/>
<rect width="44.5" height="44.5" fill="url(#ledge)"/>
<rect width="44.5" height="44.5" fill="url(#tedge)"/>
<circle cx="21.9" cy="21.9" r="16.00" fill="none" stroke="#e8e8e8" stroke-width="0.9" opacity="0.55"/>
<circle cx="21.9" cy="21.9" r="15.3" fill="#232323" filter="url(#sb)"/>
<path d="M0.5,43 C3,41.5 5,40 10.8,39.6" fill="none" stroke="#222" stroke-width="0.9"/>
<rect x="4" y="40.8" width="8" height="1.5" fill="#fafafa"/>
<rect x="0.3" y="0.3" width="43.9" height="43.9" fill="none" stroke="#3a3a3a" stroke-width="0.7" opacity="0.5"/>
</g>
<g transform="translate(161.8,396.5)">
<rect width="44.5" height="44.5" fill="url(#g33)"/>
<rect width="44.5" height="44.5" fill="url(#ledge)"/>
<rect width="44.5" height="44.5" fill="url(#tedge)"/>
<circle cx="21.2" cy="21.9" r="15.80" fill="none" stroke="#e8e8e8" stroke-width="0.9" opacity="0.55"/>
<g stroke="#444" stroke-linecap="round" opacity="0.55" filter="url(#sb)"><line x1="8.9" y1="16.1" x2="8.9" y2="12.9" stroke-width="0.66"/><line x1="13.3" y1="10.8" x2="15.5" y2="7.4" stroke-width="0.60"/><line x1="13.3" y1="10.8" x2="12.4" y2="9.5" stroke-width="1.10"/><line x1="7.8" y1="19.5" x2="7.7" y2="15.5" stroke-width="0.89"/><line x1="16.9" y1="34.8" x2="16.5" y2="36.0" stroke-width="0.51"/><line x1="10.6" y1="13.4" x2="8.8" y2="12.8" stroke-width="1.02"/><line x1="33.4" y1="16.0" x2="35.5" y2="16.8" stroke-width="0.56"/><line x1="34.0" y1="26.6" x2="36.5" y2="25.4" stroke-width="0.62"/><line x1="32.0" y1="13.7" x2="31.1" y2="10.1" stroke-width="0.69"/><line x1="21.8" y1="35.5" x2="26.2" y2="35.8" stroke-width="0.82"/><line x1="16.6" y1="34.7" x2="18.9" y2="36.7" stroke-width="0.55"/><line x1="34.5" y1="24.7" x2="35.8" y2="27.3" stroke-width="0.84"/><line x1="30.9" y1="31.4" x2="33.6" y2="29.5" stroke-width="0.68"/><line x1="33.9" y1="26.7" x2="35.7" y2="24.6" stroke-width="0.60"/><line x1="13.5" y1="10.7" x2="12.5" y2="9.7" stroke-width="0.71"/><line x1="8.0" y1="18.6" x2="5.9" y2="19.9" stroke-width="0.52"/><line x1="7.7" y1="23.5" x2="6.3" y2="21.2" stroke-width="0.55"/><line x1="30.7" y1="12.2" x2="31.5" y2="11.8" stroke-width="0.76"/><line x1="15.8" y1="34.4" x2="13.3" y2="35.3" stroke-width="0.58"/><line x1="7.6" y1="22.3" x2="6.7" y2="26.6" stroke-width="0.54"/><line x1="10.3" y1="13.8" x2="8.7" y2="13.0" stroke-width="0.75"/><line x1="7.6" y1="21.3" x2="7.0" y2="18.0" stroke-width="1.10"/><line x1="7.7" y1="23.4" x2="7.0" y2="24.4" stroke-width="0.99"/><line x1="15.0" y1="34.0" x2="17.2" y2="35.9" stroke-width="0.94"/><line x1="11.4" y1="12.5" x2="11.3" y2="10.9" stroke-width="0.97"/><line x1="34.5" y1="19.0" x2="36.2" y2="18.0" stroke-width="1.00"/><line x1="33.3" y1="15.8" x2="36.0" y2="17.0" stroke-width="0.86"/><line x1="7.6" y1="20.9" x2="5.8" y2="19.6" stroke-width="0.94"/><line x1="23.1" y1="35.4" x2="25.2" y2="35.9" stroke-width="0.85"/><line x1="9.0" y1="15.9" x2="7.1" y2="18.0" stroke-width="1.09"/><line x1="33.4" y1="27.8" x2="34.0" y2="30.9" stroke-width="0.85"/><line x1="34.8" y1="21.5" x2="35.7" y2="17.0" stroke-width="1.08"/><line x1="9.6" y1="28.9" x2="6.5" y2="27.3" stroke-width="0.57"/><line x1="34.4" y1="25.3" x2="34.4" y2="27.8" stroke-width="0.99"/><line x1="23.1" y1="35.4" x2="24.4" y2="36.1" stroke-width="0.99"/><line x1="20.4" y1="8.3" x2="24.6" y2="6.7" stroke-width="0.96"/><line x1="28.2" y1="10.2" x2="24.7" y2="7.9" stroke-width="1.03"/><line x1="11.2" y1="12.7" x2="8.3" y2="14.5" stroke-width="0.69"/><line x1="14.0" y1="33.4" x2="13.6" y2="34.9" stroke-width="0.61"/><line x1="33.0" y1="28.6" x2="35.3" y2="26.1" stroke-width="0.54"/><line x1="9.5" y1="28.9" x2="7.5" y2="27.0" stroke-width="0.83"/><line x1="8.0" y1="25.3" x2="7.2" y2="28.0" stroke-width="0.49"/><line x1="33.2" y1="28.3" x2="34.8" y2="27.8" stroke-width="0.64"/><line x1="16.5" y1="34.6" x2="20.3" y2="37.4" stroke-width="0.77"/><line x1="11.1" y1="31.0" x2="9.0" y2="30.3" stroke-width="0.62"/><line x1="34.3" y1="25.5" x2="33.6" y2="29.6" stroke-width="0.70"/><line x1="31.3" y1="31.0" x2="31.9" y2="33.4" stroke-width="1.09"/><line x1="14.6" y1="33.8" x2="17.6" y2="37.0" stroke-width="0.63"/><line x1="25.0" y1="8.8" x2="27.8" y2="8.3" stroke-width="0.73"/><line x1="30.9" y1="12.4" x2="32.3" y2="12.5" stroke-width="0.60"/><line x1="25.4" y1="34.8" x2="26.7" y2="36.5" stroke-width="1.00"/><line x1="18.3" y1="35.2" x2="14.4" y2="35.7" stroke-width="0.88"/><line x1="22.5" y1="35.4" x2="18.6" y2="37.0" stroke-width="0.99"/><line x1="8.4" y1="26.6" x2="8.8" y2="30.2" stroke-width="0.97"/><line x1="28.6" y1="33.3" x2="32.3" y2="31.5" stroke-width="0.58"/><line x1="11.1" y1="31.0" x2="12.2" y2="33.9" stroke-width="0.75"/><line x1="21.9" y1="8.3" x2="18.8" y2="7.6" stroke-width="0.81"/><line x1="32.4" y1="14.2" x2="34.4" y2="13.6" stroke-width="0.54"/><line x1="30.7" y1="12.2" x2="34.6" y2="13.6" stroke-width="0.82"/></g>
<circle cx="21.2" cy="21.9" r="15.1" fill="#232323" filter="url(#sb)"/>
<path d="M0.5,43 C3,41.5 5,40 10.8,39.6" fill="none" stroke="#222" stroke-width="0.9"/>
<rect x="4" y="40.8" width="8" height="1.5" fill="#fafafa"/>
<rect x="0.3" y="0.3" width="43.9" height="43.9" fill="none" stroke="#3a3a3a" stroke-width="0.7" opacity="0.5"/>
</g>
<g transform="translate(209,396.5)">
<rect width="44.5" height="44.5" fill="url(#g34)"/>
<rect width="44.5" height="44.5" fill="url(#ledge)"/>
<rect width="44.5" height="44.5" fill="url(#tedge)"/>
<rect width="44.5" height="44.5" filter="url(#tex1)"/>
<polygon points="39.6,23.3 38.7,23.9 39.3,24.6 39.0,25.3 38.9,25.9 38.8,26.5 38.7,27.2 39.6,28.1 39.2,28.7 39.3,29.5 38.6,30.0 38.6,30.7 37.5,30.9 37.1,31.5 37.2,32.3 36.3,32.5 36.1,33.2 36.5,34.4 35.6,34.5 34.6,34.5 34.1,34.9 33.9,35.6 33.7,36.4 32.8,36.3 32.4,36.9 31.9,37.4 31.2,37.5 30.9,38.3 30.4,38.9 29.7,38.9 29.0,38.9 28.4,39.3 27.7,39.4 27.0,39.3 26.5,40.2 25.9,40.2 25.2,40.1 24.4,39.4 23.8,39.9 23.1,39.5 22.5,40.1 21.9,39.5 21.2,40.3 20.5,40.1 19.8,40.3 19.2,40.0 18.4,40.3 17.6,40.5 17.1,39.9 16.5,39.5 16.1,38.7 15.5,38.5 14.5,38.9 13.8,38.8 13.6,37.8 13.3,37.1 12.5,37.1 12.5,36.0 11.6,36.1 10.9,35.8 10.1,35.7 9.9,35.0 9.5,34.4 8.8,34.1 8.3,33.6 8.4,32.7 8.3,32.0 7.8,31.5 7.2,31.1 7.6,30.2 6.7,29.8 6.3,29.3 5.9,28.7 5.7,28.0 6.0,27.3 6.2,26.5 6.0,25.9 6.1,25.2 5.9,24.6 5.5,24.0 5.4,23.3 5.2,22.6 5.1,21.9 5.2,21.3 5.3,20.6 5.7,20.0 6.1,19.4 5.9,18.6 6.5,18.1 6.5,17.4 6.9,16.8 6.4,15.9 6.7,15.2 6.9,14.6 7.8,14.3 8.9,14.2 9.2,13.6 9.4,13.0 9.4,12.1 9.5,11.2 10.0,10.8 10.5,10.3 10.9,9.8 11.5,9.3 12.3,9.2 12.6,8.5 13.6,8.8 14.1,8.3 14.6,7.8 15.6,8.3 16.1,7.8 16.7,7.7 17.3,7.3 17.9,7.0 18.6,7.0 19.1,6.4 19.9,6.6 20.5,6.1 21.2,6.3 21.9,7.1 22.5,6.5 23.2,5.5 23.9,5.9 24.5,6.5 25.2,6.5 26.0,5.8 26.5,6.4 27.0,7.5 27.7,7.3 28.5,6.9 29.3,6.9 29.8,7.4 30.5,7.6 30.9,8.3 31.7,8.2 32.3,8.6 32.3,9.9 32.6,10.5 33.3,10.6 33.9,10.9 34.3,11.5 35.0,11.7 35.7,12.0 35.8,12.8 36.5,13.1 37.3,13.4 37.5,14.1 36.9,15.2 37.9,15.4 38.2,16.0 38.2,16.8 38.0,17.6 38.3,18.2 38.9,18.7 39.5,19.2 39.4,19.9 39.7,20.6 39.0,21.3 39.4,22.0 39.5,22.6" fill="#4a4a4a" opacity="0.5" filter="url(#sb3)"/>
<polygon points="39.1,23.3 38.5,23.9 38.3,24.5 38.1,25.2 38.5,25.8 38.1,26.4 38.5,27.1 37.8,27.6 37.9,28.3 37.1,28.7 37.2,29.4 36.7,29.8 37.1,30.7 36.4,31.1 36.1,31.7 35.7,32.2 35.5,32.8 34.5,32.8 34.8,33.8 34.7,34.6 34.5,35.3 34.0,35.8 32.9,35.5 32.1,35.4 31.9,36.2 31.1,36.2 31.1,37.4 30.7,38.0 29.7,37.4 29.2,37.8 28.7,38.3 28.4,39.3 27.6,38.9 27.1,39.6 26.3,39.0 25.8,39.7 25.0,39.1 24.4,39.4 23.8,39.7 23.1,38.9 22.5,39.0 21.8,40.0 21.2,39.7 20.5,40.1 19.9,39.8 19.3,39.5 18.7,38.9 17.9,39.6 17.4,38.9 17.0,38.3 16.6,37.6 16.1,37.3 15.0,38.0 14.2,38.2 13.9,37.4 13.2,37.3 12.9,36.5 12.4,36.2 12.0,35.6 11.0,35.8 11.0,34.8 11.1,33.9 10.6,33.4 10.0,33.2 10.0,32.4 9.8,31.8 9.1,31.5 8.7,31.0 8.3,30.5 7.1,30.4 7.5,29.5 6.7,29.1 7.3,28.2 7.5,27.5 6.9,27.0 6.7,26.4 6.8,25.8 7.3,25.1 6.5,24.6 6.8,23.9 6.3,23.3 6.5,22.7 6.9,22.1 6.4,21.4 6.4,20.7 6.2,20.0 6.8,19.5 7.2,19.0 7.2,18.3 6.6,17.4 7.3,17.0 7.2,16.3 7.8,15.8 8.2,15.3 8.5,14.7 9.1,14.3 9.8,14.1 10.4,13.7 10.5,13.1 10.4,12.1 11.2,12.0 11.9,11.8 11.8,10.8 12.0,9.9 13.1,10.3 13.4,9.7 14.2,9.7 14.5,9.0 15.1,8.9 15.7,8.5 16.1,7.8 16.6,7.4 17.5,7.9 18.3,8.5 18.8,7.9 19.2,6.9 20.0,7.5 20.6,7.5 21.2,7.0 21.8,6.6 22.5,6.7 23.1,7.6 23.8,7.4 24.3,7.8 25.0,7.5 25.7,7.0 26.3,7.7 26.8,7.9 27.6,7.7 28.2,7.9 28.6,8.5 29.6,7.9 29.8,8.9 30.5,9.1 31.2,9.1 31.4,9.9 32.2,10.0 32.5,10.6 33.2,10.8 33.4,11.5 34.0,11.8 34.4,12.3 34.4,13.1 35.0,13.5 35.2,14.1 35.2,14.8 36.4,14.8 36.6,15.4 36.9,16.0 37.5,16.4 37.8,17.0 37.4,17.8 38.4,18.1 38.8,18.7 38.6,19.4 38.6,20.1 38.2,20.8 38.3,21.4 39.0,22.0 38.9,22.7" fill="#282828" opacity="1" filter="url(#sb3)"/>
<g stroke="#404040" stroke-linecap="round" opacity="0.5" filter="url(#sb)"><line x1="9.2" y1="20.9" x2="7.7" y2="17.3" stroke-width="0.92"/><line x1="32.5" y1="14.2" x2="36.3" y2="16.3" stroke-width="0.66"/><line x1="17.8" y1="36.0" x2="17.2" y2="37.3" stroke-width="0.51"/><line x1="20.5" y1="36.6" x2="17.5" y2="38.5" stroke-width="0.84"/><line x1="34.1" y1="30.3" x2="36.2" y2="29.0" stroke-width="0.73"/><line x1="29.7" y1="11.8" x2="34.5" y2="12.1" stroke-width="0.75"/><line x1="13.7" y1="13.1" x2="11.2" y2="12.9" stroke-width="0.54"/><line x1="9.3" y1="20.3" x2="7.1" y2="19.1" stroke-width="0.64"/><line x1="10.5" y1="29.5" x2="7.9" y2="27.6" stroke-width="0.75"/><line x1="22.4" y1="9.8" x2="20.2" y2="7.0" stroke-width="0.49"/><line x1="19.7" y1="36.5" x2="16.3" y2="38.7" stroke-width="0.65"/><line x1="24.7" y1="10.0" x2="28.3" y2="9.0" stroke-width="0.47"/><line x1="21.7" y1="9.8" x2="20.7" y2="6.6" stroke-width="0.68"/><line x1="31.7" y1="33.2" x2="34.6" y2="32.7" stroke-width="0.59"/><line x1="34.8" y1="28.9" x2="37.6" y2="26.2" stroke-width="0.71"/><line x1="11.3" y1="30.8" x2="8.1" y2="28.1" stroke-width="0.59"/><line x1="9.3" y1="20.6" x2="6.9" y2="17.6" stroke-width="0.96"/><line x1="12.1" y1="14.7" x2="7.4" y2="16.5" stroke-width="0.83"/><line x1="15.5" y1="34.9" x2="12.5" y2="35.1" stroke-width="0.84"/><line x1="15.1" y1="34.6" x2="15.8" y2="37.3" stroke-width="0.94"/></g>
<circle cx="22.5" cy="23.3" r="15" fill="#242424" filter="url(#sb2)"/>
<rect x="4" y="40.8" width="8" height="1.5" fill="#fafafa"/>
<rect x="0.3" y="0.3" width="43.9" height="43.9" fill="none" stroke="#3a3a3a" stroke-width="0.7" opacity="0.5"/>
</g>
<text transform="translate(16.20,419.25) rotate(-90)" text-anchor="middle" font-size="10.8" fill="#111" class="t">MM-1</text>
<g transform="translate(20,443.8)">
<rect width="44.5" height="44.5" fill="url(#g35)"/>
<rect width="44.5" height="44.5" fill="url(#ledge)"/>
<rect width="44.5" height="44.5" fill="url(#tedge)"/>
<circle cx="21.5" cy="21.3" r="7.50" fill="none" stroke="#e8e8e8" stroke-width="0.9" opacity="0.55"/>
<circle cx="21.5" cy="21.3" r="6.8" fill="#232323" filter="url(#sb)"/>
<circle cx="21.5" cy="21.3" r="5.80" fill="none" stroke="#444" stroke-width="1.2" opacity="0.7" filter="url(#sb)"/>
<rect x="4" y="40.8" width="8" height="1.5" fill="#fafafa"/>
<rect x="0.3" y="0.3" width="43.9" height="43.9" fill="none" stroke="#3a3a3a" stroke-width="0.7" opacity="0.5"/>
</g>
<g transform="translate(67.3,443.8)">
<rect width="44.5" height="44.5" fill="url(#g36)"/>
<rect width="44.5" height="44.5" fill="url(#ledge)"/>
<rect width="44.5" height="44.5" fill="url(#tedge)"/>
<circle cx="21.3" cy="22.1" r="8.50" fill="none" stroke="#e8e8e8" stroke-width="0.9" opacity="0.55"/>
<circle cx="21.3" cy="22.1" r="7.8" fill="#232323" filter="url(#sb)"/>
<circle cx="21.3" cy="22.1" r="6.80" fill="none" stroke="#444" stroke-width="1.2" opacity="0.7" filter="url(#sb)"/>
<rect x="4" y="40.8" width="8" height="1.5" fill="#fafafa"/>
<rect x="0.3" y="0.3" width="43.9" height="43.9" fill="none" stroke="#3a3a3a" stroke-width="0.7" opacity="0.5"/>
</g>
<g transform="translate(114.5,443.8)">
<rect width="44.5" height="44.5" fill="url(#g37)"/>
<rect width="44.5" height="44.5" fill="url(#ledge)"/>
<rect width="44.5" height="44.5" fill="url(#tedge)"/>
<circle cx="21.3" cy="21.2" r="11.00" fill="none" stroke="#e8e8e8" stroke-width="0.9" opacity="0.55"/>
<circle cx="21.3" cy="21.2" r="10.3" fill="#232323" filter="url(#sb)"/>
<circle cx="21.3" cy="21.2" r="9.30" fill="none" stroke="#444" stroke-width="1.2" opacity="0.7" filter="url(#sb)"/>
<rect x="4" y="40.8" width="8" height="1.5" fill="#fafafa"/>
<rect x="0.3" y="0.3" width="43.9" height="43.9" fill="none" stroke="#3a3a3a" stroke-width="0.7" opacity="0.5"/>
</g>
<g transform="translate(161.8,443.8)">
<rect width="44.5" height="44.5" fill="url(#g38)"/>
<rect width="44.5" height="44.5" fill="url(#ledge)"/>
<rect width="44.5" height="44.5" fill="url(#tedge)"/>
<circle cx="22.5" cy="21.2" r="11.70" fill="none" stroke="#e8e8e8" stroke-width="0.9" opacity="0.55"/>
<g stroke="#444" stroke-linecap="round" opacity="0.55" filter="url(#sb)"><line x1="16.2" y1="13.6" x2="16.5" y2="11.6" stroke-width="0.52"/><line x1="19.3" y1="11.8" x2="19.6" y2="10.4" stroke-width="0.59"/><line x1="17.0" y1="29.4" x2="17.3" y2="31.0" stroke-width="0.95"/><line x1="12.7" y1="22.9" x2="10.6" y2="22.6" stroke-width="0.62"/><line x1="15.0" y1="14.8" x2="12.4" y2="15.8" stroke-width="0.82"/><line x1="32.4" y1="21.9" x2="33.7" y2="22.3" stroke-width="0.92"/><line x1="32.1" y1="18.7" x2="32.4" y2="15.3" stroke-width="0.78"/><line x1="22.5" y1="31.1" x2="19.7" y2="32.6" stroke-width="0.54"/><line x1="23.8" y1="11.4" x2="21.9" y2="10.1" stroke-width="0.77"/><line x1="13.9" y1="26.0" x2="13.7" y2="27.9" stroke-width="0.76"/><line x1="18.8" y1="12.0" x2="17.7" y2="11.4" stroke-width="0.63"/><line x1="21.2" y1="11.4" x2="22.6" y2="10.2" stroke-width="0.50"/><line x1="28.6" y1="13.4" x2="31.5" y2="14.4" stroke-width="0.99"/><line x1="27.9" y1="12.9" x2="29.7" y2="13.2" stroke-width="0.82"/><line x1="30.0" y1="14.7" x2="30.4" y2="12.9" stroke-width="1.06"/><line x1="32.4" y1="20.9" x2="33.2" y2="18.5" stroke-width="0.76"/><line x1="17.1" y1="12.9" x2="17.0" y2="11.8" stroke-width="0.83"/><line x1="25.5" y1="11.8" x2="23.5" y2="10.3" stroke-width="0.81"/><line x1="22.6" y1="11.3" x2="24.3" y2="9.8" stroke-width="0.65"/><line x1="32.2" y1="23.2" x2="33.6" y2="24.6" stroke-width="0.50"/><line x1="31.0" y1="26.3" x2="31.8" y2="28.2" stroke-width="0.61"/><line x1="21.8" y1="31.1" x2="24.9" y2="32.2" stroke-width="0.67"/><line x1="23.1" y1="31.1" x2="23.0" y2="32.0" stroke-width="1.08"/><line x1="31.2" y1="25.8" x2="32.4" y2="27.4" stroke-width="0.66"/><line x1="16.4" y1="13.4" x2="14.0" y2="13.1" stroke-width="0.74"/><line x1="15.6" y1="14.1" x2="13.2" y2="14.7" stroke-width="0.74"/><line x1="20.1" y1="11.6" x2="18.5" y2="10.4" stroke-width="0.66"/><line x1="27.3" y1="29.8" x2="26.4" y2="32.1" stroke-width="0.64"/><line x1="15.3" y1="14.4" x2="13.4" y2="15.4" stroke-width="0.86"/><line x1="15.9" y1="28.5" x2="17.4" y2="31.3" stroke-width="0.80"/><line x1="12.7" y1="22.8" x2="11.5" y2="22.2" stroke-width="0.62"/><line x1="16.5" y1="29.1" x2="14.2" y2="28.2" stroke-width="0.84"/><line x1="30.6" y1="15.5" x2="32.6" y2="16.3" stroke-width="0.91"/><line x1="32.0" y1="24.0" x2="33.9" y2="24.6" stroke-width="0.69"/><line x1="15.6" y1="28.3" x2="13.7" y2="27.9" stroke-width="0.76"/><line x1="13.9" y1="26.1" x2="12.1" y2="25.7" stroke-width="0.85"/><line x1="23.4" y1="31.1" x2="20.4" y2="32.5" stroke-width="0.71"/><line x1="28.6" y1="13.4" x2="29.6" y2="11.7" stroke-width="1.10"/><line x1="22.5" y1="31.1" x2="23.1" y2="32.2" stroke-width="0.55"/><line x1="31.3" y1="25.8" x2="32.5" y2="26.3" stroke-width="0.86"/><line x1="29.6" y1="14.3" x2="30.9" y2="13.3" stroke-width="0.48"/><line x1="32.4" y1="21.5" x2="33.8" y2="19.9" stroke-width="1.12"/><line x1="27.1" y1="12.4" x2="24.7" y2="10.5" stroke-width="1.01"/><line x1="32.2" y1="19.3" x2="33.1" y2="16.1" stroke-width="1.06"/><line x1="18.7" y1="12.1" x2="19.0" y2="9.8" stroke-width="0.92"/><line x1="30.3" y1="15.2" x2="29.9" y2="12.7" stroke-width="0.59"/><line x1="15.6" y1="28.3" x2="12.7" y2="27.8" stroke-width="0.75"/><line x1="24.9" y1="30.8" x2="26.4" y2="31.3" stroke-width="1.03"/><line x1="31.8" y1="24.7" x2="31.8" y2="28.1" stroke-width="0.82"/><line x1="20.4" y1="11.5" x2="20.0" y2="10.7" stroke-width="0.93"/></g>
<circle cx="22.5" cy="21.2" r="11" fill="#232323" filter="url(#sb)"/>
<rect x="4" y="40.8" width="8" height="1.5" fill="#fafafa"/>
<rect x="0.3" y="0.3" width="43.9" height="43.9" fill="none" stroke="#3a3a3a" stroke-width="0.7" opacity="0.5"/>
</g>
<g transform="translate(209,443.8)">
<rect width="44.5" height="44.5" fill="url(#g39)"/>
<rect width="44.5" height="44.5" fill="url(#ledge)"/>
<rect width="44.5" height="44.5" fill="url(#tedge)"/>
<rect width="44.5" height="44.5" filter="url(#tex0)"/>
<circle cx="21.9" cy="21.2" r="13.70" fill="none" stroke="#e8e8e8" stroke-width="0.9" opacity="0.55"/>
<g stroke="#444" stroke-linecap="round" opacity="0.55" filter="url(#sb)"><line x1="24.8" y1="32.5" x2="27.6" y2="33.4" stroke-width="0.73"/><line x1="11.1" y1="16.7" x2="8.4" y2="17.8" stroke-width="0.71"/><line x1="27.0" y1="31.7" x2="29.6" y2="33.2" stroke-width="1.04"/><line x1="32.4" y1="26.4" x2="33.6" y2="26.4" stroke-width="0.75"/><line x1="22.1" y1="9.5" x2="22.2" y2="6.9" stroke-width="0.67"/><line x1="19.4" y1="9.8" x2="17.1" y2="8.5" stroke-width="0.69"/><line x1="33.6" y1="21.2" x2="35.4" y2="17.5" stroke-width="0.60"/><line x1="13.4" y1="13.2" x2="12.5" y2="11.0" stroke-width="0.89"/><line x1="25.6" y1="10.1" x2="30.1" y2="9.3" stroke-width="0.73"/><line x1="15.0" y1="30.6" x2="14.6" y2="32.0" stroke-width="0.59"/><line x1="32.6" y1="16.5" x2="33.8" y2="13.5" stroke-width="0.92"/><line x1="18.2" y1="10.1" x2="20.1" y2="8.4" stroke-width="0.95"/><line x1="10.4" y1="23.2" x2="8.7" y2="27.1" stroke-width="0.50"/><line x1="19.9" y1="9.7" x2="15.6" y2="8.7" stroke-width="0.87"/><line x1="12.0" y1="14.9" x2="9.2" y2="16.6" stroke-width="1.00"/><line x1="31.0" y1="13.9" x2="31.0" y2="10.9" stroke-width="0.83"/><line x1="14.8" y1="11.9" x2="15.7" y2="9.0" stroke-width="0.63"/><line x1="30.6" y1="13.4" x2="30.0" y2="9.7" stroke-width="0.54"/><line x1="24.0" y1="9.7" x2="27.3" y2="9.0" stroke-width="1.08"/><line x1="19.6" y1="32.7" x2="21.5" y2="35.3" stroke-width="0.80"/><line x1="26.2" y1="32.1" x2="29.9" y2="33.0" stroke-width="1.07"/><line x1="14.3" y1="30.1" x2="16.4" y2="33.3" stroke-width="0.62"/><line x1="32.7" y1="25.7" x2="32.1" y2="29.5" stroke-width="0.90"/><line x1="30.6" y1="29.0" x2="31.8" y2="29.6" stroke-width="1.04"/><line x1="10.7" y1="24.6" x2="8.7" y2="23.8" stroke-width="0.56"/><line x1="26.6" y1="31.9" x2="24.8" y2="34.6" stroke-width="0.78"/><line x1="19.0" y1="32.5" x2="16.2" y2="33.7" stroke-width="0.61"/><line x1="28.8" y1="30.6" x2="31.0" y2="31.4" stroke-width="0.57"/><line x1="24.7" y1="32.6" x2="27.7" y2="34.3" stroke-width="0.70"/><line x1="32.9" y1="17.3" x2="35.3" y2="20.2" stroke-width="1.02"/><line x1="10.3" y1="22.7" x2="9.5" y2="26.8" stroke-width="0.73"/><line x1="10.3" y1="19.4" x2="7.4" y2="22.7" stroke-width="1.01"/><line x1="33.2" y1="18.1" x2="35.8" y2="17.6" stroke-width="0.92"/><line x1="14.8" y1="30.5" x2="14.6" y2="31.8" stroke-width="0.96"/><line x1="31.9" y1="27.4" x2="35.0" y2="25.1" stroke-width="0.57"/><line x1="28.2" y1="11.4" x2="29.7" y2="11.0" stroke-width="0.65"/><line x1="19.6" y1="32.7" x2="19.6" y2="35.5" stroke-width="0.84"/><line x1="31.1" y1="14.0" x2="30.7" y2="10.4" stroke-width="0.69"/><line x1="27.3" y1="10.8" x2="25.2" y2="8.3" stroke-width="0.67"/><line x1="19.6" y1="32.7" x2="22.1" y2="34.8" stroke-width="1.02"/><line x1="33.5" y1="19.8" x2="35.0" y2="19.9" stroke-width="0.63"/><line x1="14.4" y1="12.2" x2="10.8" y2="13.9" stroke-width="0.49"/><line x1="33.5" y1="22.6" x2="34.8" y2="24.5" stroke-width="0.79"/><line x1="13.8" y1="29.7" x2="11.0" y2="28.5" stroke-width="1.08"/><line x1="29.5" y1="30.1" x2="30.9" y2="31.1" stroke-width="0.70"/><line x1="32.3" y1="26.6" x2="34.2" y2="28.2" stroke-width="0.49"/><line x1="33.6" y1="22.0" x2="35.9" y2="21.6" stroke-width="0.72"/><line x1="28.7" y1="11.7" x2="32.0" y2="13.2" stroke-width="1.06"/><line x1="10.2" y1="22.0" x2="8.9" y2="25.0" stroke-width="0.90"/><line x1="11.0" y1="17.0" x2="9.9" y2="15.2" stroke-width="0.54"/><line x1="13.8" y1="29.7" x2="14.0" y2="33.4" stroke-width="1.11"/><line x1="14.8" y1="30.5" x2="11.1" y2="30.4" stroke-width="0.56"/><line x1="32.1" y1="15.4" x2="32.3" y2="13.3" stroke-width="0.78"/><line x1="10.4" y1="23.5" x2="8.6" y2="27.0" stroke-width="0.87"/><line x1="31.9" y1="27.2" x2="34.0" y2="25.7" stroke-width="0.89"/><line x1="15.7" y1="31.1" x2="14.4" y2="33.5" stroke-width="1.01"/><line x1="30.6" y1="29.0" x2="30.4" y2="31.6" stroke-width="1.12"/><line x1="31.4" y1="28.0" x2="31.9" y2="30.6" stroke-width="1.02"/></g>
<circle cx="21.9" cy="21.2" r="13" fill="#232323" filter="url(#sb)"/>
<rect x="4" y="40.8" width="8" height="1.5" fill="#fafafa"/>
<rect x="0.3" y="0.3" width="43.9" height="43.9" fill="none" stroke="#3a3a3a" stroke-width="0.7" opacity="0.5"/>
</g>
<text transform="translate(16.20,466.55) rotate(-90)" text-anchor="middle" font-size="10.8" fill="#111" class="t">MM-0.5</text>
<g transform="translate(20,491.6)">
<rect width="44.5" height="44.5" fill="url(#g40)"/>
<rect width="44.5" height="44.5" fill="url(#ledge)"/>
<rect width="44.5" height="44.5" fill="url(#tedge)"/>
<circle cx="21.5" cy="22.7" r="6.50" fill="none" stroke="#e8e8e8" stroke-width="0.9" opacity="0.55"/>
<circle cx="21.5" cy="22.7" r="5.8" fill="#232323" filter="url(#sb)"/>
<rect x="4" y="40.8" width="8" height="1.5" fill="#fafafa"/>
<rect x="0.3" y="0.3" width="43.9" height="43.9" fill="none" stroke="#3a3a3a" stroke-width="0.7" opacity="0.5"/>
</g>
<g transform="translate(67.3,491.6)">
<rect width="44.5" height="44.5" fill="url(#g41)"/>
<rect width="44.5" height="44.5" fill="url(#ledge)"/>
<rect width="44.5" height="44.5" fill="url(#tedge)"/>
<circle cx="21.3" cy="21.7" r="7.90" fill="none" stroke="#e8e8e8" stroke-width="0.9" opacity="0.55"/>
<circle cx="21.3" cy="21.7" r="7.2" fill="#232323" filter="url(#sb)"/>
<rect x="4" y="40.8" width="8" height="1.5" fill="#fafafa"/>
<rect x="0.3" y="0.3" width="43.9" height="43.9" fill="none" stroke="#3a3a3a" stroke-width="0.7" opacity="0.5"/>
</g>
<g transform="translate(114.5,491.6)">
<rect width="44.5" height="44.5" fill="url(#g42)"/>
<rect width="44.5" height="44.5" fill="url(#ledge)"/>
<rect width="44.5" height="44.5" fill="url(#tedge)"/>
<polygon points="31.6,21.3 32.7,21.9 32.0,22.4 32.0,23.0 31.9,23.6 32.0,24.2 31.5,24.7 30.9,25.1 31.6,26.0 31.4,26.5 31.2,27.1 30.9,27.7 30.5,28.2 29.9,28.4 29.0,28.4 29.1,29.3 29.0,30.1 28.4,30.4 27.8,30.5 26.7,29.9 26.2,30.2 25.6,30.2 25.8,31.9 25.4,32.6 24.5,31.9 23.6,30.9 23.3,31.8 22.6,31.3 22.2,32.0 21.6,31.2 21.0,32.5 20.3,33.4 19.8,32.8 19.3,31.8 18.7,31.9 18.5,30.5 17.6,31.6 16.9,31.7 16.4,31.4 16.0,30.8 15.7,30.3 15.7,29.3 14.2,30.3 13.3,30.4 13.6,29.3 13.2,28.8 12.6,28.5 12.4,27.9 11.5,27.8 10.9,27.4 11.0,26.6 11.4,25.8 10.8,25.4 11.5,24.5 11.6,24.0 11.7,23.4 10.0,23.1 9.8,22.5 10.0,21.9 10.2,21.3 10.7,20.7 10.7,20.2 10.6,19.6 9.7,18.8 10.1,18.2 10.9,17.9 11.5,17.5 11.5,16.8 11.7,16.3 11.9,15.8 12.7,15.6 12.4,14.7 12.8,14.2 12.5,13.2 13.7,13.5 14.4,13.4 14.4,12.5 15.1,12.5 15.5,12.0 15.8,11.3 16.8,12.0 17.3,11.8 17.6,10.9 18.1,10.6 18.6,10.2 19.3,10.8 19.8,10.0 20.4,9.5 21.0,10.0 21.6,10.1 22.2,10.5 22.6,11.6 23.3,10.6 24.1,10.0 24.6,10.4 24.7,11.9 25.4,11.5 25.5,12.6 26.3,12.3 27.1,12.0 27.4,12.6 27.7,13.1 28.3,13.3 28.1,14.3 29.6,13.7 30.3,13.9 30.3,14.6 30.4,15.2 30.9,15.6 31.0,16.3 31.9,16.5 32.1,17.1 32.5,17.6 32.3,18.3 31.3,19.1 31.2,19.7 31.7,20.2 31.6,20.7" fill="#4a4a4a" opacity="0.5" filter="url(#sb3)"/>
<polygon points="31.8,21.3 31.4,21.8 30.8,22.3 31.0,22.9 30.8,23.4 31.9,24.2 31.6,24.7 31.5,25.3 30.4,25.4 28.7,25.2 28.9,25.8 29.5,26.8 28.9,27.0 28.6,27.3 28.2,27.7 28.7,28.9 27.4,28.3 26.6,28.1 26.7,28.9 26.3,29.4 26.1,29.9 25.4,29.8 25.0,30.0 25.0,31.5 24.2,30.8 23.5,30.3 23.1,30.9 22.5,30.5 22.0,30.4 21.5,29.7 21.1,30.6 20.5,31.4 20.0,31.0 19.7,29.8 19.0,30.8 18.5,30.6 18.0,30.5 17.5,30.3 17.1,30.0 16.1,30.7 16.3,29.3 15.8,29.2 15.4,28.8 15.5,27.9 14.8,27.9 13.5,28.5 13.2,28.0 12.9,27.5 12.9,26.9 13.4,26.0 13.3,25.5 13.2,25.0 12.2,24.8 13.3,23.9 12.7,23.6 11.2,23.5 11.5,22.9 12.9,22.2 12.7,21.8 12.0,21.3 12.5,20.8 12.0,20.3 11.9,19.8 11.9,19.3 12.5,18.9 11.8,18.1 12.8,18.0 13.4,17.7 13.0,17.0 12.7,16.2 13.4,16.0 12.9,15.1 14.1,15.3 13.9,14.4 14.0,13.8 14.2,13.1 15.1,13.4 15.7,13.3 16.3,13.4 16.0,11.8 16.5,11.5 17.1,11.3 18.1,12.3 18.5,12.2 19.1,12.4 19.6,12.4 19.9,10.9 20.4,10.4 21.1,12.1 21.5,12.5 22.1,11.8 22.7,10.8 23.2,11.2 23.7,11.4 24.1,11.9 24.2,13.3 24.9,12.9 25.7,12.2 26.2,12.5 26.3,13.3 26.3,14.2 26.7,14.4 27.3,14.4 27.3,15.2 28.5,14.6 29.0,15.0 28.6,15.8 28.9,16.3 28.9,16.8 29.2,17.2 30.0,17.4 30.2,17.8 30.3,18.3 31.3,18.6 30.8,19.3 30.9,19.8 30.8,20.3 32.1,20.7" fill="#282828" opacity="1" filter="url(#sb3)"/>
<g stroke="#404040" stroke-linecap="round" opacity="0.5" filter="url(#sb)"><line x1="16.7" y1="15.8" x2="14.7" y2="15.2" stroke-width="0.54"/><line x1="20.7" y1="14.1" x2="22.9" y2="10.5" stroke-width="0.47"/><line x1="14.9" y1="24.7" x2="14.2" y2="26.8" stroke-width="0.70"/><line x1="28.4" y1="22.5" x2="30.5" y2="23.7" stroke-width="0.73"/><line x1="22.6" y1="28.4" x2="21.3" y2="31.9" stroke-width="0.42"/><line x1="23.8" y1="14.5" x2="24.1" y2="10.7" stroke-width="0.51"/><line x1="28.2" y1="19.4" x2="29.9" y2="16.4" stroke-width="0.47"/><line x1="25.4" y1="15.4" x2="28.9" y2="13.8" stroke-width="0.83"/><line x1="14.3" y1="19.7" x2="9.7" y2="19.5" stroke-width="0.73"/><line x1="24.7" y1="15.0" x2="28.3" y2="13.2" stroke-width="0.74"/><line x1="19.3" y1="14.4" x2="17.4" y2="13.1" stroke-width="0.58"/><line x1="27.6" y1="24.8" x2="30.6" y2="23.8" stroke-width="0.58"/><line x1="16.6" y1="15.9" x2="14.2" y2="14.3" stroke-width="0.54"/><line x1="20.5" y1="28.5" x2="19.0" y2="32.7" stroke-width="0.76"/><line x1="24.7" y1="27.6" x2="28.4" y2="29.8" stroke-width="0.63"/><line x1="28.5" y1="20.8" x2="32.1" y2="21.0" stroke-width="0.80"/><line x1="25.3" y1="15.3" x2="25.9" y2="11.1" stroke-width="0.44"/><line x1="18.4" y1="27.9" x2="19.0" y2="30.7" stroke-width="0.95"/><line x1="26.4" y1="16.3" x2="28.9" y2="15.1" stroke-width="0.64"/><line x1="27.5" y1="17.6" x2="29.3" y2="14.9" stroke-width="0.56"/><line x1="14.6" y1="18.6" x2="12.5" y2="17.2" stroke-width="0.92"/><line x1="15.5" y1="25.6" x2="12.3" y2="24.4" stroke-width="0.71"/><line x1="27.4" y1="25.2" x2="29.9" y2="24.3" stroke-width="0.77"/><line x1="23.2" y1="14.4" x2="21.3" y2="11.1" stroke-width="0.63"/></g>
<circle cx="21.3" cy="21.3" r="8" fill="#242424" filter="url(#sb2)"/>
<rect x="4" y="40.8" width="8" height="1.5" fill="#fafafa"/>
<rect x="0.3" y="0.3" width="43.9" height="43.9" fill="none" stroke="#3a3a3a" stroke-width="0.7" opacity="0.5"/>
</g>
<g transform="translate(161.8,491.6)">
<rect width="44.5" height="44.5" fill="url(#g43)"/>
<rect width="44.5" height="44.5" fill="url(#ledge)"/>
<rect width="44.5" height="44.5" fill="url(#tedge)"/>
<polygon points="34.6,21.3 33.1,21.9 34.1,22.5 32.9,23.0 34.8,24.0 35.2,24.8 34.4,25.3 33.0,25.5 33.6,26.4 32.1,26.4 32.0,27.0 32.0,27.6 31.9,28.3 31.1,28.5 31.6,29.6 31.1,30.1 30.1,30.0 29.8,30.5 29.8,31.5 28.7,31.1 29.1,32.8 29.0,33.8 28.0,33.5 26.5,32.1 26.4,33.3 26.3,34.6 25.5,34.5 24.7,34.3 24.2,34.7 23.5,34.8 22.8,34.1 22.1,34.3 21.5,33.6 20.9,33.3 20.2,34.6 19.6,34.6 18.9,34.6 18.5,33.6 17.6,34.4 16.9,34.4 16.2,34.5 15.5,34.3 14.8,34.2 14.2,33.9 13.9,33.0 14.5,31.0 13.2,31.8 12.5,31.6 11.8,31.4 11.0,31.2 10.9,30.4 10.0,30.3 10.4,29.1 9.3,29.1 9.0,28.5 8.8,27.8 9.4,26.8 10.0,25.8 8.3,25.9 7.8,25.3 7.8,24.6 9.1,23.7 8.0,23.2 9.3,22.5 8.7,21.9 6.5,21.3 6.9,20.6 7.1,19.9 7.9,19.4 9.2,18.9 8.0,18.1 7.9,17.3 8.8,17.0 9.1,16.4 8.7,15.5 10.0,15.4 10.0,14.7 9.3,13.5 10.1,13.3 10.2,12.4 10.9,12.2 12.2,12.5 12.3,11.8 11.8,10.2 13.1,10.7 14.0,10.9 14.7,10.8 15.2,10.6 15.7,10.3 16.0,9.4 16.3,8.4 16.7,7.3 17.7,8.4 18.6,9.4 19.2,9.3 19.8,9.5 20.3,8.3 20.9,9.2 21.5,7.6 22.2,7.0 22.7,8.7 23.3,9.3 24.0,8.6 24.4,9.4 25.5,8.2 26.3,7.8 26.7,8.8 26.8,9.9 27.6,9.8 29.0,8.8 29.0,10.0 29.4,10.5 29.7,11.2 31.2,10.5 31.0,11.7 31.8,11.9 31.8,12.8 31.8,13.6 32.4,14.0 33.9,13.8 32.5,15.4 32.8,15.9 33.2,16.4 32.6,17.3 33.8,17.5 33.6,18.2 34.2,18.8 34.1,19.4 34.4,20.0 34.7,20.6" fill="#4a4a4a" opacity="0.5" filter="url(#sb3)"/>
<polygon points="32.5,21.3 32.1,21.8 33.0,22.4 34.2,23.2 33.6,23.7 33.3,24.3 32.6,24.7 33.8,25.7 32.5,25.9 32.3,26.5 31.2,26.6 31.0,27.1 31.1,27.8 30.6,28.1 30.4,28.7 31.1,30.1 30.3,30.2 29.9,30.6 28.8,30.4 27.7,29.8 27.8,30.8 26.9,30.5 27.0,31.6 26.7,32.5 26.3,33.1 25.8,33.4 24.7,32.2 24.3,32.8 23.7,32.8 23.0,31.7 22.5,32.0 22.0,32.9 21.5,32.6 20.9,33.7 20.3,33.7 19.9,32.3 19.2,33.2 18.8,32.0 18.1,32.8 17.1,33.9 17.1,32.1 16.6,31.8 15.8,32.2 16.0,30.6 14.8,31.5 13.7,32.2 13.5,31.4 12.8,31.2 12.3,30.9 11.8,30.4 12.6,28.9 13.1,27.8 12.1,27.9 10.2,28.5 10.3,27.7 10.2,27.1 10.2,26.4 11.0,25.5 9.2,25.5 8.4,25.1 9.2,24.2 10.9,23.3 9.1,23.1 9.5,22.4 8.8,21.9 8.8,21.3 9.3,20.7 9.3,20.2 10.4,19.7 10.7,19.2 9.6,18.4 8.5,17.5 8.9,17.0 9.5,16.6 10.0,16.1 11.0,15.9 11.2,15.4 10.7,14.4 11.0,13.9 11.0,13.1 12.0,13.1 13.2,13.4 13.2,12.8 13.1,11.7 13.5,11.2 14.4,11.4 14.8,11.0 14.7,9.6 15.7,10.1 16.5,10.5 17.1,10.5 17.4,9.6 17.9,9.0 18.4,8.5 19.2,9.6 19.6,8.2 20.4,9.7 20.9,10.8 21.5,10.3 22.0,10.5 22.6,9.6 23.2,9.7 23.7,10.2 24.1,10.6 24.9,9.8 25.9,9.0 25.9,10.5 26.3,10.9 26.4,11.9 26.9,12.2 27.9,11.6 28.4,11.9 28.6,12.5 29.1,12.8 29.5,13.2 30.0,13.5 30.7,13.7 29.9,15.0 31.4,14.6 31.2,15.4 31.9,15.7 31.1,16.7 32.4,16.8 31.8,17.6 32.1,18.0 32.4,18.6 33.0,19.0 33.2,19.5 33.0,20.2 32.6,20.7" fill="#282828" opacity="1" filter="url(#sb3)"/>
<g stroke="#404040" stroke-linecap="round" opacity="0.5" filter="url(#sb)"><line x1="29.9" y1="23.5" x2="34.5" y2="21.7" stroke-width="0.68"/><line x1="16.9" y1="13.4" x2="14.4" y2="9.5" stroke-width="0.70"/><line x1="30.1" y1="22.4" x2="33.6" y2="21.8" stroke-width="0.90"/><line x1="12.6" y1="18.7" x2="8.2" y2="17.9" stroke-width="0.52"/><line x1="26.5" y1="14.0" x2="28.5" y2="9.7" stroke-width="0.47"/><line x1="12.2" y1="20.6" x2="8.9" y2="18.3" stroke-width="0.75"/><line x1="12.2" y1="20.9" x2="8.3" y2="21.7" stroke-width="0.45"/><line x1="29.5" y1="24.7" x2="32.9" y2="29.1" stroke-width="0.59"/><line x1="28.1" y1="15.5" x2="28.7" y2="11.1" stroke-width="0.90"/><line x1="13.4" y1="16.7" x2="9.9" y2="12.9" stroke-width="0.47"/><line x1="14.7" y1="15.0" x2="14.0" y2="9.8" stroke-width="0.61"/><line x1="12.3" y1="19.7" x2="7.9" y2="21.5" stroke-width="0.90"/><line x1="22.9" y1="12.5" x2="23.9" y2="10.5" stroke-width="0.63"/><line x1="24.7" y1="29.6" x2="22.8" y2="34.2" stroke-width="0.73"/><line x1="28.0" y1="27.2" x2="29.2" y2="31.0" stroke-width="0.95"/><line x1="19.2" y1="12.5" x2="21.9" y2="10.2" stroke-width="0.76"/><line x1="29.0" y1="25.8" x2="32.2" y2="24.4" stroke-width="0.79"/><line x1="26.3" y1="28.7" x2="31.3" y2="30.4" stroke-width="0.72"/><line x1="12.8" y1="24.5" x2="12.4" y2="28.1" stroke-width="0.93"/><line x1="30.1" y1="20.0" x2="32.6" y2="21.2" stroke-width="0.97"/><line x1="28.6" y1="16.2" x2="31.8" y2="12.3" stroke-width="0.82"/><line x1="12.2" y1="21.4" x2="7.2" y2="19.8" stroke-width="0.89"/><line x1="26.8" y1="14.3" x2="30.0" y2="12.8" stroke-width="0.47"/><line x1="23.7" y1="30.0" x2="25.8" y2="34.6" stroke-width="0.80"/><line x1="13.2" y1="17.2" x2="11.0" y2="15.3" stroke-width="0.93"/><line x1="17.0" y1="29.3" x2="17.6" y2="32.9" stroke-width="0.52"/></g>
<circle cx="21.2" cy="21.3" r="10" fill="#242424" filter="url(#sb2)"/>
<rect x="4" y="40.8" width="8" height="1.5" fill="#fafafa"/>
<rect x="0.3" y="0.3" width="43.9" height="43.9" fill="none" stroke="#3a3a3a" stroke-width="0.7" opacity="0.5"/>
</g>
<g transform="translate(209,491.6)">
<rect width="44.5" height="44.5" fill="url(#g44)"/>
<rect width="44.5" height="44.5" fill="url(#ledge)"/>
<rect width="44.5" height="44.5" fill="url(#tedge)"/>
<rect width="44.5" height="44.5" filter="url(#tex2)"/>
<circle cx="21.9" cy="22.9" r="17.85" fill="url(#fr44)"/>
<polygon points="38.2,22.9 38.3,23.7 39.0,24.5 39.4,25.3 37.0,25.7 37.5,26.6 37.6,27.4 38.7,28.5 38.4,29.3 38.2,30.1 36.4,30.1 34.3,29.8 35.1,31.1 35.7,32.4 34.4,32.3 33.6,32.6 33.7,33.6 32.6,33.6 32.6,34.6 31.8,34.9 31.2,35.3 30.5,35.4 30.0,35.9 28.7,35.1 29.1,37.4 28.7,38.4 28.0,38.7 26.7,37.2 26.4,38.7 25.9,39.9 25.0,39.6 24.3,40.0 23.4,39.3 22.7,39.8 21.9,38.3 21.2,38.1 20.5,38.4 20.0,36.7 19.0,38.6 18.2,38.6 17.6,37.9 17.2,37.0 15.9,38.3 14.8,39.1 15.0,36.8 14.3,36.5 14.0,35.6 13.8,34.7 13.2,34.4 12.6,34.1 11.3,34.6 10.3,34.5 10.3,33.5 10.3,32.5 9.9,32.0 8.5,32.1 8.2,31.4 8.6,30.3 7.3,30.2 6.4,29.8 6.9,28.7 7.8,27.6 6.9,27.2 5.4,26.8 6.1,25.9 6.9,25.0 6.7,24.3 7.8,23.6 5.1,22.9 4.1,22.1 6.4,21.5 5.1,20.5 5.7,19.9 7.5,19.5 6.6,18.6 5.4,17.4 8.1,17.5 9.0,17.2 9.2,16.6 9.4,15.9 8.1,14.3 9.4,14.3 9.8,13.8 11.0,13.9 10.2,12.2 9.8,10.8 11.5,11.5 11.7,10.6 12.8,10.9 12.7,9.5 14.1,10.3 14.8,10.1 15.2,9.4 16.3,10.3 16.8,9.7 17.4,9.4 17.7,8.0 18.4,7.9 19.0,7.2 19.5,6.0 20.4,6.4 21.2,7.8 21.9,7.7 22.6,8.8 23.4,6.4 24.4,5.3 25.0,6.4 26.0,5.6 26.2,7.8 27.4,6.4 27.6,8.3 27.7,9.8 29.1,8.4 29.3,9.6 30.5,9.0 30.2,10.9 31.6,10.1 32.3,10.3 31.9,11.9 31.7,13.1 33.3,12.5 33.3,13.5 34.5,13.4 34.8,14.0 35.4,14.6 35.5,15.3 36.6,15.6 36.8,16.3 36.2,17.4 35.4,18.4 35.5,19.0 36.1,19.6 37.8,19.9 38.5,20.6 37.5,21.5 37.4,22.2" fill="#4c4c4c" opacity="0.45" filter="url(#sb3)"/>
<circle cx="21.9" cy="22.9" r="17.85" fill="#3a3a3a" filter="url(#mot2)" opacity="0.5"/>
<polygon points="35.0,22.9 35.3,23.5 34.6,24.1 35.8,24.8 35.9,25.5 35.8,26.2 34.8,26.6 32.8,26.5 34.2,27.7 32.8,27.7 32.9,28.4 32.0,28.5 33.4,30.0 33.1,30.6 32.9,31.2 32.2,31.5 31.7,31.9 32.1,33.1 31.0,32.9 29.9,32.6 30.1,33.7 29.9,34.6 29.0,34.3 28.3,34.3 27.4,33.8 26.7,33.7 26.7,35.4 25.7,34.3 25.1,34.3 24.7,34.8 24.2,35.2 23.8,36.8 23.2,36.7 22.5,36.7 21.9,36.4 21.3,36.7 20.6,36.5 20.0,36.2 19.6,35.4 19.0,35.2 18.4,35.4 18.0,34.7 17.1,35.3 15.9,36.5 16.2,34.3 16.2,33.1 15.2,33.7 14.8,33.3 14.4,32.8 14.4,32.0 12.6,33.1 11.6,33.2 11.5,32.4 12.1,31.0 11.4,30.8 10.7,30.6 10.4,30.0 9.5,29.8 10.0,28.8 8.1,29.0 8.6,28.1 10.5,26.7 9.8,26.4 9.6,25.8 9.1,25.3 9.3,24.7 7.8,24.2 8.4,23.5 9.3,22.9 9.8,22.3 8.8,21.7 9.0,21.1 9.7,20.6 8.9,19.8 9.4,19.4 8.6,18.4 8.5,17.7 8.8,17.1 10.1,17.0 10.2,16.4 10.7,15.9 10.3,14.9 11.2,14.8 11.8,14.6 12.3,14.2 13.9,14.9 13.2,13.3 14.7,14.2 14.4,12.9 13.8,11.1 14.9,11.5 16.3,12.8 15.7,10.5 16.2,10.1 17.2,10.8 17.7,10.4 18.1,9.7 19.1,10.9 19.4,9.7 20.2,10.6 20.7,10.3 21.4,11.5 21.9,10.3 22.5,9.9 23.2,8.7 24.0,8.1 24.6,8.6 25.4,8.1 25.4,10.7 25.7,11.7 26.4,11.4 26.9,11.7 28.0,10.6 28.1,11.7 28.8,11.7 29.9,11.3 29.6,12.7 30.4,12.7 31.0,12.9 31.2,13.6 31.8,13.8 33.6,13.2 33.6,14.0 33.8,14.8 33.1,16.0 33.2,16.6 34.3,16.7 33.1,18.0 34.7,18.0 34.5,18.7 34.9,19.2 34.2,20.0 34.9,20.5 34.4,21.2 33.7,21.8 33.9,22.3" fill="#303030" opacity="0.9" filter="url(#sb3)"/>
<g stroke="#4a4a4a" stroke-linecap="round" opacity="0.5" filter="url(#sb)"><line x1="13.6" y1="28.3" x2="7.1" y2="28.4" stroke-width="0.52"/><line x1="23.4" y1="32.7" x2="26.9" y2="35.1" stroke-width="0.42"/><line x1="27.4" y1="31.1" x2="26.4" y2="37.9" stroke-width="0.81"/><line x1="14.8" y1="29.7" x2="9.9" y2="32.0" stroke-width="0.60"/><line x1="30.8" y1="27.3" x2="36.9" y2="31.7" stroke-width="0.48"/><line x1="30.9" y1="27.1" x2="32.1" y2="31.8" stroke-width="0.48"/><line x1="14.9" y1="15.9" x2="6.2" y2="14.1" stroke-width="0.64"/><line x1="12.1" y1="24.3" x2="5.1" y2="28.6" stroke-width="0.56"/><line x1="22.0" y1="32.8" x2="20.7" y2="36.1" stroke-width="0.88"/><line x1="12.8" y1="26.8" x2="9.2" y2="26.4" stroke-width="0.83"/><line x1="16.3" y1="14.8" x2="16.1" y2="9.4" stroke-width="0.77"/><line x1="13.5" y1="17.6" x2="7.4" y2="16.7" stroke-width="0.68"/><line x1="24.6" y1="13.4" x2="24.9" y2="6.6" stroke-width="0.88"/><line x1="27.2" y1="14.5" x2="26.5" y2="10.5" stroke-width="0.54"/><line x1="31.8" y1="23.8" x2="38.5" y2="25.9" stroke-width="0.72"/><line x1="31.8" y1="22.6" x2="36.4" y2="19.7" stroke-width="0.48"/><line x1="16.6" y1="31.3" x2="11.7" y2="36.9" stroke-width="0.45"/><line x1="12.9" y1="26.9" x2="9.4" y2="27.4" stroke-width="0.49"/><line x1="26.1" y1="31.8" x2="25.8" y2="38.8" stroke-width="0.77"/><line x1="19.2" y1="32.4" x2="19.7" y2="39.1" stroke-width="0.42"/><line x1="20.4" y1="32.7" x2="18.2" y2="39.0" stroke-width="0.53"/><line x1="27.2" y1="14.6" x2="29.2" y2="7.2" stroke-width="0.96"/><line x1="21.1" y1="32.8" x2="20.8" y2="36.2" stroke-width="0.90"/><line x1="13.9" y1="17.1" x2="9.0" y2="13.7" stroke-width="0.58"/><line x1="18.8" y1="32.3" x2="16.8" y2="37.1" stroke-width="0.95"/><line x1="30.8" y1="27.3" x2="32.6" y2="32.4" stroke-width="0.79"/><line x1="30.7" y1="27.4" x2="34.9" y2="31.0" stroke-width="0.93"/><line x1="30.4" y1="27.9" x2="35.5" y2="34.2" stroke-width="0.58"/><line x1="12.2" y1="20.8" x2="4.7" y2="21.9" stroke-width="0.81"/><line x1="12.7" y1="19.3" x2="8.9" y2="19.7" stroke-width="0.65"/><line x1="28.2" y1="30.5" x2="35.3" y2="34.8" stroke-width="0.55"/><line x1="13.8" y1="17.2" x2="8.1" y2="15.3" stroke-width="0.60"/><line x1="12.0" y1="23.1" x2="4.9" y2="27.7" stroke-width="0.93"/><line x1="31.1" y1="19.1" x2="38.1" y2="19.5" stroke-width="0.63"/><line x1="31.5" y1="20.6" x2="38.6" y2="20.8" stroke-width="0.67"/><line x1="23.7" y1="32.6" x2="22.6" y2="39.5" stroke-width="0.42"/><line x1="18.2" y1="32.1" x2="18.6" y2="38.3" stroke-width="0.49"/><line x1="25.7" y1="32.1" x2="29.5" y2="33.6" stroke-width="0.64"/><line x1="12.0" y1="22.8" x2="5.7" y2="24.6" stroke-width="0.49"/><line x1="30.6" y1="18.1" x2="36.9" y2="16.6" stroke-width="0.81"/><line x1="17.6" y1="31.8" x2="16.5" y2="38.0" stroke-width="0.79"/><line x1="26.0" y1="13.9" x2="29.3" y2="12.1" stroke-width="0.49"/><line x1="31.7" y1="23.9" x2="35.2" y2="24.8" stroke-width="0.90"/><line x1="30.7" y1="18.4" x2="34.0" y2="16.1" stroke-width="0.95"/><line x1="29.4" y1="16.5" x2="33.2" y2="9.8" stroke-width="0.57"/><line x1="27.8" y1="30.9" x2="31.1" y2="34.0" stroke-width="0.87"/><line x1="16.6" y1="14.5" x2="12.3" y2="12.8" stroke-width="0.67"/><line x1="29.5" y1="16.6" x2="35.3" y2="15.3" stroke-width="0.81"/><line x1="29.0" y1="16.0" x2="32.3" y2="11.3" stroke-width="0.68"/><line x1="25.1" y1="13.5" x2="24.0" y2="8.6" stroke-width="0.89"/></g>
<circle cx="21.9" cy="22.9" r="11.00" fill="#282828" filter="url(#sb4)"/>
<rect x="4" y="40.8" width="8" height="1.5" fill="#fafafa"/>
<rect x="0.3" y="0.3" width="43.9" height="43.9" fill="none" stroke="#3a3a3a" stroke-width="0.7" opacity="0.5"/>
</g>
<text transform="translate(16.20,514.35) rotate(-90)" text-anchor="middle" font-size="10.8" fill="#111" class="t">MM-0.4</text>
<g transform="translate(20,539)">
<rect width="44.5" height="44.5" fill="url(#g45)"/>
<rect width="44.5" height="44.5" fill="url(#ledge)"/>
<rect width="44.5" height="44.5" fill="url(#tedge)"/>
<path transform="translate(21.5,22.5)" d="M-6.00,-10.90 C-4.70,-11.05 -2.83,-10.72 -1.00,-10.20 C0.83,-9.68 3.28,-8.92 5.00,-7.80 C6.72,-6.68 8.43,-5.05 9.30,-3.50 C10.17,-1.95 10.37,-0.22 10.20,1.50 C10.03,3.22 9.42,5.35 8.30,6.80 C7.18,8.25 5.30,9.60 3.50,10.20 C1.70,10.80 -0.67,10.93 -2.50,10.40 C-4.33,9.87 -6.37,8.40 -7.50,7.00 C-8.63,5.60 -9.28,3.47 -9.30,2.00 C-9.32,0.53 -7.55,-0.55 -7.60,-1.80 C-7.65,-3.05 -9.40,-4.25 -9.60,-5.50 C-9.80,-6.75 -9.40,-8.40 -8.80,-9.30 C-8.20,-10.20 -7.30,-10.75 -6.00,-10.90 Z" fill="#5c5c5c" stroke="#e8e8e8" stroke-width="0.8" stroke-opacity="0.6" filter="url(#sb)"/>
<path transform="translate(21.5,22.5)" d="M-6.00,-10.90 C-4.70,-11.05 -2.83,-10.72 -1.00,-10.20 C0.83,-9.68 3.28,-8.92 5.00,-7.80 C6.72,-6.68 8.43,-5.05 9.30,-3.50 C10.17,-1.95 10.37,-0.22 10.20,1.50 C10.03,3.22 9.42,5.35 8.30,6.80 C7.18,8.25 5.30,9.60 3.50,10.20 C1.70,10.80 -0.67,10.93 -2.50,10.40 C-4.33,9.87 -6.37,8.40 -7.50,7.00 C-8.63,5.60 -9.28,3.47 -9.30,2.00 C-9.32,0.53 -7.55,-0.55 -7.60,-1.80 C-7.65,-3.05 -9.40,-4.25 -9.60,-5.50 C-9.80,-6.75 -9.40,-8.40 -8.80,-9.30 C-8.20,-10.20 -7.30,-10.75 -6.00,-10.90 Z" fill="#3a3a3a" filter="url(#mot1)" opacity="0.35"/>
<rect x="4" y="40.8" width="8" height="1.5" fill="#fafafa"/>
<rect x="0.3" y="0.3" width="43.9" height="43.9" fill="none" stroke="#3a3a3a" stroke-width="0.7" opacity="0.5"/>
</g>
<g transform="translate(67.3,539)">
<rect width="44.5" height="44.5" fill="url(#g46)"/>
<rect width="44.5" height="44.5" fill="url(#ledge)"/>
<rect width="44.5" height="44.5" fill="url(#tedge)"/>
<path transform="translate(21.9,21.8)" d="M-4.00,-10.20 C-2.17,-11.08 0.08,-10.83 2.00,-10.30 C3.92,-9.77 6.13,-8.47 7.50,-7.00 C8.87,-5.53 9.87,-3.42 10.20,-1.50 C10.53,0.42 10.20,2.75 9.50,4.50 C8.80,6.25 7.42,8.02 6.00,9.00 C4.58,9.98 2.75,10.32 1.00,10.40 C-0.75,10.48 -2.92,10.32 -4.50,9.50 C-6.08,8.68 -7.62,7.08 -8.50,5.50 C-9.38,3.92 -9.72,1.75 -9.80,0.00 C-9.88,-1.75 -9.97,-3.30 -9.00,-5.00 C-8.03,-6.70 -5.83,-9.32 -4.00,-10.20 Z" fill="#2c2c2c" stroke="#e8e8e8" stroke-width="0.8" stroke-opacity="0.6" filter="url(#sb)"/>
<path transform="translate(21.9,21.8)" d="M-4.00,-10.20 C-2.17,-11.08 0.08,-10.83 2.00,-10.30 C3.92,-9.77 6.13,-8.47 7.50,-7.00 C8.87,-5.53 9.87,-3.42 10.20,-1.50 C10.53,0.42 10.20,2.75 9.50,4.50 C8.80,6.25 7.42,8.02 6.00,9.00 C4.58,9.98 2.75,10.32 1.00,10.40 C-0.75,10.48 -2.92,10.32 -4.50,9.50 C-6.08,8.68 -7.62,7.08 -8.50,5.50 C-9.38,3.92 -9.72,1.75 -9.80,0.00 C-9.88,-1.75 -9.97,-3.30 -9.00,-5.00 C-8.03,-6.70 -5.83,-9.32 -4.00,-10.20 Z" fill="#555" filter="url(#mot2)" opacity="0.2"/>
<rect x="4" y="40.8" width="8" height="1.5" fill="#fafafa"/>
<rect x="0.3" y="0.3" width="43.9" height="43.9" fill="none" stroke="#3a3a3a" stroke-width="0.7" opacity="0.5"/>
</g>
<g transform="translate(114.5,539)">
<rect width="44.5" height="44.5" fill="url(#g47)"/>
<rect width="44.5" height="44.5" fill="url(#ledge)"/>
<rect width="44.5" height="44.5" fill="url(#tedge)"/>
<polygon points="33.5,23.7 32.8,24.3 33.5,24.9 33.4,25.5 33.5,26.1 33.1,26.6 33.3,27.3 33.4,28.0 32.2,28.2 31.6,28.5 32.2,29.4 32.4,30.2 31.1,30.1 30.4,30.3 30.6,31.2 29.7,31.2 29.8,32.0 29.9,32.9 29.3,33.1 28.3,32.9 28.2,33.7 28.0,34.5 27.3,34.4 26.7,34.6 26.2,34.9 25.6,35.0 25.0,35.2 24.5,35.4 23.9,35.6 23.5,36.5 22.8,35.8 22.2,36.6 21.6,36.0 21.0,36.2 20.4,35.5 19.9,35.4 19.2,36.0 18.5,36.2 18.1,35.6 17.7,34.9 17.0,35.1 16.6,34.6 15.8,34.9 15.4,34.3 15.1,33.7 14.8,33.1 13.9,33.4 13.1,33.5 12.8,32.8 12.1,32.7 11.7,32.2 11.7,31.4 11.4,30.9 11.6,30.1 11.5,29.5 11.1,29.1 10.7,28.6 9.8,28.4 9.2,28.0 9.0,27.4 9.2,26.7 8.9,26.1 8.9,25.5 8.6,24.9 9.2,24.3 10.0,23.7 10.1,23.2 10.0,22.6 9.7,22.0 8.6,21.2 9.4,20.8 10.5,20.5 10.0,19.7 9.9,19.0 10.2,18.5 9.9,17.7 10.7,17.5 11.9,17.5 11.9,16.9 12.5,16.6 11.9,15.4 12.0,14.6 13.0,14.8 14.0,15.0 13.9,14.0 14.7,14.1 14.9,13.4 15.9,13.9 16.2,13.3 16.6,13.0 17.0,12.4 17.6,12.4 18.0,11.8 18.6,11.3 19.3,12.1 19.9,12.5 20.5,12.3 21.0,11.5 21.6,11.7 22.2,11.3 22.7,12.0 23.4,11.4 23.9,11.8 24.5,12.0 24.9,12.5 25.3,13.2 26.0,12.9 26.4,13.4 26.8,13.7 27.3,14.1 28.2,13.7 29.2,13.4 29.2,14.4 30.1,14.2 30.0,15.3 30.0,16.0 30.9,16.0 31.5,16.3 32.0,16.7 32.3,17.2 32.6,17.8 32.9,18.3 32.4,19.2 32.7,19.7 32.6,20.3 33.1,20.8 32.8,21.5 33.2,22.0 33.0,22.6 33.2,23.1" fill="#4a4a4a" opacity="0.5" filter="url(#sb3)"/>
<polygon points="32.0,23.7 31.7,24.2 32.9,24.8 33.1,25.4 32.1,25.8 32.6,26.5 31.9,26.9 31.3,27.2 31.8,28.0 31.0,28.2 31.3,28.9 30.3,29.0 30.6,29.8 30.5,30.4 30.2,30.9 29.4,30.9 29.2,31.4 29.3,32.3 28.5,32.2 28.3,32.8 27.7,33.0 27.3,33.3 26.6,33.2 26.2,33.6 25.6,33.6 25.2,33.9 24.6,33.7 24.1,33.9 23.8,35.1 23.3,35.5 22.7,35.1 22.1,34.0 21.6,34.6 21.0,35.3 20.5,35.2 19.9,35.2 19.5,34.3 19.0,34.0 18.4,34.3 18.1,33.6 17.3,34.2 17.2,33.2 16.3,33.8 15.8,33.6 15.2,33.5 14.6,33.4 14.3,32.9 14.3,32.0 13.6,32.0 13.9,31.0 13.1,31.0 12.2,31.0 11.8,30.6 11.7,30.0 11.3,29.6 11.9,28.7 10.8,28.6 10.3,28.2 10.8,27.4 10.7,26.9 10.6,26.3 9.7,26.0 9.8,25.4 11.0,24.7 10.5,24.2 9.2,23.7 10.1,23.2 10.7,22.7 10.3,22.1 11.0,21.7 11.0,21.2 10.4,20.5 10.6,19.9 10.6,19.4 11.2,19.0 12.0,18.8 12.0,18.2 12.6,18.0 12.4,17.2 12.3,16.5 12.5,15.9 13.1,15.7 13.5,15.4 13.6,14.5 14.6,15.0 15.1,14.7 15.2,14.0 15.7,13.7 16.3,13.6 16.5,12.6 17.3,13.2 18.0,13.7 18.4,13.2 19.1,13.5 19.4,12.7 20.0,13.0 20.5,13.3 21.0,13.3 21.6,12.2 22.2,11.7 22.6,12.7 23.1,13.2 23.7,13.0 24.0,13.7 24.8,13.1 24.9,14.1 25.6,13.9 26.2,13.7 27.0,13.4 27.6,13.6 28.0,14.0 28.5,14.3 28.3,15.4 28.5,15.9 29.3,15.9 29.1,16.8 29.9,16.8 30.3,17.2 30.6,17.6 31.4,17.8 31.6,18.3 31.4,19.0 31.4,19.6 32.0,19.9 32.1,20.5 31.5,21.2 31.7,21.7 31.9,22.1 32.3,22.6 32.6,23.2" fill="#282828" opacity="1" filter="url(#sb3)"/>
<g stroke="#404040" stroke-linecap="round" opacity="0.5" filter="url(#sb)"><line x1="15.9" y1="30.9" x2="14.9" y2="32.8" stroke-width="0.61"/><line x1="12.3" y1="23.0" x2="10.5" y2="25.9" stroke-width="0.65"/><line x1="30.2" y1="25.0" x2="31.7" y2="23.8" stroke-width="0.96"/><line x1="12.4" y1="24.7" x2="10.0" y2="22.2" stroke-width="0.92"/><line x1="13.1" y1="20.0" x2="11.6" y2="19.2" stroke-width="0.62"/><line x1="30.0" y1="21.3" x2="31.0" y2="20.3" stroke-width="0.81"/><line x1="14.1" y1="18.4" x2="13.3" y2="15.6" stroke-width="0.55"/><line x1="26.2" y1="16.1" x2="24.8" y2="12.1" stroke-width="0.61"/><line x1="15.4" y1="30.5" x2="13.9" y2="31.9" stroke-width="0.56"/><line x1="16.0" y1="16.5" x2="16.8" y2="12.5" stroke-width="0.89"/><line x1="23.1" y1="32.5" x2="21.7" y2="35.5" stroke-width="0.76"/><line x1="17.2" y1="15.7" x2="18.0" y2="13.4" stroke-width="0.55"/><line x1="12.8" y1="20.6" x2="11.2" y2="19.8" stroke-width="0.44"/><line x1="17.9" y1="32.0" x2="18.4" y2="35.2" stroke-width="0.83"/><line x1="24.1" y1="15.1" x2="25.6" y2="13.1" stroke-width="0.54"/><line x1="12.3" y1="24.5" x2="9.3" y2="21.3" stroke-width="0.73"/><line x1="12.9" y1="26.8" x2="9.7" y2="27.6" stroke-width="0.87"/><line x1="29.1" y1="28.2" x2="29.5" y2="30.7" stroke-width="0.73"/><line x1="23.1" y1="14.9" x2="26.2" y2="13.7" stroke-width="0.44"/><line x1="20.5" y1="32.7" x2="20.1" y2="35.2" stroke-width="0.80"/></g>
<circle cx="21.3" cy="23.7" r="10" fill="#242424" filter="url(#sb2)"/>
<rect x="4" y="40.8" width="8" height="1.5" fill="#fafafa"/>
<rect x="0.3" y="0.3" width="43.9" height="43.9" fill="none" stroke="#3a3a3a" stroke-width="0.7" opacity="0.5"/>
</g>
<g transform="translate(161.8,539)">
<rect width="44.5" height="44.5" fill="url(#g48)"/>
<rect width="44.5" height="44.5" fill="url(#ledge)"/>
<rect width="44.5" height="44.5" fill="url(#tedge)"/>
<polygon points="34.4,22.8 33.6,23.4 33.9,24.0 33.1,24.5 33.6,25.2 33.8,25.8 33.1,26.3 33.1,26.9 33.9,27.9 34.0,28.6 33.4,29.0 33.0,29.6 32.2,29.8 31.0,29.7 31.2,30.6 31.8,31.9 30.5,31.5 29.7,31.6 29.6,32.4 29.2,32.8 29.1,33.7 28.3,33.6 27.5,33.5 26.8,33.5 26.5,34.2 26.2,34.9 25.4,34.7 25.1,35.6 24.4,35.5 23.8,35.8 23.3,36.1 22.6,36.1 22.0,36.2 21.4,36.3 20.7,36.5 20.0,36.8 19.4,36.2 18.9,35.5 18.2,36.1 17.5,36.1 17.2,35.0 16.3,35.6 16.0,34.7 15.8,33.8 14.9,34.2 14.2,34.2 13.6,33.8 13.7,32.7 13.1,32.4 12.8,32.0 11.8,32.1 11.0,32.0 10.7,31.4 10.8,30.5 10.6,29.9 10.0,29.5 9.9,28.9 10.1,28.2 9.2,27.9 9.4,27.2 8.6,26.8 8.2,26.3 8.5,25.5 8.8,24.9 8.7,24.3 7.5,23.8 8.1,23.1 9.0,22.5 8.9,21.9 9.2,21.4 8.3,20.7 8.7,20.1 9.4,19.7 9.6,19.1 9.6,18.5 9.9,18.0 9.9,17.4 8.8,16.1 10.3,16.2 10.5,15.6 11.1,15.3 11.0,14.5 11.9,14.4 12.4,14.1 12.8,13.6 12.7,12.6 13.3,12.4 13.9,12.1 14.5,11.9 15.0,11.7 15.7,11.8 16.4,11.7 16.9,11.6 17.4,11.4 17.7,10.3 18.2,9.6 18.8,9.6 19.6,10.5 20.2,10.5 20.8,10.3 21.3,10.2 22.0,9.8 22.6,10.0 23.1,10.2 23.7,10.6 24.3,10.5 24.8,10.8 25.4,11.1 25.9,11.4 26.6,11.3 27.1,11.6 27.9,11.4 28.0,12.4 28.6,12.5 28.9,13.2 29.2,13.7 29.6,14.1 30.0,14.5 31.1,14.3 31.0,15.2 31.9,15.3 32.3,15.8 31.9,16.7 32.0,17.3 32.9,17.5 33.3,18.0 34.1,18.4 34.2,19.0 34.0,19.7 32.9,20.6 34.5,20.9 35.0,21.5 34.3,22.2" fill="#4a4a4a" opacity="0.5" filter="url(#sb3)"/>
<polygon points="32.5,22.8 32.1,23.3 32.5,23.9 33.0,24.5 33.0,25.1 33.3,25.7 32.9,26.2 33.5,27.0 32.6,27.3 31.7,27.5 31.4,28.0 31.8,28.9 31.0,29.0 30.8,29.5 30.8,30.3 30.7,31.0 29.8,30.9 28.7,30.6 28.6,31.2 28.2,31.6 28.2,32.5 27.7,32.7 27.4,33.4 26.9,33.7 26.2,33.5 25.4,33.1 25.0,33.3 24.4,33.4 24.1,34.3 23.6,34.4 23.0,34.7 22.5,34.8 21.9,34.4 21.3,35.3 20.8,34.7 20.2,34.3 19.6,34.8 19.0,35.3 18.5,34.8 17.9,34.5 17.5,34.0 16.9,33.9 16.5,33.6 16.1,33.1 15.5,33.1 15.0,32.7 14.7,32.3 13.8,32.5 13.6,31.9 12.9,31.8 12.6,31.3 11.8,31.3 11.4,30.8 11.1,30.3 11.1,29.6 10.4,29.3 10.6,28.5 11.1,27.7 10.7,27.2 10.7,26.7 9.8,26.4 10.1,25.7 9.3,25.4 8.9,24.9 8.5,24.3 8.8,23.7 9.1,23.1 10.1,22.5 9.6,22.0 9.3,21.4 10.1,20.9 10.0,20.4 9.4,19.7 10.1,19.3 10.1,18.7 10.4,18.2 10.2,17.5 10.8,17.2 11.4,16.9 11.3,16.2 11.8,15.8 11.8,15.1 12.0,14.5 12.5,14.2 13.4,14.4 13.9,14.1 14.2,13.5 14.8,13.5 15.1,13.0 15.5,12.5 16.2,12.7 16.7,12.5 17.2,12.3 17.5,11.7 18.0,11.3 18.7,12.0 19.3,12.0 19.8,11.8 20.2,10.8 20.7,10.0 21.3,10.9 21.9,10.3 22.5,10.7 23.2,10.1 23.5,11.4 24.1,11.2 24.6,11.7 25.1,11.9 25.8,11.7 26.0,12.6 26.8,12.1 27.4,12.3 27.5,13.2 28.2,13.1 28.8,13.3 28.7,14.2 29.6,14.0 29.8,14.7 30.0,15.3 29.9,16.0 30.4,16.3 31.3,16.4 31.4,17.0 32.4,17.1 32.6,17.6 33.2,18.0 33.0,18.8 31.7,19.8 31.9,20.2 32.5,20.6 32.4,21.2 32.1,21.8 33.0,22.2" fill="#282828" opacity="1" filter="url(#sb3)"/>
<g stroke="#404040" stroke-linecap="round" opacity="0.5" filter="url(#sb)"><line x1="12.2" y1="20.0" x2="11.0" y2="18.1" stroke-width="0.59"/><line x1="29.9" y1="19.2" x2="32.3" y2="20.2" stroke-width="0.51"/><line x1="30.4" y1="20.8" x2="33.0" y2="17.1" stroke-width="0.78"/><line x1="23.1" y1="32.1" x2="21.1" y2="35.0" stroke-width="0.51"/><line x1="23.1" y1="32.0" x2="26.2" y2="32.7" stroke-width="0.70"/><line x1="26.1" y1="30.9" x2="25.9" y2="33.0" stroke-width="0.58"/><line x1="16.2" y1="30.8" x2="13.1" y2="31.3" stroke-width="0.57"/><line x1="15.6" y1="15.2" x2="13.7" y2="11.8" stroke-width="0.58"/><line x1="27.3" y1="30.0" x2="31.0" y2="30.6" stroke-width="0.64"/><line x1="25.0" y1="14.1" x2="24.7" y2="10.4" stroke-width="0.63"/><line x1="18.9" y1="32.0" x2="18.4" y2="34.1" stroke-width="0.49"/><line x1="28.3" y1="29.1" x2="30.4" y2="29.4" stroke-width="0.72"/><line x1="17.2" y1="31.4" x2="14.4" y2="32.7" stroke-width="0.86"/><line x1="12.9" y1="27.2" x2="11.9" y2="32.1" stroke-width="0.75"/><line x1="17.4" y1="14.2" x2="15.9" y2="12.1" stroke-width="0.56"/><line x1="22.2" y1="13.4" x2="22.8" y2="11.5" stroke-width="0.82"/><line x1="25.7" y1="14.5" x2="25.0" y2="10.1" stroke-width="0.51"/><line x1="19.6" y1="32.1" x2="18.4" y2="35.5" stroke-width="0.83"/><line x1="12.5" y1="26.6" x2="9.1" y2="24.3" stroke-width="0.64"/><line x1="12.7" y1="26.8" x2="9.0" y2="25.6" stroke-width="0.93"/><line x1="11.9" y1="21.1" x2="10.2" y2="23.4" stroke-width="0.44"/><line x1="30.6" y1="23.0" x2="33.7" y2="22.0" stroke-width="0.47"/></g>
<circle cx="21.2" cy="22.8" r="10.5" fill="#242424" filter="url(#sb2)"/>
<rect x="4" y="40.8" width="8" height="1.5" fill="#fafafa"/>
<rect x="0.3" y="0.3" width="43.9" height="43.9" fill="none" stroke="#3a3a3a" stroke-width="0.7" opacity="0.5"/>
</g>
<g transform="translate(209,539)">
<rect width="44.5" height="44.5" fill="url(#g49)"/>
<rect width="44.5" height="44.5" fill="url(#ledge)"/>
<rect width="44.5" height="44.5" fill="url(#tedge)"/>
<rect width="44.5" height="44.5" filter="url(#tex1)"/>
<polygon points="38.3,25.0 38.2,25.7 38.9,26.4 38.7,27.1 39.0,27.8 38.5,28.4 37.4,28.8 37.2,29.5 37.6,30.3 37.3,30.9 36.7,31.4 36.7,32.1 36.5,32.8 35.8,33.1 35.6,33.8 34.6,33.9 34.2,34.4 34.2,35.2 33.8,35.8 33.5,36.4 32.9,36.8 32.5,37.3 31.6,37.3 30.6,36.9 30.2,37.4 29.9,38.2 29.4,38.6 29.0,39.4 28.6,40.4 28.1,40.9 27.0,39.7 26.4,40.0 25.8,40.5 25.0,39.6 24.4,40.5 23.8,40.8 23.1,40.0 22.4,39.1 21.8,40.1 21.2,39.5 20.5,39.9 19.8,40.0 19.0,40.2 18.7,38.9 17.8,39.6 17.0,39.9 16.5,39.2 16.4,37.9 16.0,37.4 15.5,37.0 14.5,37.4 13.9,37.1 13.2,36.9 13.4,35.7 12.0,36.2 11.5,35.8 11.0,35.3 11.3,34.2 10.7,33.9 10.7,33.1 9.4,33.1 8.5,32.8 8.9,31.8 7.6,31.7 8.3,30.6 7.1,30.3 8.0,29.3 8.2,28.6 8.0,27.9 6.6,27.5 7.4,26.7 6.8,26.0 7.6,25.3 8.6,24.7 8.3,24.0 8.0,23.4 7.6,22.7 7.0,21.9 7.7,21.3 7.4,20.5 8.8,20.3 9.5,19.8 9.3,19.0 8.3,17.9 8.6,17.2 9.4,16.9 10.3,16.6 9.8,15.5 10.3,15.0 10.8,14.5 12.3,14.9 13.0,14.8 13.4,14.3 14.0,14.0 14.4,13.6 14.9,13.2 15.2,12.5 15.0,10.9 16.1,11.5 16.7,11.1 17.3,11.0 18.2,11.5 18.7,11.0 19.0,9.9 19.8,10.1 20.5,10.3 21.1,10.4 21.8,10.0 22.4,9.4 23.1,9.5 23.8,9.1 24.4,9.7 25.1,9.4 25.6,10.5 26.4,9.8 26.9,10.7 27.4,11.2 28.0,11.4 28.8,11.1 29.2,11.8 30.3,11.0 31.0,11.1 31.5,11.6 32.4,11.6 32.0,13.2 32.5,13.7 33.6,13.4 33.6,14.4 34.1,14.8 34.1,15.7 34.7,16.0 34.7,16.8 36.0,16.8 35.7,17.7 36.3,18.1 35.9,19.0 37.1,19.2 37.5,19.7 37.6,20.4 38.6,20.8 38.6,21.5 38.1,22.3 38.5,23.0 39.2,23.6 38.3,24.3" fill="#4a4a4a" opacity="0.5" filter="url(#sb3)"/>
<polygon points="37.7,25.0 38.1,25.7 36.8,26.2 36.1,26.7 36.3,27.4 36.3,28.0 36.4,28.6 35.9,29.1 36.2,29.8 36.4,30.5 36.4,31.3 36.5,32.0 35.2,32.1 34.9,32.6 34.4,32.9 34.0,33.4 33.4,33.8 33.5,34.7 33.4,35.4 32.8,35.6 32.3,36.1 32.0,36.7 30.9,36.2 30.3,36.5 30.3,37.6 29.7,37.9 29.3,38.5 28.5,38.3 28.0,38.7 27.3,38.5 26.8,38.9 26.2,39.2 25.5,38.8 25.1,40.2 24.3,39.3 23.6,38.5 23.1,39.5 22.5,38.8 21.8,39.4 21.3,38.3 20.5,39.4 19.8,39.8 19.2,39.4 18.6,39.2 18.0,39.0 17.8,37.7 17.2,37.7 16.0,38.8 15.8,37.7 15.7,36.6 15.0,36.7 14.4,36.4 13.8,36.2 14.3,34.7 13.5,34.7 13.6,33.8 12.2,34.3 11.3,34.2 11.5,33.3 12.0,32.2 10.8,32.3 10.3,31.9 10.7,31.0 11.1,30.1 10.4,29.8 8.8,29.8 8.9,29.0 9.0,28.4 8.7,27.8 8.9,27.1 8.2,26.6 7.9,26.0 8.9,25.3 8.1,24.7 8.4,24.1 8.2,23.4 9.4,22.9 9.5,22.4 8.9,21.6 9.8,21.2 9.6,20.5 10.6,20.3 11.0,19.8 11.3,19.3 11.0,18.5 11.7,18.3 11.1,17.2 11.2,16.5 11.2,15.7 12.1,15.6 13.2,15.8 13.7,15.5 13.7,14.7 14.0,14.1 14.1,13.2 15.0,13.4 15.5,13.0 15.6,12.0 16.5,12.3 17.0,11.9 17.6,11.7 17.8,10.5 18.9,11.6 19.7,12.3 20.1,11.5 20.6,11.3 21.2,10.8 21.8,10.5 22.4,10.3 23.1,10.4 23.7,10.3 24.3,11.0 25.0,10.3 25.7,9.9 26.3,10.5 26.6,11.5 27.1,12.0 27.6,12.5 28.5,11.7 28.7,12.7 29.7,12.2 30.7,11.7 31.2,12.2 31.5,12.9 31.6,13.8 32.1,14.2 32.2,15.0 32.4,15.6 33.4,15.5 33.6,16.1 34.0,16.6 35.0,16.6 35.3,17.2 34.7,18.3 35.6,18.5 35.1,19.4 35.5,19.8 35.1,20.6 36.2,20.8 37.7,21.1 36.5,22.0 36.5,22.6 36.6,23.2 37.7,23.7 37.1,24.4" fill="#282828" opacity="1" filter="url(#sb3)"/>
<g stroke="#404040" stroke-linecap="round" opacity="0.5" filter="url(#sb)"><line x1="33.2" y1="29.6" x2="36.8" y2="27.6" stroke-width="0.84"/><line x1="11.7" y1="24.2" x2="10.0" y2="27.6" stroke-width="0.83"/><line x1="29.3" y1="34.3" x2="30.4" y2="38.1" stroke-width="0.70"/><line x1="29.8" y1="16.1" x2="32.5" y2="13.8" stroke-width="0.64"/><line x1="23.0" y1="36.2" x2="23.6" y2="38.4" stroke-width="0.63"/><line x1="24.5" y1="13.9" x2="24.0" y2="11.3" stroke-width="0.95"/><line x1="14.7" y1="17.3" x2="13.3" y2="13.6" stroke-width="0.93"/><line x1="26.0" y1="35.8" x2="30.7" y2="38.1" stroke-width="0.56"/><line x1="13.6" y1="18.6" x2="11.4" y2="17.2" stroke-width="0.54"/><line x1="22.5" y1="36.2" x2="21.5" y2="39.2" stroke-width="0.81"/><line x1="11.7" y1="25.0" x2="9.4" y2="21.1" stroke-width="0.85"/><line x1="12.2" y1="21.7" x2="8.4" y2="23.7" stroke-width="0.53"/><line x1="32.6" y1="30.7" x2="34.6" y2="35.5" stroke-width="0.46"/><line x1="19.0" y1="14.5" x2="19.3" y2="11.4" stroke-width="0.66"/><line x1="17.6" y1="34.9" x2="18.9" y2="37.6" stroke-width="0.66"/><line x1="20.6" y1="14.0" x2="19.7" y2="12.0" stroke-width="0.96"/><line x1="31.9" y1="31.8" x2="32.1" y2="35.7" stroke-width="0.78"/><line x1="33.6" y1="21.5" x2="37.2" y2="21.7" stroke-width="0.55"/><line x1="13.5" y1="31.2" x2="9.3" y2="30.1" stroke-width="0.79"/><line x1="15.1" y1="33.1" x2="11.4" y2="35.4" stroke-width="0.83"/><line x1="28.1" y1="35.0" x2="28.5" y2="37.6" stroke-width="0.66"/><line x1="22.5" y1="36.2" x2="18.1" y2="39.9" stroke-width="0.80"/><line x1="34.0" y1="23.2" x2="37.7" y2="22.2" stroke-width="0.49"/><line x1="12.6" y1="20.5" x2="8.9" y2="18.1" stroke-width="0.83"/></g>
<circle cx="22.9" cy="25.0" r="12.5" fill="#242424" filter="url(#sb2)"/>
<rect x="4" y="40.8" width="8" height="1.5" fill="#fafafa"/>
<rect x="0.3" y="0.3" width="43.9" height="43.9" fill="none" stroke="#3a3a3a" stroke-width="0.7" opacity="0.5"/>
</g>
<text transform="translate(16.20,561.75) rotate(-90)" text-anchor="middle" font-size="10.8" fill="#111" class="t">HD</text>
<text transform="translate(41.65,393.40) scale(1.065,1)" text-anchor="middle" font-size="10.8" fill="#111" class="t">Day 2</text>
<text transform="translate(88.95,393.40) scale(1.065,1)" text-anchor="middle" font-size="10.8" fill="#111" class="t">Day 3</text>
<text transform="translate(136.15,393.40) scale(1.065,1)" text-anchor="middle" font-size="10.8" fill="#111" class="t">Day 4</text>
<text transform="translate(183.45,393.40) scale(1.065,1)" text-anchor="middle" font-size="10.8" fill="#111" class="t">Day 5</text>
<text transform="translate(230.65,393.40) scale(1.065,1)" text-anchor="middle" font-size="10.8" fill="#111" class="t">Day 7</text>
<text x="2.6" y="23.8" font-size="30.3" fill="#111" stroke="#fff" stroke-width="0.5">a</text>
<text x="1.9" y="202.9" font-size="30" fill="#111">b</text>
<text x="2.6" y="383.8" font-size="30" fill="#111">c</text>
<path d="M291.6,35 H462.3 V153.5 H291.6 Z" fill="none" stroke="#cfcfcf" stroke-width="1"/>
<line x1="290.0" x2="293.20000000000005" y1="153.5" y2="153.5" stroke="#aaa" stroke-width="0.8"/>
<line x1="290.6" x2="292.6" y1="142.2" y2="142.2" stroke="#aaa" stroke-width="0.8"/>
<line x1="290.0" x2="293.20000000000005" y1="131.0" y2="131.0" stroke="#aaa" stroke-width="0.8"/>
<text transform="translate(287.60,134.80) scale(0.950,1)" text-anchor="end" font-size="10.2" fill="#111" class="s">0.5</text>
<line x1="290.6" x2="292.6" y1="119.8" y2="119.8" stroke="#aaa" stroke-width="0.8"/>
<line x1="290.0" x2="293.20000000000005" y1="108.5" y2="108.5" stroke="#aaa" stroke-width="0.8"/>
<text transform="translate(287.60,112.30) scale(0.950,1)" text-anchor="end" font-size="10.2" fill="#111" class="s">1.0</text>
<line x1="290.6" x2="292.6" y1="97.2" y2="97.2" stroke="#aaa" stroke-width="0.8"/>
<line x1="290.0" x2="293.20000000000005" y1="86.0" y2="86.0" stroke="#aaa" stroke-width="0.8"/>
<text transform="translate(287.60,89.80) scale(0.950,1)" text-anchor="end" font-size="10.2" fill="#111" class="s">1.5</text>
<line x1="290.6" x2="292.6" y1="74.8" y2="74.8" stroke="#aaa" stroke-width="0.8"/>
<line x1="290.0" x2="293.20000000000005" y1="63.5" y2="63.5" stroke="#aaa" stroke-width="0.8"/>
<text transform="translate(287.60,67.30) scale(0.950,1)" text-anchor="end" font-size="10.2" fill="#111" class="s">2.0</text>
<line x1="290.6" x2="292.6" y1="52.2" y2="52.2" stroke="#aaa" stroke-width="0.8"/>
<line x1="290.0" x2="293.20000000000005" y1="41.0" y2="41.0" stroke="#aaa" stroke-width="0.8"/>
<text transform="translate(287.60,44.80) scale(0.950,1)" text-anchor="end" font-size="10.2" fill="#111" class="s">2.5</text>
<line x1="308.7" x2="308.7" y1="152.5" y2="154.5" stroke="#aaa" stroke-width="0.8"/>
<line x1="325.7" x2="325.7" y1="151.9" y2="155.1" stroke="#aaa" stroke-width="0.8"/>
<text transform="translate(325.74,165.20)" text-anchor="middle" font-size="10.2" fill="#111" class="s">2</text>
<line x1="342.8" x2="342.8" y1="152.5" y2="154.5" stroke="#aaa" stroke-width="0.8"/>
<line x1="359.9" x2="359.9" y1="151.9" y2="155.1" stroke="#aaa" stroke-width="0.8"/>
<text transform="translate(359.88,165.20)" text-anchor="middle" font-size="10.2" fill="#111" class="s">4</text>
<line x1="377.0" x2="377.0" y1="152.5" y2="154.5" stroke="#aaa" stroke-width="0.8"/>
<line x1="394.0" x2="394.0" y1="151.9" y2="155.1" stroke="#aaa" stroke-width="0.8"/>
<text transform="translate(394.02,165.20)" text-anchor="middle" font-size="10.2" fill="#111" class="s">6</text>
<line x1="411.1" x2="411.1" y1="152.5" y2="154.5" stroke="#aaa" stroke-width="0.8"/>
<line x1="428.2" x2="428.2" y1="151.9" y2="155.1" stroke="#aaa" stroke-width="0.8"/>
<text transform="translate(428.16,165.20)" text-anchor="middle" font-size="10.2" fill="#111" class="s">8</text>
<line x1="445.2" x2="445.2" y1="152.5" y2="154.5" stroke="#aaa" stroke-width="0.8"/>
<line x1="462.3" x2="462.3" y1="151.9" y2="155.1" stroke="#aaa" stroke-width="0.8"/>
<text transform="translate(462.30,165.20)" text-anchor="middle" font-size="10.2" fill="#111" class="s">10</text>
<text transform="translate(377.10,181.80) scale(1.060,1)" text-anchor="middle" font-size="11.4" fill="#111" class="t">Days in culture</text>
<text transform="translate(376.90,30.10) scale(1.076,1)" text-anchor="middle" font-size="11.2" fill="#111" class="t">4 hours maturation</text>
<text transform="translate(270.00,93.85) rotate(-90) scale(1.110,1)" text-anchor="middle" font-size="11.2" fill="#111" class="t">Invasion area (mm<tspan font-size="8.6" dy="-4.0">2</tspan><tspan dy="4.0">)</tspan></text>
<line x1="377.0" x2="377.0" y1="134.6" y2="140.0" stroke="#b8b8b8" stroke-width="0.6"/>
<line x1="376.0" x2="378.0" y1="134.6" y2="134.6" stroke="#b8b8b8" stroke-width="0.6"/>
<line x1="376.0" x2="378.0" y1="140.0" y2="140.0" stroke="#b8b8b8" stroke-width="0.6"/>
<line x1="394.0" x2="394.0" y1="126.5" y2="134.6" stroke="#b8b8b8" stroke-width="0.6"/>
<line x1="393.0" x2="395.0" y1="126.5" y2="126.5" stroke="#b8b8b8" stroke-width="0.6"/>
<line x1="393.0" x2="395.0" y1="134.6" y2="134.6" stroke="#b8b8b8" stroke-width="0.6"/>
<line x1="411.1" x2="411.1" y1="120.7" y2="133.7" stroke="#b8b8b8" stroke-width="0.6"/>
<line x1="410.1" x2="412.1" y1="120.7" y2="120.7" stroke="#b8b8b8" stroke-width="0.6"/>
<line x1="410.1" x2="412.1" y1="133.7" y2="133.7" stroke="#b8b8b8" stroke-width="0.6"/>
<line x1="428.2" x2="428.2" y1="86.9" y2="128.3" stroke="#b8b8b8" stroke-width="0.6"/>
<line x1="427.2" x2="429.2" y1="86.9" y2="86.9" stroke="#b8b8b8" stroke-width="0.6"/>
<line x1="427.2" x2="429.2" y1="128.3" y2="128.3" stroke="#b8b8b8" stroke-width="0.6"/>
<line x1="445.2" x2="445.2" y1="71.1" y2="120.7" stroke="#b8b8b8" stroke-width="0.6"/>
<line x1="444.2" x2="446.2" y1="71.1" y2="71.1" stroke="#b8b8b8" stroke-width="0.6"/>
<line x1="444.2" x2="446.2" y1="120.7" y2="120.7" stroke="#b8b8b8" stroke-width="0.6"/>
<polyline points="294.50,153.50 308.67,153.50 325.74,150.35 342.81,145.85 359.88,141.35 376.95,136.85 394.02,129.65 411.09,124.25 428.16,102.20 445.23,90.05" fill="none" stroke="#6fd0da" stroke-width="1.2" stroke-linejoin="round"/>
<circle cx="294.50" cy="153.50" r="1.3" fill="#fff" stroke="#6fd0da" stroke-width="1.2"/>
<circle cx="308.67" cy="153.50" r="1.3" fill="#fff" stroke="#6fd0da" stroke-width="1.2"/>
<circle cx="325.74" cy="150.35" r="1.3" fill="#fff" stroke="#6fd0da" stroke-width="1.2"/>
<circle cx="342.81" cy="145.85" r="1.3" fill="#fff" stroke="#6fd0da" stroke-width="1.2"/>
<circle cx="359.88" cy="141.35" r="1.3" fill="#fff" stroke="#6fd0da" stroke-width="1.2"/>
<circle cx="376.95" cy="136.85" r="1.3" fill="#fff" stroke="#6fd0da" stroke-width="1.2"/>
<circle cx="394.02" cy="129.65" r="1.3" fill="#fff" stroke="#6fd0da" stroke-width="1.2"/>
<circle cx="411.09" cy="124.25" r="1.3" fill="#fff" stroke="#6fd0da" stroke-width="1.2"/>
<circle cx="428.16" cy="102.20" r="1.3" fill="#fff" stroke="#6fd0da" stroke-width="1.2"/>
<circle cx="445.23" cy="90.05" r="1.3" fill="#fff" stroke="#6fd0da" stroke-width="1.2"/>
<polyline points="294.50,153.50 308.67,153.50 325.74,150.35 342.81,145.85 359.88,141.35 376.95,136.85 394.02,129.65 411.09,124.25 428.16,111.20 445.23,103.55" fill="none" stroke="#6a9fe6" stroke-width="1.2" stroke-linejoin="round"/>
<circle cx="294.50" cy="153.50" r="1.3" fill="#fff" stroke="#6a9fe6" stroke-width="1.2"/>
<circle cx="308.67" cy="153.50" r="1.3" fill="#fff" stroke="#6a9fe6" stroke-width="1.2"/>
<circle cx="325.74" cy="150.35" r="1.3" fill="#fff" stroke="#6a9fe6" stroke-width="1.2"/>
<circle cx="342.81" cy="145.85" r="1.3" fill="#fff" stroke="#6a9fe6" stroke-width="1.2"/>
<circle cx="359.88" cy="141.35" r="1.3" fill="#fff" stroke="#6a9fe6" stroke-width="1.2"/>
<circle cx="376.95" cy="136.85" r="1.3" fill="#fff" stroke="#6a9fe6" stroke-width="1.2"/>
<circle cx="394.02" cy="129.65" r="1.3" fill="#fff" stroke="#6a9fe6" stroke-width="1.2"/>
<circle cx="411.09" cy="124.25" r="1.3" fill="#fff" stroke="#6a9fe6" stroke-width="1.2"/>
<circle cx="428.16" cy="111.20" r="1.3" fill="#fff" stroke="#6a9fe6" stroke-width="1.2"/>
<circle cx="445.23" cy="103.55" r="1.3" fill="#fff" stroke="#6a9fe6" stroke-width="1.2"/>
<polyline points="294.50,153.50 308.67,153.50 325.74,150.35 342.81,145.85 359.88,141.35 376.95,138.65 394.02,133.25 411.09,130.10 428.16,118.85 445.23,105.80" fill="none" stroke="#2434f4" stroke-width="1.5" stroke-linejoin="round"/>
<circle cx="294.50" cy="153.50" r="1.3" fill="#fff" stroke="#2434f4" stroke-width="1.2"/>
<circle cx="308.67" cy="153.50" r="1.3" fill="#fff" stroke="#2434f4" stroke-width="1.2"/>
<circle cx="325.74" cy="150.35" r="1.3" fill="#fff" stroke="#2434f4" stroke-width="1.2"/>
<circle cx="342.81" cy="145.85" r="1.3" fill="#fff" stroke="#2434f4" stroke-width="1.2"/>
<circle cx="359.88" cy="141.35" r="1.3" fill="#fff" stroke="#2434f4" stroke-width="1.2"/>
<circle cx="376.95" cy="138.65" r="1.3" fill="#fff" stroke="#2434f4" stroke-width="1.2"/>
<circle cx="394.02" cy="133.25" r="1.3" fill="#fff" stroke="#2434f4" stroke-width="1.2"/>
<circle cx="411.09" cy="130.10" r="1.3" fill="#fff" stroke="#2434f4" stroke-width="1.2"/>
<circle cx="428.16" cy="118.85" r="1.3" fill="#fff" stroke="#2434f4" stroke-width="1.2"/>
<circle cx="445.23" cy="105.80" r="1.3" fill="#fff" stroke="#2434f4" stroke-width="1.2"/>
<line x1="295" x2="305.8" y1="41.6" y2="41.6" stroke="#6fd0da" stroke-width="1.2"/>
<circle cx="300.4" cy="41.6" r="1.4" fill="#fff" stroke="#6fd0da" stroke-width="0.9"/>
<text transform="translate(309.30,44.50) scale(1.070,1)" text-anchor="start" font-size="8.4" fill="#111" class="s">MM-0.4</text>
<line x1="295" x2="305.8" y1="52.4" y2="52.4" stroke="#6a9fe6" stroke-width="1.2"/>
<circle cx="300.4" cy="52.4" r="1.4" fill="#fff" stroke="#6a9fe6" stroke-width="0.9"/>
<text transform="translate(309.30,55.30) scale(1.070,1)" text-anchor="start" font-size="8.4" fill="#111" class="s">MM-0.5</text>
<line x1="295" x2="305.8" y1="63.2" y2="63.2" stroke="#2434f4" stroke-width="1.2"/>
<circle cx="300.4" cy="63.2" r="1.4" fill="#fff" stroke="#2434f4" stroke-width="0.9"/>
<text transform="translate(309.30,66.10) scale(1.070,1)" text-anchor="start" font-size="8.4" fill="#111" class="s">MM-1</text>
<path d="M291.6,215 H462.3 V333.5 H291.6 Z" fill="none" stroke="#cfcfcf" stroke-width="1"/>
<line x1="290.0" x2="293.20000000000005" y1="333.5" y2="333.5" stroke="#aaa" stroke-width="0.8"/>
<line x1="290.6" x2="292.6" y1="322.2" y2="322.2" stroke="#aaa" stroke-width="0.8"/>
<line x1="290.0" x2="293.20000000000005" y1="311.0" y2="311.0" stroke="#aaa" stroke-width="0.8"/>
<text transform="translate(287.60,314.80) scale(0.950,1)" text-anchor="end" font-size="10.2" fill="#111" class="s">0.5</text>
<line x1="290.6" x2="292.6" y1="299.8" y2="299.8" stroke="#aaa" stroke-width="0.8"/>
<line x1="290.0" x2="293.20000000000005" y1="288.5" y2="288.5" stroke="#aaa" stroke-width="0.8"/>
<text transform="translate(287.60,292.30) scale(0.950,1)" text-anchor="end" font-size="10.2" fill="#111" class="s">1.0</text>
<line x1="290.6" x2="292.6" y1="277.2" y2="277.2" stroke="#aaa" stroke-width="0.8"/>
<line x1="290.0" x2="293.20000000000005" y1="266.0" y2="266.0" stroke="#aaa" stroke-width="0.8"/>
<text transform="translate(287.60,269.80) scale(0.950,1)" text-anchor="end" font-size="10.2" fill="#111" class="s">1.5</text>
<line x1="290.6" x2="292.6" y1="254.8" y2="254.8" stroke="#aaa" stroke-width="0.8"/>
<line x1="290.0" x2="293.20000000000005" y1="243.5" y2="243.5" stroke="#aaa" stroke-width="0.8"/>
<text transform="translate(287.60,247.30) scale(0.950,1)" text-anchor="end" font-size="10.2" fill="#111" class="s">2.0</text>
<line x1="290.6" x2="292.6" y1="232.2" y2="232.2" stroke="#aaa" stroke-width="0.8"/>
<line x1="290.0" x2="293.20000000000005" y1="221.0" y2="221.0" stroke="#aaa" stroke-width="0.8"/>
<text transform="translate(287.60,224.80) scale(0.950,1)" text-anchor="end" font-size="10.2" fill="#111" class="s">2.5</text>
<line x1="308.7" x2="308.7" y1="332.5" y2="334.5" stroke="#aaa" stroke-width="0.8"/>
<line x1="325.7" x2="325.7" y1="331.9" y2="335.1" stroke="#aaa" stroke-width="0.8"/>
<text transform="translate(325.74,345.20)" text-anchor="middle" font-size="10.2" fill="#111" class="s">2</text>
<line x1="342.8" x2="342.8" y1="332.5" y2="334.5" stroke="#aaa" stroke-width="0.8"/>
<line x1="359.9" x2="359.9" y1="331.9" y2="335.1" stroke="#aaa" stroke-width="0.8"/>
<text transform="translate(359.88,345.20)" text-anchor="middle" font-size="10.2" fill="#111" class="s">4</text>
<line x1="377.0" x2="377.0" y1="332.5" y2="334.5" stroke="#aaa" stroke-width="0.8"/>
<line x1="394.0" x2="394.0" y1="331.9" y2="335.1" stroke="#aaa" stroke-width="0.8"/>
<text transform="translate(394.02,345.20)" text-anchor="middle" font-size="10.2" fill="#111" class="s">6</text>
<line x1="411.1" x2="411.1" y1="332.5" y2="334.5" stroke="#aaa" stroke-width="0.8"/>
<line x1="428.2" x2="428.2" y1="331.9" y2="335.1" stroke="#aaa" stroke-width="0.8"/>
<text transform="translate(428.16,345.20)" text-anchor="middle" font-size="10.2" fill="#111" class="s">8</text>
<line x1="445.2" x2="445.2" y1="332.5" y2="334.5" stroke="#aaa" stroke-width="0.8"/>
<line x1="462.3" x2="462.3" y1="331.9" y2="335.1" stroke="#aaa" stroke-width="0.8"/>
<text transform="translate(462.30,345.20)" text-anchor="middle" font-size="10.2" fill="#111" class="s">10</text>
<text transform="translate(377.10,361.80) scale(1.060,1)" text-anchor="middle" font-size="11.4" fill="#111" class="t">Days in culture</text>
<text transform="translate(376.90,210.10) scale(1.076,1)" text-anchor="middle" font-size="11.2" fill="#111" class="t">1 day maturation</text>
<text transform="translate(270.00,273.85) rotate(-90) scale(1.110,1)" text-anchor="middle" font-size="11.2" fill="#111" class="t">Invasion area (mm<tspan font-size="8.6" dy="-4.0">2</tspan><tspan dy="4.0">)</tspan></text>
<line x1="394.0" x2="394.0" y1="302.0" y2="315.1" stroke="#b8b8b8" stroke-width="0.6"/>
<line x1="393.0" x2="395.0" y1="302.0" y2="302.0" stroke="#b8b8b8" stroke-width="0.6"/>
<line x1="393.0" x2="395.0" y1="315.1" y2="315.1" stroke="#b8b8b8" stroke-width="0.6"/>
<line x1="411.1" x2="411.1" y1="298.9" y2="309.2" stroke="#b8b8b8" stroke-width="0.6"/>
<line x1="410.1" x2="412.1" y1="298.9" y2="298.9" stroke="#b8b8b8" stroke-width="0.6"/>
<line x1="410.1" x2="412.1" y1="309.2" y2="309.2" stroke="#b8b8b8" stroke-width="0.6"/>
<line x1="428.2" x2="428.2" y1="266.9" y2="301.1" stroke="#b8b8b8" stroke-width="0.6"/>
<line x1="427.2" x2="429.2" y1="266.9" y2="266.9" stroke="#b8b8b8" stroke-width="0.6"/>
<line x1="427.2" x2="429.2" y1="301.1" y2="301.1" stroke="#b8b8b8" stroke-width="0.6"/>
<line x1="445.2" x2="445.2" y1="234.5" y2="293.0" stroke="#b8b8b8" stroke-width="0.6"/>
<line x1="444.2" x2="446.2" y1="234.5" y2="234.5" stroke="#b8b8b8" stroke-width="0.6"/>
<line x1="444.2" x2="446.2" y1="293.0" y2="293.0" stroke="#b8b8b8" stroke-width="0.6"/>
<polyline points="308.67,333.50 325.74,331.70 342.81,328.10 359.88,322.70 376.95,318.20 394.02,312.80 411.09,303.35 428.16,283.10 445.23,263.30" fill="none" stroke="#6fd0da" stroke-width="1.2" stroke-linejoin="round"/>
<circle cx="308.67" cy="333.50" r="1.3" fill="#fff" stroke="#6fd0da" stroke-width="1.2"/>
<circle cx="325.74" cy="331.70" r="1.3" fill="#fff" stroke="#6fd0da" stroke-width="1.2"/>
<circle cx="342.81" cy="328.10" r="1.3" fill="#fff" stroke="#6fd0da" stroke-width="1.2"/>
<circle cx="359.88" cy="322.70" r="1.3" fill="#fff" stroke="#6fd0da" stroke-width="1.2"/>
<circle cx="376.95" cy="318.20" r="1.3" fill="#fff" stroke="#6fd0da" stroke-width="1.2"/>
<circle cx="394.02" cy="312.80" r="1.3" fill="#fff" stroke="#6fd0da" stroke-width="1.2"/>
<circle cx="411.09" cy="303.35" r="1.3" fill="#fff" stroke="#6fd0da" stroke-width="1.2"/>
<circle cx="428.16" cy="283.10" r="1.3" fill="#fff" stroke="#6fd0da" stroke-width="1.2"/>
<circle cx="445.23" cy="263.30" r="1.3" fill="#fff" stroke="#6fd0da" stroke-width="1.2"/>
<polyline points="308.67,333.50 325.74,331.70 342.81,328.10 359.88,322.70 376.95,318.20 394.02,306.05 411.09,303.35 428.16,286.25 445.23,270.95" fill="none" stroke="#6a9fe6" stroke-width="1.2" stroke-linejoin="round"/>
<circle cx="308.67" cy="333.50" r="1.3" fill="#fff" stroke="#6a9fe6" stroke-width="1.2"/>
<circle cx="325.74" cy="331.70" r="1.3" fill="#fff" stroke="#6a9fe6" stroke-width="1.2"/>
<circle cx="342.81" cy="328.10" r="1.3" fill="#fff" stroke="#6a9fe6" stroke-width="1.2"/>
<circle cx="359.88" cy="322.70" r="1.3" fill="#fff" stroke="#6a9fe6" stroke-width="1.2"/>
<circle cx="376.95" cy="318.20" r="1.3" fill="#fff" stroke="#6a9fe6" stroke-width="1.2"/>
<circle cx="394.02" cy="306.05" r="1.3" fill="#fff" stroke="#6a9fe6" stroke-width="1.2"/>
<circle cx="411.09" cy="303.35" r="1.3" fill="#fff" stroke="#6a9fe6" stroke-width="1.2"/>
<circle cx="428.16" cy="286.25" r="1.3" fill="#fff" stroke="#6a9fe6" stroke-width="1.2"/>
<circle cx="445.23" cy="270.95" r="1.3" fill="#fff" stroke="#6a9fe6" stroke-width="1.2"/>
<polyline points="308.67,333.50 325.74,331.70 342.81,328.10 359.88,322.70 376.95,318.20 394.02,309.20 411.09,303.35 428.16,288.50 445.23,270.95" fill="none" stroke="#2434f4" stroke-width="1.5" stroke-linejoin="round"/>
<circle cx="308.67" cy="333.50" r="1.3" fill="#fff" stroke="#2434f4" stroke-width="1.2"/>
<circle cx="325.74" cy="331.70" r="1.3" fill="#fff" stroke="#2434f4" stroke-width="1.2"/>
<circle cx="342.81" cy="328.10" r="1.3" fill="#fff" stroke="#2434f4" stroke-width="1.2"/>
<circle cx="359.88" cy="322.70" r="1.3" fill="#fff" stroke="#2434f4" stroke-width="1.2"/>
<circle cx="376.95" cy="318.20" r="1.3" fill="#fff" stroke="#2434f4" stroke-width="1.2"/>
<circle cx="394.02" cy="309.20" r="1.3" fill="#fff" stroke="#2434f4" stroke-width="1.2"/>
<circle cx="411.09" cy="303.35" r="1.3" fill="#fff" stroke="#2434f4" stroke-width="1.2"/>
<circle cx="428.16" cy="288.50" r="1.3" fill="#fff" stroke="#2434f4" stroke-width="1.2"/>
<circle cx="445.23" cy="270.95" r="1.3" fill="#fff" stroke="#2434f4" stroke-width="1.2"/>
<line x1="295" x2="305.8" y1="221.6" y2="221.6" stroke="#6fd0da" stroke-width="1.2"/>
<circle cx="300.4" cy="221.6" r="1.4" fill="#fff" stroke="#6fd0da" stroke-width="0.9"/>
<text transform="translate(309.30,224.50) scale(1.070,1)" text-anchor="start" font-size="8.4" fill="#111" class="s">MM-0.4</text>
<line x1="295" x2="305.8" y1="232.4" y2="232.4" stroke="#6a9fe6" stroke-width="1.2"/>
<circle cx="300.4" cy="232.4" r="1.4" fill="#fff" stroke="#6a9fe6" stroke-width="0.9"/>
<text transform="translate(309.30,235.30) scale(1.070,1)" text-anchor="start" font-size="8.4" fill="#111" class="s">MM-0.5</text>
<line x1="295" x2="305.8" y1="243.2" y2="243.2" stroke="#2434f4" stroke-width="1.2"/>
<circle cx="300.4" cy="243.2" r="1.4" fill="#fff" stroke="#2434f4" stroke-width="0.9"/>
<text transform="translate(309.30,246.10) scale(1.070,1)" text-anchor="start" font-size="8.4" fill="#111" class="s">MM-1</text>
<path d="M291.6,397 H462.3 V514.8 H291.6 Z" fill="none" stroke="#cfcfcf" stroke-width="1"/>
<line x1="290.0" x2="293.20000000000005" y1="508.4" y2="508.4" stroke="#aaa" stroke-width="0.8"/>
<text transform="translate(287.60,512.20) scale(0.950,1)" text-anchor="end" font-size="10.2" fill="#111" class="s">0</text>
<line x1="290.6" x2="292.6" y1="497.8" y2="497.8" stroke="#aaa" stroke-width="0.8"/>
<line x1="290.0" x2="293.20000000000005" y1="487.2" y2="487.2" stroke="#aaa" stroke-width="0.8"/>
<text transform="translate(287.60,491.00) scale(0.950,1)" text-anchor="end" font-size="10.2" fill="#111" class="s">0.5</text>
<line x1="290.6" x2="292.6" y1="476.6" y2="476.6" stroke="#aaa" stroke-width="0.8"/>
<line x1="290.0" x2="293.20000000000005" y1="466.0" y2="466.0" stroke="#aaa" stroke-width="0.8"/>
<text transform="translate(287.60,469.80) scale(0.950,1)" text-anchor="end" font-size="10.2" fill="#111" class="s">1.0</text>
<line x1="290.6" x2="292.6" y1="455.4" y2="455.4" stroke="#aaa" stroke-width="0.8"/>
<line x1="290.0" x2="293.20000000000005" y1="444.8" y2="444.8" stroke="#aaa" stroke-width="0.8"/>
<text transform="translate(287.60,448.60) scale(0.950,1)" text-anchor="end" font-size="10.2" fill="#111" class="s">1.5</text>
<line x1="290.6" x2="292.6" y1="434.2" y2="434.2" stroke="#aaa" stroke-width="0.8"/>
<line x1="290.0" x2="293.20000000000005" y1="423.6" y2="423.6" stroke="#aaa" stroke-width="0.8"/>
<text transform="translate(287.60,427.40) scale(0.950,1)" text-anchor="end" font-size="10.2" fill="#111" class="s">2.0</text>
<line x1="290.6" x2="292.6" y1="413.0" y2="413.0" stroke="#aaa" stroke-width="0.8"/>
<line x1="290.0" x2="293.20000000000005" y1="402.4" y2="402.4" stroke="#aaa" stroke-width="0.8"/>
<text transform="translate(287.60,406.20) scale(0.950,1)" text-anchor="end" font-size="10.2" fill="#111" class="s">2.5</text>
<line x1="308.7" x2="308.7" y1="513.8" y2="515.8" stroke="#aaa" stroke-width="0.8"/>
<line x1="325.7" x2="325.7" y1="513.2" y2="516.4" stroke="#aaa" stroke-width="0.8"/>
<text transform="translate(325.74,526.46)" text-anchor="middle" font-size="10.2" fill="#111" class="s">2</text>
<line x1="342.8" x2="342.8" y1="513.8" y2="515.8" stroke="#aaa" stroke-width="0.8"/>
<line x1="359.9" x2="359.9" y1="513.2" y2="516.4" stroke="#aaa" stroke-width="0.8"/>
<text transform="translate(359.88,526.46)" text-anchor="middle" font-size="10.2" fill="#111" class="s">4</text>
<line x1="377.0" x2="377.0" y1="513.8" y2="515.8" stroke="#aaa" stroke-width="0.8"/>
<line x1="394.0" x2="394.0" y1="513.2" y2="516.4" stroke="#aaa" stroke-width="0.8"/>
<text transform="translate(394.02,526.46)" text-anchor="middle" font-size="10.2" fill="#111" class="s">6</text>
<line x1="411.1" x2="411.1" y1="513.8" y2="515.8" stroke="#aaa" stroke-width="0.8"/>
<line x1="428.2" x2="428.2" y1="513.2" y2="516.4" stroke="#aaa" stroke-width="0.8"/>
<text transform="translate(428.16,526.46)" text-anchor="middle" font-size="10.2" fill="#111" class="s">8</text>
<line x1="445.2" x2="445.2" y1="513.8" y2="515.8" stroke="#aaa" stroke-width="0.8"/>
<line x1="462.3" x2="462.3" y1="513.2" y2="516.4" stroke="#aaa" stroke-width="0.8"/>
<text transform="translate(462.30,526.46)" text-anchor="middle" font-size="10.2" fill="#111" class="s">10</text>
<text transform="translate(377.10,543.06) scale(1.060,1)" text-anchor="middle" font-size="11.4" fill="#111" class="t">Days in culture</text>
<text transform="translate(376.90,392.10) scale(1.076,1)" text-anchor="middle" font-size="11.2" fill="#111" class="t">2 days maturation</text>
<text transform="translate(270.00,455.48) rotate(-90) scale(1.110,1)" text-anchor="middle" font-size="11.2" fill="#111" class="t">Invasion area (mm<tspan font-size="8.6" dy="-4.0">2</tspan><tspan dy="4.0">)</tspan></text>
<line x1="377.0" x2="377.0" y1="489.3" y2="511.4" stroke="#b8b8b8" stroke-width="0.6"/>
<line x1="376.0" x2="378.0" y1="489.3" y2="489.3" stroke="#b8b8b8" stroke-width="0.6"/>
<line x1="376.0" x2="378.0" y1="511.4" y2="511.4" stroke="#b8b8b8" stroke-width="0.6"/>
<line x1="394.0" x2="394.0" y1="463.5" y2="511.4" stroke="#b8b8b8" stroke-width="0.6"/>
<line x1="393.0" x2="395.0" y1="463.5" y2="463.5" stroke="#b8b8b8" stroke-width="0.6"/>
<line x1="393.0" x2="395.0" y1="511.4" y2="511.4" stroke="#b8b8b8" stroke-width="0.6"/>
<line x1="411.1" x2="411.1" y1="432.9" y2="487.2" stroke="#b8b8b8" stroke-width="0.6"/>
<line x1="410.1" x2="412.1" y1="432.9" y2="432.9" stroke="#b8b8b8" stroke-width="0.6"/>
<line x1="410.1" x2="412.1" y1="487.2" y2="487.2" stroke="#b8b8b8" stroke-width="0.6"/>
<line x1="428.2" x2="428.2" y1="410.9" y2="480.8" stroke="#b8b8b8" stroke-width="0.6"/>
<line x1="427.2" x2="429.2" y1="410.9" y2="410.9" stroke="#b8b8b8" stroke-width="0.6"/>
<line x1="427.2" x2="429.2" y1="480.8" y2="480.8" stroke="#b8b8b8" stroke-width="0.6"/>
<polyline points="325.74,508.40 342.81,505.01 359.88,500.77 376.95,494.83 394.02,486.35 411.09,466.85 428.16,426.57" fill="none" stroke="#6fd0da" stroke-width="1.2" stroke-linejoin="round"/>
<circle cx="325.74" cy="508.40" r="1.3" fill="#fff" stroke="#6fd0da" stroke-width="1.2"/>
<circle cx="342.81" cy="505.01" r="1.3" fill="#fff" stroke="#6fd0da" stroke-width="1.2"/>
<circle cx="359.88" cy="500.77" r="1.3" fill="#fff" stroke="#6fd0da" stroke-width="1.2"/>
<circle cx="376.95" cy="494.83" r="1.3" fill="#fff" stroke="#6fd0da" stroke-width="1.2"/>
<circle cx="394.02" cy="486.35" r="1.3" fill="#fff" stroke="#6fd0da" stroke-width="1.2"/>
<circle cx="411.09" cy="466.85" r="1.3" fill="#fff" stroke="#6fd0da" stroke-width="1.2"/>
<circle cx="428.16" cy="426.57" r="1.3" fill="#fff" stroke="#6fd0da" stroke-width="1.2"/>
<polyline points="325.74,508.40 342.81,505.01 359.88,500.77 376.95,493.14 394.02,477.02 411.09,456.25 428.16,452.86" fill="none" stroke="#6a9fe6" stroke-width="1.2" stroke-linejoin="round"/>
<circle cx="325.74" cy="508.40" r="1.3" fill="#fff" stroke="#6a9fe6" stroke-width="1.2"/>
<circle cx="342.81" cy="505.01" r="1.3" fill="#fff" stroke="#6a9fe6" stroke-width="1.2"/>
<circle cx="359.88" cy="500.77" r="1.3" fill="#fff" stroke="#6a9fe6" stroke-width="1.2"/>
<circle cx="376.95" cy="493.14" r="1.3" fill="#fff" stroke="#6a9fe6" stroke-width="1.2"/>
<circle cx="394.02" cy="477.02" r="1.3" fill="#fff" stroke="#6a9fe6" stroke-width="1.2"/>
<circle cx="411.09" cy="456.25" r="1.3" fill="#fff" stroke="#6a9fe6" stroke-width="1.2"/>
<circle cx="428.16" cy="452.86" r="1.3" fill="#fff" stroke="#6a9fe6" stroke-width="1.2"/>
<polyline points="325.74,508.40 342.81,505.01 359.88,500.77 376.95,496.53 394.02,488.90 411.09,479.99 428.16,468.12" fill="none" stroke="#2434f4" stroke-width="1.5" stroke-linejoin="round"/>
<circle cx="325.74" cy="508.40" r="1.3" fill="#fff" stroke="#2434f4" stroke-width="1.2"/>
<circle cx="342.81" cy="505.01" r="1.3" fill="#fff" stroke="#2434f4" stroke-width="1.2"/>
<circle cx="359.88" cy="500.77" r="1.3" fill="#fff" stroke="#2434f4" stroke-width="1.2"/>
<circle cx="376.95" cy="496.53" r="1.3" fill="#fff" stroke="#2434f4" stroke-width="1.2"/>
<circle cx="394.02" cy="488.90" r="1.3" fill="#fff" stroke="#2434f4" stroke-width="1.2"/>
<circle cx="411.09" cy="479.99" r="1.3" fill="#fff" stroke="#2434f4" stroke-width="1.2"/>
<circle cx="428.16" cy="468.12" r="1.3" fill="#fff" stroke="#2434f4" stroke-width="1.2"/>
<polyline points="325.74,508.40 342.81,508.40 359.88,505.43 376.95,499.92 394.02,484.66 411.09,468.97" fill="none" stroke="#66b33f" stroke-width="1.2" stroke-linejoin="round"/>
<circle cx="325.74" cy="508.40" r="1.3" fill="#fff" stroke="#66b33f" stroke-width="1.2"/>
<circle cx="342.81" cy="508.40" r="1.3" fill="#fff" stroke="#66b33f" stroke-width="1.2"/>
<circle cx="359.88" cy="505.43" r="1.3" fill="#fff" stroke="#66b33f" stroke-width="1.2"/>
<circle cx="376.95" cy="499.92" r="1.3" fill="#fff" stroke="#66b33f" stroke-width="1.2"/>
<circle cx="394.02" cy="484.66" r="1.3" fill="#fff" stroke="#66b33f" stroke-width="1.2"/>
<circle cx="411.09" cy="468.97" r="1.3" fill="#fff" stroke="#66b33f" stroke-width="1.2"/>
<line x1="295" x2="305.8" y1="403.6" y2="403.6" stroke="#6fd0da" stroke-width="1.2"/>
<circle cx="300.4" cy="403.6" r="1.4" fill="#fff" stroke="#6fd0da" stroke-width="0.9"/>
<text transform="translate(309.30,406.50) scale(1.070,1)" text-anchor="start" font-size="8.4" fill="#111" class="s">MM-0.4</text>
<line x1="295" x2="305.8" y1="414.4" y2="414.4" stroke="#6a9fe6" stroke-width="1.2"/>
<circle cx="300.4" cy="414.4" r="1.4" fill="#fff" stroke="#6a9fe6" stroke-width="0.9"/>
<text transform="translate(309.30,417.30) scale(1.070,1)" text-anchor="start" font-size="8.4" fill="#111" class="s">MM-0.5</text>
<line x1="295" x2="305.8" y1="425.2" y2="425.2" stroke="#2434f4" stroke-width="1.2"/>
<circle cx="300.4" cy="425.2" r="1.4" fill="#fff" stroke="#2434f4" stroke-width="0.9"/>
<text transform="translate(309.30,428.10) scale(1.070,1)" text-anchor="start" font-size="8.4" fill="#111" class="s">MM-1</text>
<line x1="295" x2="305.8" y1="436.0" y2="436.0" stroke="#66b33f" stroke-width="1.2"/>
<circle cx="300.4" cy="436.0" r="1.4" fill="#fff" stroke="#66b33f" stroke-width="0.9"/>
<text transform="translate(309.30,438.90) scale(1.070,1)" text-anchor="start" font-size="8.4" fill="#111" class="s">Hanging drop</text>
</svg>
</body></html>
